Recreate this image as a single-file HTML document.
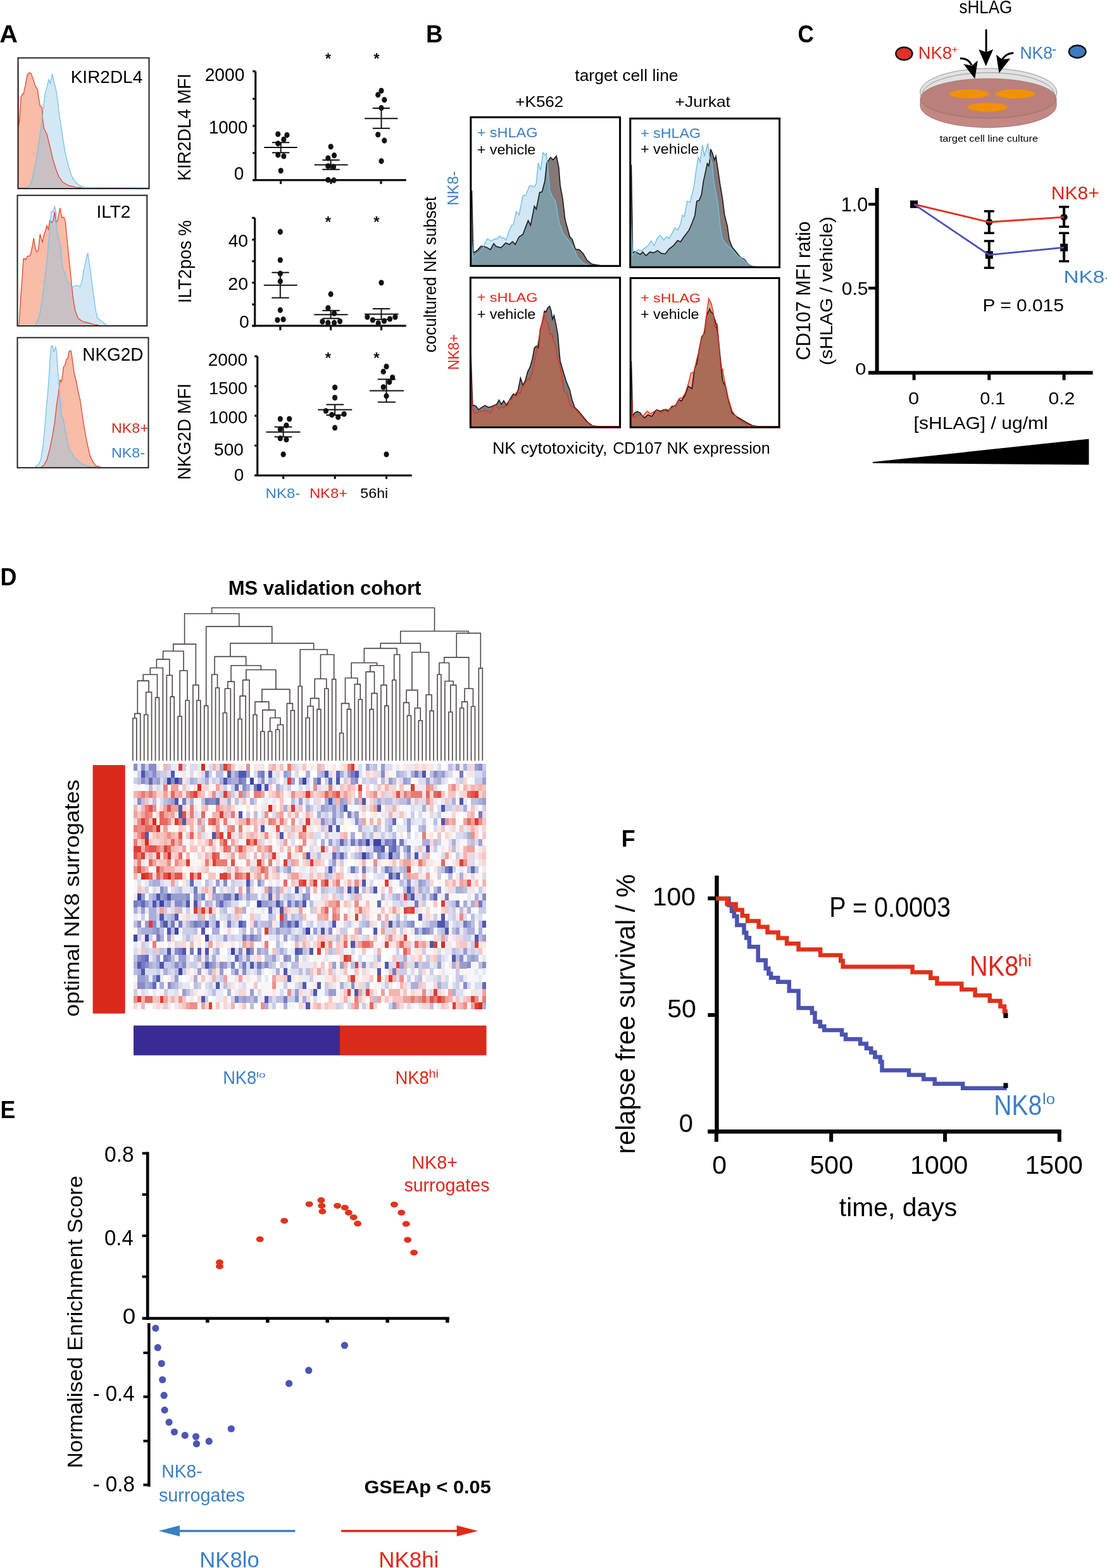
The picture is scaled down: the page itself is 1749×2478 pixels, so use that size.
<!DOCTYPE html><html><head><meta charset="utf-8"><style>html,body{margin:0;padding:0;background:#fff}svg{display:block}text{font-family:"Liberation Sans",Arial,sans-serif}</style></head><body>
<svg width="1749" height="2478" viewBox="0 0 1749 2478">
<rect width="1749" height="2478" fill="#fff"/>
<text x="-0.89" y="66.70" font-size="38.37" textLength="28.74" lengthAdjust="spacingAndGlyphs" fill="#000" font-weight="bold">A</text>
<defs>
<clipPath id="clipA1"><polygon points="28.53,296.80 28.53,296.81 28.69,97.86 29.30,199.65 30.85,190.39 33.16,153.38 35.47,148.75 37.01,148.75 40.10,134.87 43.18,117.91 46.27,114.82 49.35,116.37 52.44,125.62 55.52,134.87 57.83,139.50 59.38,141.04 60.92,153.38 63.23,167.26 66.32,168.80 67.09,184.23 69.40,202.73 74.03,211.99 78.66,230.49 83.28,250.54 87.91,265.97 92.54,278.30 98.70,287.56 107.96,292.95 120.30,296.04 131.09,296.81 131.09,296.80"/></clipPath>
<clipPath id="clipA2"><polygon points="30.07,513.60 30.07,513.63 32.39,475.07 34.70,444.23 37.01,408.75 39.33,408.75 40.87,410.30 43.18,404.90 47.81,404.13 50.89,390.25 53.21,376.37 55.52,390.25 57.83,397.96 60.15,396.42 63.23,370.20 65.55,377.91 67.09,382.54 69.40,371.74 72.49,362.49 74.03,356.32 76.34,362.49 78.66,348.61 81.74,351.69 84.05,348.61 86.37,334.73 88.68,351.69 90.99,348.61 94.85,328.56 97.93,343.98 101.02,343.21 103.33,350.15 104.87,367.11 107.96,397.96 111.04,428.80 113.36,451.94 115.67,471.99 118.75,490.49 123.38,502.83 129.55,507.46 134.18,509.00 141.89,510.54 148.06,512.86 155.77,513.63 155.77,513.60"/></clipPath>
<clipPath id="clipA3"><polygon points="64.77,738.20 64.77,738.23 69.40,735.14 74.03,726.66 78.66,709.70 83.28,686.56 86.37,668.06 89.45,640.30 92.54,620.25 94.08,606.37 94.85,600.20 97.16,603.28 98.70,594.03 100.25,580.15 102.56,577.06 104.87,567.81 107.19,566.27 108.73,557.01 110.27,553.93 112.58,555.47 114.90,572.44 117.21,589.40 120.30,601.74 123.38,618.70 126.47,631.04 129.55,652.63 132.63,672.68 135.72,691.19 138.80,705.07 141.89,718.95 145.74,728.20 151.14,735.92 158.85,738.23 158.85,738.20"/></clipPath>
</defs>
<polygon points="28.53,296.80 28.53,296.81 28.69,97.86 29.30,199.65 30.85,190.39 33.16,153.38 35.47,148.75 37.01,148.75 40.10,134.87 43.18,117.91 46.27,114.82 49.35,116.37 52.44,125.62 55.52,134.87 57.83,139.50 59.38,141.04 60.92,153.38 63.23,167.26 66.32,168.80 67.09,184.23 69.40,202.73 74.03,211.99 78.66,230.49 83.28,250.54 87.91,265.97 92.54,278.30 98.70,287.56 107.96,292.95 120.30,296.04 131.09,296.81 131.09,296.80" fill="#f9bca8"/>
<polygon points="28.53,296.80 28.53,296.81 40.10,296.81 46.27,294.50 50.89,284.47 53.98,269.05 58.61,245.92 61.69,222.78 64.77,202.73 67.86,178.06 70.94,148.75 74.03,137.96 77.11,125.62 79.43,131.79 82.51,116.37 85.60,130.25 88.68,142.58 90.99,158.01 94.08,184.23 97.16,204.28 100.25,224.32 103.33,242.83 107.96,261.34 112.58,276.76 118.75,287.56 126.47,293.73 135.72,296.04 235.19,296.81 235.19,296.80" fill="#d3e7f5"/>
<polygon points="28.53,296.80 28.53,296.81 40.10,296.81 46.27,294.50 50.89,284.47 53.98,269.05 58.61,245.92 61.69,222.78 64.77,202.73 67.86,178.06 70.94,148.75 74.03,137.96 77.11,125.62 79.43,131.79 82.51,116.37 85.60,130.25 88.68,142.58 90.99,158.01 94.08,184.23 97.16,204.28 100.25,224.32 103.33,242.83 107.96,261.34 112.58,276.76 118.75,287.56 126.47,293.73 135.72,296.04 235.19,296.81 235.19,296.80" fill="#c9c0c3" clip-path="url(#clipA1)"/>
<polyline points="28.53,296.81 28.69,97.86 29.30,199.65 30.85,190.39 33.16,153.38 35.47,148.75 37.01,148.75 40.10,134.87 43.18,117.91 46.27,114.82 49.35,116.37 52.44,125.62 55.52,134.87 57.83,139.50 59.38,141.04 60.92,153.38 63.23,167.26 66.32,168.80 67.09,184.23 69.40,202.73 74.03,211.99 78.66,230.49 83.28,250.54 87.91,265.97 92.54,278.30 98.70,287.56 107.96,292.95 120.30,296.04 131.09,296.81" fill="none" stroke="#e8452f" stroke-width="1.3"/>
<polyline points="28.53,296.81 40.10,296.81 46.27,294.50 50.89,284.47 53.98,269.05 58.61,245.92 61.69,222.78 64.77,202.73 67.86,178.06 70.94,148.75 74.03,137.96 77.11,125.62 79.43,131.79 82.51,116.37 85.60,130.25 88.68,142.58 90.99,158.01 94.08,184.23 97.16,204.28 100.25,224.32 103.33,242.83 107.96,261.34 112.58,276.76 118.75,287.56 126.47,293.73 135.72,296.04 235.19,296.81" fill="none" stroke="#74c3e6" stroke-width="1.3"/>
<rect x="28.5" y="91.5" width="207" height="206.5" fill="none" stroke="#222" stroke-width="2"/>
<polygon points="30.07,513.60 30.07,513.63 32.39,475.07 34.70,444.23 37.01,408.75 39.33,408.75 40.87,410.30 43.18,404.90 47.81,404.13 50.89,390.25 53.21,376.37 55.52,390.25 57.83,397.96 60.15,396.42 63.23,370.20 65.55,377.91 67.09,382.54 69.40,371.74 72.49,362.49 74.03,356.32 76.34,362.49 78.66,348.61 81.74,351.69 84.05,348.61 86.37,334.73 88.68,351.69 90.99,348.61 94.85,328.56 97.93,343.98 101.02,343.21 103.33,350.15 104.87,367.11 107.96,397.96 111.04,428.80 113.36,451.94 115.67,471.99 118.75,490.49 123.38,502.83 129.55,507.46 134.18,509.00 141.89,510.54 148.06,512.86 155.77,513.63 155.77,513.60" fill="#f9bca8"/>
<polygon points="55.52,513.60 55.52,513.63 60.15,505.92 63.23,495.12 66.32,475.07 69.40,451.94 72.49,428.80 75.57,397.96 78.66,359.40 80.97,334.73 84.05,333.18 86.37,326.24 88.68,336.27 89.45,364.03 92.54,376.37 95.62,388.70 98.70,422.63 101.79,428.80 106.42,444.23 111.04,450.39 114.13,453.48 117.21,451.94 123.38,451.17 126.47,453.48 129.55,444.23 132.63,425.72 135.72,411.84 138.80,399.50 141.89,421.09 144.97,444.23 148.06,467.36 151.14,490.49 154.23,502.83 160.39,507.46 168.11,513.63 168.11,513.60" fill="#d3e7f5"/>
<polygon points="55.52,513.60 55.52,513.63 60.15,505.92 63.23,495.12 66.32,475.07 69.40,451.94 72.49,428.80 75.57,397.96 78.66,359.40 80.97,334.73 84.05,333.18 86.37,326.24 88.68,336.27 89.45,364.03 92.54,376.37 95.62,388.70 98.70,422.63 101.79,428.80 106.42,444.23 111.04,450.39 114.13,453.48 117.21,451.94 123.38,451.17 126.47,453.48 129.55,444.23 132.63,425.72 135.72,411.84 138.80,399.50 141.89,421.09 144.97,444.23 148.06,467.36 151.14,490.49 154.23,502.83 160.39,507.46 168.11,513.63 168.11,513.60" fill="#c9c0c3" clip-path="url(#clipA2)"/>
<polyline points="30.07,513.63 32.39,475.07 34.70,444.23 37.01,408.75 39.33,408.75 40.87,410.30 43.18,404.90 47.81,404.13 50.89,390.25 53.21,376.37 55.52,390.25 57.83,397.96 60.15,396.42 63.23,370.20 65.55,377.91 67.09,382.54 69.40,371.74 72.49,362.49 74.03,356.32 76.34,362.49 78.66,348.61 81.74,351.69 84.05,348.61 86.37,334.73 88.68,351.69 90.99,348.61 94.85,328.56 97.93,343.98 101.02,343.21 103.33,350.15 104.87,367.11 107.96,397.96 111.04,428.80 113.36,451.94 115.67,471.99 118.75,490.49 123.38,502.83 129.55,507.46 134.18,509.00 141.89,510.54 148.06,512.86 155.77,513.63" fill="none" stroke="#e8452f" stroke-width="1.3"/>
<polyline points="55.52,513.63 60.15,505.92 63.23,495.12 66.32,475.07 69.40,451.94 72.49,428.80 75.57,397.96 78.66,359.40 80.97,334.73 84.05,333.18 86.37,326.24 88.68,336.27 89.45,364.03 92.54,376.37 95.62,388.70 98.70,422.63 101.79,428.80 106.42,444.23 111.04,450.39 114.13,453.48 117.21,451.94 123.38,451.17 126.47,453.48 129.55,444.23 132.63,425.72 135.72,411.84 138.80,399.50 141.89,421.09 144.97,444.23 148.06,467.36 151.14,490.49 154.23,502.83 160.39,507.46 168.11,513.63" fill="none" stroke="#74c3e6" stroke-width="1.3"/>
<rect x="27.5" y="308.7" width="204.8" height="206.3" fill="none" stroke="#222" stroke-width="2"/>
<polygon points="64.77,738.20 64.77,738.23 69.40,735.14 74.03,726.66 78.66,709.70 83.28,686.56 86.37,668.06 89.45,640.30 92.54,620.25 94.08,606.37 94.85,600.20 97.16,603.28 98.70,594.03 100.25,580.15 102.56,577.06 104.87,567.81 107.19,566.27 108.73,557.01 110.27,553.93 112.58,555.47 114.90,572.44 117.21,589.40 120.30,601.74 123.38,618.70 126.47,631.04 129.55,652.63 132.63,672.68 135.72,691.19 138.80,705.07 141.89,718.95 145.74,728.20 151.14,735.92 158.85,738.23 158.85,738.20" fill="#f9bca8"/>
<polygon points="55.52,738.20 55.52,738.23 61.69,732.83 64.77,725.12 67.86,705.07 70.94,674.23 73.26,643.38 75.57,620.25 77.88,589.40 79.43,563.18 80.97,546.99 83.28,546.99 84.82,555.47 86.37,553.16 87.91,548.53 89.45,555.47 90.99,578.61 92.54,600.20 94.85,627.96 97.16,655.72 100.25,663.43 103.33,681.94 106.42,697.36 109.50,711.24 114.13,715.87 117.21,723.58 121.84,726.66 126.47,731.29 131.09,734.37 138.80,736.69 146.51,737.77 154.23,738.23 154.23,738.20" fill="#d3e7f5"/>
<polygon points="55.52,738.20 55.52,738.23 61.69,732.83 64.77,725.12 67.86,705.07 70.94,674.23 73.26,643.38 75.57,620.25 77.88,589.40 79.43,563.18 80.97,546.99 83.28,546.99 84.82,555.47 86.37,553.16 87.91,548.53 89.45,555.47 90.99,578.61 92.54,600.20 94.85,627.96 97.16,655.72 100.25,663.43 103.33,681.94 106.42,697.36 109.50,711.24 114.13,715.87 117.21,723.58 121.84,726.66 126.47,731.29 131.09,734.37 138.80,736.69 146.51,737.77 154.23,738.23 154.23,738.20" fill="#c9c0c3" clip-path="url(#clipA3)"/>
<polyline points="64.77,738.23 69.40,735.14 74.03,726.66 78.66,709.70 83.28,686.56 86.37,668.06 89.45,640.30 92.54,620.25 94.08,606.37 94.85,600.20 97.16,603.28 98.70,594.03 100.25,580.15 102.56,577.06 104.87,567.81 107.19,566.27 108.73,557.01 110.27,553.93 112.58,555.47 114.90,572.44 117.21,589.40 120.30,601.74 123.38,618.70 126.47,631.04 129.55,652.63 132.63,672.68 135.72,691.19 138.80,705.07 141.89,718.95 145.74,728.20 151.14,735.92 158.85,738.23" fill="none" stroke="#e8452f" stroke-width="1.3"/>
<polyline points="55.52,738.23 61.69,732.83 64.77,725.12 67.86,705.07 70.94,674.23 73.26,643.38 75.57,620.25 77.88,589.40 79.43,563.18 80.97,546.99 83.28,546.99 84.82,555.47 86.37,553.16 87.91,548.53 89.45,555.47 90.99,578.61 92.54,600.20 94.85,627.96 97.16,655.72 100.25,663.43 103.33,681.94 106.42,697.36 109.50,711.24 114.13,715.87 117.21,723.58 121.84,726.66 126.47,731.29 131.09,734.37 138.80,736.69 146.51,737.77 154.23,738.23" fill="none" stroke="#74c3e6" stroke-width="1.3"/>
<rect x="27.5" y="533.6" width="207" height="205.6" fill="none" stroke="#222" stroke-width="2"/>
<text x="111.71" y="131.00" font-size="28.05" textLength="113.51" lengthAdjust="spacingAndGlyphs" fill="#000">KIR2DL4</text>
<text x="152.51" y="344.00" font-size="28.05" textLength="53.94" lengthAdjust="spacingAndGlyphs" fill="#000">ILT2</text>
<text x="130.31" y="569.70" font-size="28.63" textLength="96.02" lengthAdjust="spacingAndGlyphs" fill="#000">NKG2D</text>
<text x="176.10" y="683.80" font-size="21.80" textLength="58.65" lengthAdjust="spacingAndGlyphs" fill="#e0261b">NK8+</text>
<text x="176.09" y="722.80" font-size="22.38" textLength="52.94" lengthAdjust="spacingAndGlyphs" fill="#3b7fc4">NK8-</text>
<g stroke="#111" stroke-width="3.2" fill="none">
<line x1="403.7" y1="112.7" x2="403.7" y2="286.1"/>
<line x1="399.5" y1="284.6" x2="641.7" y2="284.6"/>
<line x1="399.2" y1="112.7" x2="403.7" y2="112.7"/>
<line x1="399.2" y1="156.2" x2="403.7" y2="156.2"/>
<line x1="399.2" y1="199" x2="403.7" y2="199"/>
<line x1="399.2" y1="241.8" x2="403.7" y2="241.8"/>
<line x1="399.2" y1="284.6" x2="403.7" y2="284.6"/>
<line x1="443.6" y1="284.6" x2="443.6" y2="290.8"/>
<line x1="523" y1="284.6" x2="523" y2="290.8"/>
<line x1="602" y1="284.6" x2="602" y2="290.8"/>
</g>
<ellipse cx="439.20" cy="212.00" rx="4.1" ry="4.55" fill="#111"/>
<ellipse cx="453.40" cy="213.40" rx="4.1" ry="4.55" fill="#111"/>
<ellipse cx="448.30" cy="220.40" rx="4.1" ry="4.55" fill="#111"/>
<ellipse cx="439.20" cy="226.90" rx="4.1" ry="4.55" fill="#111"/>
<ellipse cx="439.20" cy="244.90" rx="4.1" ry="4.55" fill="#111"/>
<ellipse cx="448.30" cy="246.90" rx="4.1" ry="4.55" fill="#111"/>
<ellipse cx="443.70" cy="269.70" rx="4.1" ry="4.55" fill="#111"/>
<line x1="417.3" y1="233.1" x2="469.7" y2="233.1" stroke="#111" stroke-width="2"/>
<line x1="430" y1="225.2" x2="457.2" y2="225.2" stroke="#111" stroke-width="2"/>
<line x1="430" y1="241.3" x2="457.2" y2="241.3" stroke="#111" stroke-width="2"/>
<line x1="443.7" y1="225.2" x2="443.7" y2="241.3" stroke="#111" stroke-width="2"/>
<ellipse cx="522.60" cy="231.70" rx="4.1" ry="4.55" fill="#111"/>
<ellipse cx="528.00" cy="245.60" rx="4.1" ry="4.55" fill="#111"/>
<ellipse cx="518.30" cy="250.00" rx="4.1" ry="4.55" fill="#111"/>
<ellipse cx="518.30" cy="262.50" rx="4.1" ry="4.55" fill="#111"/>
<ellipse cx="527.00" cy="263.70" rx="4.1" ry="4.55" fill="#111"/>
<ellipse cx="518.30" cy="284.20" rx="4.1" ry="4.55" fill="#111"/>
<ellipse cx="527.50" cy="284.90" rx="4.1" ry="4.55" fill="#111"/>
<line x1="496.7" y1="260.6" x2="549.6" y2="260.6" stroke="#111" stroke-width="2"/>
<line x1="509.4" y1="252.9" x2="536.6" y2="252.9" stroke="#111" stroke-width="2"/>
<line x1="509.4" y1="267.8" x2="536.6" y2="267.8" stroke="#111" stroke-width="2"/>
<line x1="522.6" y1="252.9" x2="522.6" y2="267.8" stroke="#111" stroke-width="2"/>
<ellipse cx="602.50" cy="143.40" rx="4.1" ry="4.55" fill="#111"/>
<ellipse cx="597.20" cy="149.90" rx="4.1" ry="4.55" fill="#111"/>
<ellipse cx="607.30" cy="157.80" rx="4.1" ry="4.55" fill="#111"/>
<ellipse cx="602.50" cy="170.60" rx="4.1" ry="4.55" fill="#111"/>
<ellipse cx="597.20" cy="212.70" rx="4.1" ry="4.55" fill="#111"/>
<ellipse cx="607.30" cy="222.10" rx="4.1" ry="4.55" fill="#111"/>
<ellipse cx="602.50" cy="254.60" rx="4.1" ry="4.55" fill="#111"/>
<line x1="576" y1="187.2" x2="628.5" y2="187.2" stroke="#111" stroke-width="2"/>
<line x1="588.8" y1="171" x2="616" y2="171" stroke="#111" stroke-width="2"/>
<line x1="588.8" y1="202.8" x2="616" y2="202.8" stroke="#111" stroke-width="2"/>
<line x1="602.5" y1="171" x2="602.5" y2="202.8" stroke="#111" stroke-width="2"/>
<text x="518.3" y="101" font-size="24" font-weight="bold" text-anchor="middle" fill="#111">*</text>
<text x="594.8" y="101" font-size="24" font-weight="bold" text-anchor="middle" fill="#111">*</text>
<g stroke="#111" stroke-width="3.2" fill="none">
<line x1="402.7" y1="344.4" x2="402.7" y2="516.4"/>
<line x1="398.7" y1="514.9" x2="641.7" y2="514.9"/>
<line x1="398.2" y1="344.4" x2="402.7" y2="344.4"/>
<line x1="398.2" y1="378.8" x2="402.7" y2="378.8"/>
<line x1="398.2" y1="412.8" x2="402.7" y2="412.8"/>
<line x1="398.2" y1="446.7" x2="402.7" y2="446.7"/>
<line x1="398.2" y1="481.1" x2="402.7" y2="481.1"/>
<line x1="398.2" y1="514.9" x2="402.7" y2="514.9"/>
<line x1="442.8" y1="514.9" x2="442.8" y2="522"/>
<line x1="522.6" y1="514.9" x2="522.6" y2="522"/>
<line x1="602.5" y1="514.9" x2="602.5" y2="522"/>
</g>
<ellipse cx="442.80" cy="366.40" rx="4.1" ry="4.55" fill="#111"/>
<ellipse cx="442.80" cy="411.00" rx="4.1" ry="4.55" fill="#111"/>
<ellipse cx="442.80" cy="432.40" rx="4.1" ry="4.55" fill="#111"/>
<ellipse cx="442.80" cy="444.60" rx="4.1" ry="4.55" fill="#111"/>
<ellipse cx="442.80" cy="490.10" rx="4.1" ry="4.55" fill="#111"/>
<ellipse cx="438.40" cy="505.80" rx="4.1" ry="4.55" fill="#111"/>
<ellipse cx="447.60" cy="504.80" rx="4.1" ry="4.55" fill="#111"/>
<line x1="416.8" y1="450.7" x2="469.7" y2="450.7" stroke="#111" stroke-width="2"/>
<line x1="429.3" y1="430.7" x2="456.7" y2="430.7" stroke="#111" stroke-width="2"/>
<line x1="429.3" y1="470.6" x2="456.7" y2="470.6" stroke="#111" stroke-width="2"/>
<line x1="442.8" y1="430.7" x2="442.8" y2="470.6" stroke="#111" stroke-width="2"/>
<ellipse cx="522.60" cy="464.90" rx="4.1" ry="4.55" fill="#111"/>
<ellipse cx="518.30" cy="486.70" rx="4.1" ry="4.55" fill="#111"/>
<ellipse cx="528.00" cy="495.20" rx="4.1" ry="4.55" fill="#111"/>
<ellipse cx="509.40" cy="508.20" rx="4.1" ry="4.55" fill="#111"/>
<ellipse cx="518.30" cy="510.10" rx="4.1" ry="4.55" fill="#111"/>
<ellipse cx="528.00" cy="510.10" rx="4.1" ry="4.55" fill="#111"/>
<ellipse cx="537.10" cy="507.70" rx="4.1" ry="4.55" fill="#111"/>
<line x1="496.2" y1="497.3" x2="549.6" y2="497.3" stroke="#111" stroke-width="2"/>
<line x1="509.4" y1="490.8" x2="536.6" y2="490.8" stroke="#111" stroke-width="2"/>
<line x1="509.4" y1="503.3" x2="536.6" y2="503.3" stroke="#111" stroke-width="2"/>
<line x1="522.6" y1="490.8" x2="522.6" y2="503.3" stroke="#111" stroke-width="2"/>
<ellipse cx="602.50" cy="446.80" rx="4.1" ry="4.55" fill="#111"/>
<ellipse cx="580.40" cy="501.00" rx="4.1" ry="4.55" fill="#111"/>
<ellipse cx="588.80" cy="505.80" rx="4.1" ry="4.55" fill="#111"/>
<ellipse cx="597.70" cy="510.80" rx="4.1" ry="4.55" fill="#111"/>
<ellipse cx="606.90" cy="507.20" rx="4.1" ry="4.55" fill="#111"/>
<ellipse cx="616.00" cy="504.00" rx="4.1" ry="4.55" fill="#111"/>
<ellipse cx="624.40" cy="501.00" rx="4.1" ry="4.55" fill="#111"/>
<line x1="576" y1="496.4" x2="629.7" y2="496.4" stroke="#111" stroke-width="2"/>
<line x1="588.8" y1="488" x2="616" y2="488" stroke="#111" stroke-width="2"/>
<line x1="588.8" y1="504.8" x2="616" y2="504.8" stroke="#111" stroke-width="2"/>
<line x1="602.5" y1="488" x2="602.5" y2="504.8" stroke="#111" stroke-width="2"/>
<text x="518.3" y="359" font-size="24" font-weight="bold" text-anchor="middle" fill="#111">*</text>
<text x="594.8" y="359" font-size="24" font-weight="bold" text-anchor="middle" fill="#111">*</text>
<g stroke="#111" stroke-width="3.2" fill="none">
<line x1="406.7" y1="563" x2="406.7" y2="752.8"/>
<line x1="402.3" y1="751.3" x2="650.7" y2="751.3"/>
<line x1="402.2" y1="563" x2="406.7" y2="563"/>
<line x1="402.2" y1="610.2" x2="406.7" y2="610.2"/>
<line x1="402.2" y1="657.1" x2="406.7" y2="657.1"/>
<line x1="402.2" y1="704.2" x2="406.7" y2="704.2"/>
<line x1="402.2" y1="751.3" x2="406.7" y2="751.3"/>
<line x1="447.6" y1="751.3" x2="447.6" y2="757"/>
<line x1="529.1" y1="751.3" x2="529.1" y2="757"/>
<line x1="610.5" y1="751.3" x2="610.5" y2="757"/>
</g>
<ellipse cx="442.80" cy="662.00" rx="4.1" ry="4.55" fill="#111"/>
<ellipse cx="457.20" cy="662.00" rx="4.1" ry="4.55" fill="#111"/>
<ellipse cx="452.40" cy="672.30" rx="4.1" ry="4.55" fill="#111"/>
<ellipse cx="442.80" cy="678.40" rx="4.1" ry="4.55" fill="#111"/>
<ellipse cx="442.80" cy="692.80" rx="4.1" ry="4.55" fill="#111"/>
<ellipse cx="452.40" cy="694.70" rx="4.1" ry="4.55" fill="#111"/>
<ellipse cx="447.60" cy="718.00" rx="4.1" ry="4.55" fill="#111"/>
<line x1="420.4" y1="682.7" x2="474.5" y2="682.7" stroke="#111" stroke-width="2"/>
<line x1="433.6" y1="674.7" x2="461.3" y2="674.7" stroke="#111" stroke-width="2"/>
<line x1="433.6" y1="690.4" x2="461.3" y2="690.4" stroke="#111" stroke-width="2"/>
<line x1="447.6" y1="674.7" x2="447.6" y2="690.4" stroke="#111" stroke-width="2"/>
<ellipse cx="529.10" cy="612.20" rx="4.1" ry="4.55" fill="#111"/>
<ellipse cx="529.10" cy="628.50" rx="4.1" ry="4.55" fill="#111"/>
<ellipse cx="514.90" cy="649.50" rx="4.1" ry="4.55" fill="#111"/>
<ellipse cx="524.30" cy="655.50" rx="4.1" ry="4.55" fill="#111"/>
<ellipse cx="534.20" cy="659.10" rx="4.1" ry="4.55" fill="#111"/>
<ellipse cx="543.60" cy="654.30" rx="4.1" ry="4.55" fill="#111"/>
<ellipse cx="529.10" cy="676.00" rx="4.1" ry="4.55" fill="#111"/>
<line x1="502.2" y1="647.6" x2="556.3" y2="647.6" stroke="#111" stroke-width="2"/>
<line x1="515.4" y1="639.4" x2="543.1" y2="639.4" stroke="#111" stroke-width="2"/>
<line x1="515.4" y1="656" x2="543.1" y2="656" stroke="#111" stroke-width="2"/>
<line x1="529.1" y1="639.4" x2="529.1" y2="656" stroke="#111" stroke-width="2"/>
<ellipse cx="610.50" cy="579.20" rx="4.1" ry="4.55" fill="#111"/>
<ellipse cx="605.70" cy="587.40" rx="4.1" ry="4.55" fill="#111"/>
<ellipse cx="620.10" cy="596.50" rx="4.1" ry="4.55" fill="#111"/>
<ellipse cx="615.30" cy="603.80" rx="4.1" ry="4.55" fill="#111"/>
<ellipse cx="605.70" cy="611.70" rx="4.1" ry="4.55" fill="#111"/>
<ellipse cx="610.50" cy="625.90" rx="4.1" ry="4.55" fill="#111"/>
<ellipse cx="610.50" cy="718.00" rx="4.1" ry="4.55" fill="#111"/>
<line x1="584" y1="617.5" x2="638.1" y2="617.5" stroke="#111" stroke-width="2"/>
<line x1="596.8" y1="599.4" x2="624.9" y2="599.4" stroke="#111" stroke-width="2"/>
<line x1="596.8" y1="635.5" x2="624.9" y2="635.5" stroke="#111" stroke-width="2"/>
<line x1="610.5" y1="599.4" x2="610.5" y2="635.5" stroke="#111" stroke-width="2"/>
<text x="518.3" y="573.5" font-size="24" font-weight="bold" text-anchor="middle" fill="#111">*</text>
<text x="594.8" y="573.5" font-size="24" font-weight="bold" text-anchor="middle" fill="#111">*</text>
<text x="323.68" y="127.62" font-size="29.10" textLength="62.72" lengthAdjust="spacingAndGlyphs" fill="#000">2000</text>
<text x="329.89" y="210.52" font-size="29.10" textLength="61.48" lengthAdjust="spacingAndGlyphs" fill="#000">1000</text>
<text x="369.81" y="283.62" font-size="29.10" textLength="15.59" lengthAdjust="spacingAndGlyphs" fill="#000">0</text>
<text x="360.65" y="389.82" font-size="28.25" textLength="31.45" lengthAdjust="spacingAndGlyphs" fill="#000">40</text>
<text x="360.36" y="457.72" font-size="28.25" textLength="31.75" lengthAdjust="spacingAndGlyphs" fill="#000">20</text>
<text x="378.10" y="518.33" font-size="27.68" textLength="15.71" lengthAdjust="spacingAndGlyphs" fill="#000">0</text>
<text x="328.69" y="578.02" font-size="28.53" textLength="62.30" lengthAdjust="spacingAndGlyphs" fill="#000">2000</text>
<text x="329.91" y="623.02" font-size="28.39" textLength="61.06" lengthAdjust="spacingAndGlyphs" fill="#000">1500</text>
<text x="329.91" y="669.42" font-size="28.39" textLength="61.06" lengthAdjust="spacingAndGlyphs" fill="#000">1000</text>
<text x="338.08" y="720.22" font-size="28.39" textLength="46.71" lengthAdjust="spacingAndGlyphs" fill="#000">500</text>
<text x="369.71" y="759.92" font-size="28.39" textLength="15.59" lengthAdjust="spacingAndGlyphs" fill="#000">0</text>
<text transform="translate(300.50,283.40) rotate(-90)" x="-2.30" y="0" font-size="29.51" textLength="169.58" lengthAdjust="spacingAndGlyphs" fill="#000">KIR2DL4 MFI</text>
<text transform="translate(301.50,476.40) rotate(-90)" x="-2.53" y="0" font-size="30.09" textLength="131.01" lengthAdjust="spacingAndGlyphs" fill="#000">ILT2pos %</text>
<text transform="translate(300.60,756.00) rotate(-90)" x="-2.29" y="0" font-size="28.78" textLength="152.28" lengthAdjust="spacingAndGlyphs" fill="#000">NKG2D MFI</text>
<text x="419.63" y="787.10" font-size="21.66" textLength="54.74" lengthAdjust="spacingAndGlyphs" fill="#3b7fc4">NK8-</text>
<text x="488.95" y="787.10" font-size="21.66" textLength="60.12" lengthAdjust="spacingAndGlyphs" fill="#e0261b">NK8+</text>
<text x="569.37" y="787.10" font-size="21.66" textLength="43.89" lengthAdjust="spacingAndGlyphs" fill="#000">56hi</text>
<text x="672.94" y="66.70" font-size="38.52" textLength="26.52" lengthAdjust="spacingAndGlyphs" fill="#000" font-weight="bold">B</text>
<text x="908.30" y="128.40" font-size="25.00" textLength="163.28" lengthAdjust="spacingAndGlyphs" fill="#000">target cell line</text>
<text x="814.33" y="168.80" font-size="23.40" textLength="75.98" lengthAdjust="spacingAndGlyphs" fill="#000">+K562</text>
<text x="1066.61" y="168.80" font-size="23.40" textLength="87.28" lengthAdjust="spacingAndGlyphs" fill="#000">+Jurkat</text>
<defs>
<clipPath id="clipB1"><polygon points="745.29,420.33 745.44,300.92 747.56,398.41 750.58,398.41 755.11,394.63 759.65,389.34 764.18,389.34 770.23,391.61 774.76,394.63 780.05,384.81 783.83,389.34 791.39,391.61 798.95,384.05 804.99,386.32 809.53,381.78 814.06,386.32 820.11,374.23 826.15,370.45 830.69,358.36 834.47,348.53 838.25,356.09 844.29,325.86 847.32,330.39 852.61,303.94 856.38,303.19 860.92,285.80 863.94,257.09 869.99,248.77 873.77,252.55 879.06,246.51 882.84,264.64 885.10,293.36 888.88,313.01 892.66,346.26 900.22,374.23 904.00,378.00 909.29,393.88 915.33,394.63 921.38,400.68 927.42,411.26 934.98,417.30 951.61,420.33 978.06,420.33"/></clipPath>
<clipPath id="clipB2"><polygon points="997.29,422.33 997.44,260.60 999.56,399.65 1002.58,397.39 1007.11,399.65 1011.65,401.92 1015.43,398.14 1020.72,404.19 1026.76,398.14 1032.81,399.65 1038.86,395.88 1044.90,400.41 1050.95,401.17 1056.99,393.61 1064.55,387.56 1070.60,380.00 1075.13,382.27 1079.67,375.47 1088.74,363.38 1093.27,352.80 1097.80,340.71 1100.83,318.03 1104.61,316.52 1108.38,307.45 1111.41,286.29 1114.43,272.69 1117.45,258.33 1119.72,262.11 1121.23,254.55 1122.74,235.66 1125.77,242.46 1128.79,253.04 1131.06,246.99 1134.08,266.64 1137.10,287.80 1141.64,315.01 1144.66,339.19 1149.19,357.33 1152.22,378.49 1156.75,390.59 1164.31,399.65 1170.36,407.21 1176.40,410.23 1182.45,417.79 1188.49,420.81 1196.05,422.33 1230.06,422.33"/></clipPath>
<clipPath id="clipB3"><polygon points="743.78,673.81 743.93,560.45 746.80,641.32 749.82,640.56 752.85,642.83 755.87,647.36 761.16,643.59 766.45,640.86 771.74,643.59 776.28,642.83 780.81,640.56 784.59,639.05 788.37,632.25 792.15,639.05 795.93,633.31 800.46,640.56 803.48,634.52 807.26,628.47 811.04,622.42 815.57,624.69 818.60,616.38 822.38,597.48 826.15,608.82 829.93,601.26 833.71,587.66 837.49,580.10 841.27,566.50 844.29,549.87 847.32,546.85 850.34,549.87 853.36,521.15 856.38,510.57 860.16,491.68 862.43,493.19 865.45,486.39 868.48,484.12 870.74,490.93 873.01,504.53 875.28,498.48 878.30,512.09 881.32,528.71 883.59,555.92 885.10,571.03 889.64,586.15 894.17,601.26 900.22,616.38 903.24,629.98 907.78,643.59 913.82,649.63 921.38,658.70 928.94,667.77 936.49,673.06 944.05,673.81 978.06,673.81"/></clipPath>
<clipPath id="clipB4"><polygon points="997.29,674.12 997.44,571.03 999.56,657.19 1003.34,651.90 1007.11,650.39 1011.65,652.65 1016.18,658.70 1018.45,660.21 1023.74,655.68 1029.79,657.94 1037.34,647.36 1043.39,649.63 1049.44,647.36 1055.48,649.63 1061.53,642.83 1067.57,640.56 1072.11,631.49 1076.64,633.76 1082.69,623.94 1087.22,610.33 1093.27,614.11 1097.80,580.10 1100.83,575.57 1103.85,555.92 1108.38,533.25 1112.92,525.69 1115.94,499.99 1121.23,487.90 1123.50,493.19 1126.52,495.46 1131.06,510.57 1134.08,525.69 1137.10,555.92 1141.64,601.26 1146.17,610.33 1150.71,631.49 1156.75,652.65 1164.31,658.70 1171.87,663.23 1179.42,667.77 1188.49,672.30 1196.05,673.81 1230.06,674.12"/></clipPath>
</defs>
<polygon points="745.29,420.33 745.44,300.92 747.56,398.41 750.58,398.41 755.11,394.63 759.65,389.34 764.18,389.34 770.23,391.61 774.76,394.63 780.05,384.81 783.83,389.34 791.39,391.61 798.95,384.05 804.99,386.32 809.53,381.78 814.06,386.32 820.11,374.23 826.15,370.45 830.69,358.36 834.47,348.53 838.25,356.09 844.29,325.86 847.32,330.39 852.61,303.94 856.38,303.19 860.92,285.80 863.94,257.09 869.99,248.77 873.77,252.55 879.06,246.51 882.84,264.64 885.10,293.36 888.88,313.01 892.66,346.26 900.22,374.23 904.00,378.00 909.29,393.88 915.33,394.63 921.38,400.68 927.42,411.26 934.98,417.30 951.61,420.33 978.06,420.33" fill="#857877"/>
<polygon points="745.29,420.33 745.44,382.54 747.56,406.72 752.09,402.19 758.14,397.65 762.67,393.12 767.21,382.54 770.23,377.25 776.28,381.03 780.81,378.00 785.34,377.25 789.12,372.71 792.90,376.49 795.93,375.74 799.70,379.52 803.48,367.42 808.02,356.09 811.04,355.33 815.57,334.17 820.11,339.46 826.15,309.23 830.69,308.48 836.74,293.36 844.29,294.87 847.32,289.58 850.34,257.09 854.12,269.18 857.90,241.22 860.92,244.99 863.19,242.73 865.45,261.62 868.48,300.92 873.01,311.50 877.55,317.55 883.59,352.31 889.64,368.94 894.17,374.98 900.22,382.54 906.26,391.61 912.31,406.72 921.38,415.79 930.45,419.57 941.03,420.33 978.06,420.33" fill="#d2e7f5"/>
<polygon points="745.29,420.33 745.44,382.54 747.56,406.72 752.09,402.19 758.14,397.65 762.67,393.12 767.21,382.54 770.23,377.25 776.28,381.03 780.81,378.00 785.34,377.25 789.12,372.71 792.90,376.49 795.93,375.74 799.70,379.52 803.48,367.42 808.02,356.09 811.04,355.33 815.57,334.17 820.11,339.46 826.15,309.23 830.69,308.48 836.74,293.36 844.29,294.87 847.32,289.58 850.34,257.09 854.12,269.18 857.90,241.22 860.92,244.99 863.19,242.73 865.45,261.62 868.48,300.92 873.01,311.50 877.55,317.55 883.59,352.31 889.64,368.94 894.17,374.98 900.22,382.54 906.26,391.61 912.31,406.72 921.38,415.79 930.45,419.57 941.03,420.33 978.06,420.33" fill="#7f9ba6" clip-path="url(#clipB1)"/>
<polyline points="745.44,300.92 747.56,398.41 750.58,398.41 755.11,394.63 759.65,389.34 764.18,389.34 770.23,391.61 774.76,394.63 780.05,384.81 783.83,389.34 791.39,391.61 798.95,384.05 804.99,386.32 809.53,381.78 814.06,386.32 820.11,374.23 826.15,370.45 830.69,358.36 834.47,348.53 838.25,356.09 844.29,325.86 847.32,330.39 852.61,303.94 856.38,303.19 860.92,285.80 863.94,257.09 869.99,248.77 873.77,252.55 879.06,246.51 882.84,264.64 885.10,293.36 888.88,313.01 892.66,346.26 900.22,374.23 904.00,378.00 909.29,393.88 915.33,394.63 921.38,400.68 927.42,411.26 934.98,417.30 951.61,420.33 978.06,420.33" fill="none" stroke="#1a1a1a" stroke-width="1.6"/>
<polyline points="745.44,382.54 747.56,406.72 752.09,402.19 758.14,397.65 762.67,393.12 767.21,382.54 770.23,377.25 776.28,381.03 780.81,378.00 785.34,377.25 789.12,372.71 792.90,376.49 795.93,375.74 799.70,379.52 803.48,367.42 808.02,356.09 811.04,355.33 815.57,334.17 820.11,339.46 826.15,309.23 830.69,308.48 836.74,293.36 844.29,294.87 847.32,289.58 850.34,257.09 854.12,269.18 857.90,241.22 860.92,244.99 863.19,242.73 865.45,261.62 868.48,300.92 873.01,311.50 877.55,317.55 883.59,352.31 889.64,368.94 894.17,374.98 900.22,382.54 906.26,391.61 912.31,406.72 921.38,415.79 930.45,419.57 941.03,420.33 978.06,420.33" fill="none" stroke="#6cbfe6" stroke-width="1.4"/>
<rect x="743.8" y="185.3" width="235.8" height="235" fill="none" stroke="#000" stroke-width="3"/>
<polygon points="997.29,422.33 997.44,260.60 999.56,399.65 1002.58,397.39 1007.11,399.65 1011.65,401.92 1015.43,398.14 1020.72,404.19 1026.76,398.14 1032.81,399.65 1038.86,395.88 1044.90,400.41 1050.95,401.17 1056.99,393.61 1064.55,387.56 1070.60,380.00 1075.13,382.27 1079.67,375.47 1088.74,363.38 1093.27,352.80 1097.80,340.71 1100.83,318.03 1104.61,316.52 1108.38,307.45 1111.41,286.29 1114.43,272.69 1117.45,258.33 1119.72,262.11 1121.23,254.55 1122.74,235.66 1125.77,242.46 1128.79,253.04 1131.06,246.99 1134.08,266.64 1137.10,287.80 1141.64,315.01 1144.66,339.19 1149.19,357.33 1152.22,378.49 1156.75,390.59 1164.31,399.65 1170.36,407.21 1176.40,410.23 1182.45,417.79 1188.49,420.81 1196.05,422.33 1230.06,422.33" fill="#857877"/>
<polygon points="997.29,422.33 997.44,355.82 999.56,404.19 1004.09,398.14 1008.63,394.36 1013.16,396.63 1017.70,392.85 1023.74,388.32 1029.03,380.76 1033.57,388.32 1038.86,375.47 1043.39,371.69 1048.68,379.25 1053.22,373.96 1056.99,376.98 1061.53,369.42 1066.06,360.36 1070.60,363.38 1075.13,354.31 1078.15,339.95 1081.18,342.22 1085.71,318.03 1090.25,319.55 1096.29,295.36 1099.32,272.69 1103.09,248.51 1106.12,256.06 1109.90,228.86 1112.92,246.99 1118.21,226.59 1121.23,248.51 1125.01,257.57 1128.03,287.80 1134.08,321.06 1138.61,363.38 1141.64,378.49 1146.17,384.54 1152.22,390.59 1155.24,392.10 1161.29,399.65 1167.33,405.70 1176.40,411.75 1182.45,417.79 1191.52,421.57 1230.06,422.33" fill="#d2e7f5"/>
<polygon points="997.29,422.33 997.44,355.82 999.56,404.19 1004.09,398.14 1008.63,394.36 1013.16,396.63 1017.70,392.85 1023.74,388.32 1029.03,380.76 1033.57,388.32 1038.86,375.47 1043.39,371.69 1048.68,379.25 1053.22,373.96 1056.99,376.98 1061.53,369.42 1066.06,360.36 1070.60,363.38 1075.13,354.31 1078.15,339.95 1081.18,342.22 1085.71,318.03 1090.25,319.55 1096.29,295.36 1099.32,272.69 1103.09,248.51 1106.12,256.06 1109.90,228.86 1112.92,246.99 1118.21,226.59 1121.23,248.51 1125.01,257.57 1128.03,287.80 1134.08,321.06 1138.61,363.38 1141.64,378.49 1146.17,384.54 1152.22,390.59 1155.24,392.10 1161.29,399.65 1167.33,405.70 1176.40,411.75 1182.45,417.79 1191.52,421.57 1230.06,422.33" fill="#7f9ba6" clip-path="url(#clipB2)"/>
<polyline points="997.44,260.60 999.56,399.65 1002.58,397.39 1007.11,399.65 1011.65,401.92 1015.43,398.14 1020.72,404.19 1026.76,398.14 1032.81,399.65 1038.86,395.88 1044.90,400.41 1050.95,401.17 1056.99,393.61 1064.55,387.56 1070.60,380.00 1075.13,382.27 1079.67,375.47 1088.74,363.38 1093.27,352.80 1097.80,340.71 1100.83,318.03 1104.61,316.52 1108.38,307.45 1111.41,286.29 1114.43,272.69 1117.45,258.33 1119.72,262.11 1121.23,254.55 1122.74,235.66 1125.77,242.46 1128.79,253.04 1131.06,246.99 1134.08,266.64 1137.10,287.80 1141.64,315.01 1144.66,339.19 1149.19,357.33 1152.22,378.49 1156.75,390.59 1164.31,399.65 1170.36,407.21 1176.40,410.23 1182.45,417.79 1188.49,420.81 1196.05,422.33 1230.06,422.33" fill="none" stroke="#1a1a1a" stroke-width="1.6"/>
<polyline points="997.44,355.82 999.56,404.19 1004.09,398.14 1008.63,394.36 1013.16,396.63 1017.70,392.85 1023.74,388.32 1029.03,380.76 1033.57,388.32 1038.86,375.47 1043.39,371.69 1048.68,379.25 1053.22,373.96 1056.99,376.98 1061.53,369.42 1066.06,360.36 1070.60,363.38 1075.13,354.31 1078.15,339.95 1081.18,342.22 1085.71,318.03 1090.25,319.55 1096.29,295.36 1099.32,272.69 1103.09,248.51 1106.12,256.06 1109.90,228.86 1112.92,246.99 1118.21,226.59 1121.23,248.51 1125.01,257.57 1128.03,287.80 1134.08,321.06 1138.61,363.38 1141.64,378.49 1146.17,384.54 1152.22,390.59 1155.24,392.10 1161.29,399.65 1167.33,405.70 1176.40,411.75 1182.45,417.79 1191.52,421.57 1230.06,422.33" fill="none" stroke="#6cbfe6" stroke-width="1.4"/>
<rect x="995.8" y="187.3" width="235.8" height="235" fill="none" stroke="#000" stroke-width="3"/>
<polygon points="743.78,673.81 743.93,560.45 746.80,641.32 749.82,640.56 752.85,642.83 755.87,647.36 761.16,643.59 766.45,640.86 771.74,643.59 776.28,642.83 780.81,640.56 784.59,639.05 788.37,632.25 792.15,639.05 795.93,633.31 800.46,640.56 803.48,634.52 807.26,628.47 811.04,622.42 815.57,624.69 818.60,616.38 822.38,597.48 826.15,608.82 829.93,601.26 833.71,587.66 837.49,580.10 841.27,566.50 844.29,549.87 847.32,546.85 850.34,549.87 853.36,521.15 856.38,510.57 860.16,491.68 862.43,493.19 865.45,486.39 868.48,484.12 870.74,490.93 873.01,504.53 875.28,498.48 878.30,512.09 881.32,528.71 883.59,555.92 885.10,571.03 889.64,586.15 894.17,601.26 900.22,616.38 903.24,629.98 907.78,643.59 913.82,649.63 921.38,658.70 928.94,667.77 936.49,673.06 944.05,673.81 978.06,673.81" fill="#857877"/>
<polygon points="743.78,673.81 743.93,575.57 746.05,646.61 749.07,651.90 752.85,653.41 756.63,650.39 762.67,649.33 767.96,648.88 774.76,652.65 778.54,646.61 781.57,640.56 784.59,642.83 788.37,645.85 792.15,642.83 795.93,644.34 798.95,640.56 803.48,633.76 808.02,631.49 812.55,625.45 817.09,618.65 821.62,622.42 826.15,610.33 830.69,604.29 833.71,598.24 836.74,600.51 841.27,587.66 845.80,563.48 850.34,540.80 854.87,516.62 859.41,494.70 862.43,507.55 865.45,509.06 869.23,528.71 872.26,527.96 874.52,537.78 878.30,548.36 881.32,568.01 885.10,580.10 888.13,596.73 891.15,618.65 895.68,620.91 900.22,639.05 906.26,643.59 912.31,649.63 918.36,657.19 925.91,666.26 933.47,672.30 942.54,673.81 978.06,673.81" fill="#f5a88f"/>
<polygon points="743.78,673.81 743.93,575.57 746.05,646.61 749.07,651.90 752.85,653.41 756.63,650.39 762.67,649.33 767.96,648.88 774.76,652.65 778.54,646.61 781.57,640.56 784.59,642.83 788.37,645.85 792.15,642.83 795.93,644.34 798.95,640.56 803.48,633.76 808.02,631.49 812.55,625.45 817.09,618.65 821.62,622.42 826.15,610.33 830.69,604.29 833.71,598.24 836.74,600.51 841.27,587.66 845.80,563.48 850.34,540.80 854.87,516.62 859.41,494.70 862.43,507.55 865.45,509.06 869.23,528.71 872.26,527.96 874.52,537.78 878.30,548.36 881.32,568.01 885.10,580.10 888.13,596.73 891.15,618.65 895.68,620.91 900.22,639.05 906.26,643.59 912.31,649.63 918.36,657.19 925.91,666.26 933.47,672.30 942.54,673.81 978.06,673.81" fill="#aa6b58" clip-path="url(#clipB3)"/>
<polyline points="743.93,560.45 746.80,641.32 749.82,640.56 752.85,642.83 755.87,647.36 761.16,643.59 766.45,640.86 771.74,643.59 776.28,642.83 780.81,640.56 784.59,639.05 788.37,632.25 792.15,639.05 795.93,633.31 800.46,640.56 803.48,634.52 807.26,628.47 811.04,622.42 815.57,624.69 818.60,616.38 822.38,597.48 826.15,608.82 829.93,601.26 833.71,587.66 837.49,580.10 841.27,566.50 844.29,549.87 847.32,546.85 850.34,549.87 853.36,521.15 856.38,510.57 860.16,491.68 862.43,493.19 865.45,486.39 868.48,484.12 870.74,490.93 873.01,504.53 875.28,498.48 878.30,512.09 881.32,528.71 883.59,555.92 885.10,571.03 889.64,586.15 894.17,601.26 900.22,616.38 903.24,629.98 907.78,643.59 913.82,649.63 921.38,658.70 928.94,667.77 936.49,673.06 944.05,673.81 978.06,673.81" fill="none" stroke="#1a1a1a" stroke-width="1.6"/>
<polyline points="743.93,575.57 746.05,646.61 749.07,651.90 752.85,653.41 756.63,650.39 762.67,649.33 767.96,648.88 774.76,652.65 778.54,646.61 781.57,640.56 784.59,642.83 788.37,645.85 792.15,642.83 795.93,644.34 798.95,640.56 803.48,633.76 808.02,631.49 812.55,625.45 817.09,618.65 821.62,622.42 826.15,610.33 830.69,604.29 833.71,598.24 836.74,600.51 841.27,587.66 845.80,563.48 850.34,540.80 854.87,516.62 859.41,494.70 862.43,507.55 865.45,509.06 869.23,528.71 872.26,527.96 874.52,537.78 878.30,548.36 881.32,568.01 885.10,580.10 888.13,596.73 891.15,618.65 895.68,620.91 900.22,639.05 906.26,643.59 912.31,649.63 918.36,657.19 925.91,666.26 933.47,672.30 942.54,673.81 978.06,673.81" fill="none" stroke="#e2321c" stroke-width="1.4"/>
<rect x="743.3" y="438.8" width="236.3" height="236.5" fill="none" stroke="#000" stroke-width="3"/>
<polygon points="997.29,674.12 997.44,571.03 999.56,657.19 1003.34,651.90 1007.11,650.39 1011.65,652.65 1016.18,658.70 1018.45,660.21 1023.74,655.68 1029.79,657.94 1037.34,647.36 1043.39,649.63 1049.44,647.36 1055.48,649.63 1061.53,642.83 1067.57,640.56 1072.11,631.49 1076.64,633.76 1082.69,623.94 1087.22,610.33 1093.27,614.11 1097.80,580.10 1100.83,575.57 1103.85,555.92 1108.38,533.25 1112.92,525.69 1115.94,499.99 1121.23,487.90 1123.50,493.19 1126.52,495.46 1131.06,510.57 1134.08,525.69 1137.10,555.92 1141.64,601.26 1146.17,610.33 1150.71,631.49 1156.75,652.65 1164.31,658.70 1171.87,663.23 1179.42,667.77 1188.49,672.30 1196.05,673.81 1230.06,674.12" fill="#857877"/>
<polygon points="997.29,674.12 997.44,619.40 999.56,660.21 1005.60,657.19 1010.14,654.92 1016.18,657.19 1022.23,649.63 1028.28,654.17 1034.32,649.63 1037.34,648.12 1044.90,652.65 1050.95,646.61 1056.99,648.12 1061.53,641.32 1067.57,642.07 1073.62,629.23 1078.15,628.47 1082.69,620.91 1087.22,607.31 1091.76,589.17 1096.29,587.66 1100.83,568.01 1105.36,551.38 1108.38,531.74 1111.41,528.71 1115.19,510.57 1117.45,487.90 1119.72,472.03 1123.50,478.83 1126.52,490.93 1129.55,517.38 1133.32,512.09 1135.59,540.80 1138.61,581.61 1141.64,583.13 1144.66,601.26 1150.71,629.98 1156.75,649.63 1164.31,660.21 1171.87,666.26 1180.94,670.79 1188.49,673.06 1196.05,674.12 1230.06,674.12" fill="#f5a88f"/>
<polygon points="997.29,674.12 997.44,619.40 999.56,660.21 1005.60,657.19 1010.14,654.92 1016.18,657.19 1022.23,649.63 1028.28,654.17 1034.32,649.63 1037.34,648.12 1044.90,652.65 1050.95,646.61 1056.99,648.12 1061.53,641.32 1067.57,642.07 1073.62,629.23 1078.15,628.47 1082.69,620.91 1087.22,607.31 1091.76,589.17 1096.29,587.66 1100.83,568.01 1105.36,551.38 1108.38,531.74 1111.41,528.71 1115.19,510.57 1117.45,487.90 1119.72,472.03 1123.50,478.83 1126.52,490.93 1129.55,517.38 1133.32,512.09 1135.59,540.80 1138.61,581.61 1141.64,583.13 1144.66,601.26 1150.71,629.98 1156.75,649.63 1164.31,660.21 1171.87,666.26 1180.94,670.79 1188.49,673.06 1196.05,674.12 1230.06,674.12" fill="#aa6b58" clip-path="url(#clipB4)"/>
<polyline points="997.44,571.03 999.56,657.19 1003.34,651.90 1007.11,650.39 1011.65,652.65 1016.18,658.70 1018.45,660.21 1023.74,655.68 1029.79,657.94 1037.34,647.36 1043.39,649.63 1049.44,647.36 1055.48,649.63 1061.53,642.83 1067.57,640.56 1072.11,631.49 1076.64,633.76 1082.69,623.94 1087.22,610.33 1093.27,614.11 1097.80,580.10 1100.83,575.57 1103.85,555.92 1108.38,533.25 1112.92,525.69 1115.94,499.99 1121.23,487.90 1123.50,493.19 1126.52,495.46 1131.06,510.57 1134.08,525.69 1137.10,555.92 1141.64,601.26 1146.17,610.33 1150.71,631.49 1156.75,652.65 1164.31,658.70 1171.87,663.23 1179.42,667.77 1188.49,672.30 1196.05,673.81 1230.06,674.12" fill="none" stroke="#1a1a1a" stroke-width="1.6"/>
<polyline points="997.44,619.40 999.56,660.21 1005.60,657.19 1010.14,654.92 1016.18,657.19 1022.23,649.63 1028.28,654.17 1034.32,649.63 1037.34,648.12 1044.90,652.65 1050.95,646.61 1056.99,648.12 1061.53,641.32 1067.57,642.07 1073.62,629.23 1078.15,628.47 1082.69,620.91 1087.22,607.31 1091.76,589.17 1096.29,587.66 1100.83,568.01 1105.36,551.38 1108.38,531.74 1111.41,528.71 1115.19,510.57 1117.45,487.90 1119.72,472.03 1123.50,478.83 1126.52,490.93 1129.55,517.38 1133.32,512.09 1135.59,540.80 1138.61,581.61 1141.64,583.13 1144.66,601.26 1150.71,629.98 1156.75,649.63 1164.31,660.21 1171.87,666.26 1180.94,670.79 1188.49,673.06 1196.05,674.12 1230.06,674.12" fill="none" stroke="#e2321c" stroke-width="1.4"/>
<rect x="996.2" y="439.5" width="234.9" height="235.8" fill="none" stroke="#000" stroke-width="3"/>
<text x="753.65" y="216.80" font-size="21.95" textLength="95.90" lengthAdjust="spacingAndGlyphs" fill="#3b7fc4">+ sHLAG</text>
<text x="753.66" y="243.60" font-size="22.00" textLength="92.67" lengthAdjust="spacingAndGlyphs" fill="#000">+ vehicle</text>
<text x="1012.06" y="218.00" font-size="21.51" textLength="95.08" lengthAdjust="spacingAndGlyphs" fill="#3b7fc4">+ sHLAG</text>
<text x="1012.06" y="243.20" font-size="22.00" textLength="92.47" lengthAdjust="spacingAndGlyphs" fill="#000">+ vehicle</text>
<text x="753.65" y="477.10" font-size="20.78" textLength="95.90" lengthAdjust="spacingAndGlyphs" fill="#e0261b">+ sHLAG</text>
<text x="753.66" y="503.90" font-size="22.00" textLength="92.67" lengthAdjust="spacingAndGlyphs" fill="#000">+ vehicle</text>
<text x="1012.06" y="477.50" font-size="20.78" textLength="95.08" lengthAdjust="spacingAndGlyphs" fill="#e0261b">+ sHLAG</text>
<text x="1012.06" y="504.30" font-size="22.00" textLength="92.47" lengthAdjust="spacingAndGlyphs" fill="#000">+ vehicle</text>
<text transform="translate(724.40,322.70) rotate(-90)" x="-1.95" y="0" font-size="24.00" textLength="54.21" lengthAdjust="spacingAndGlyphs" fill="#3b7fc4">NK8-</text>
<text transform="translate(725.00,582.60) rotate(-90)" x="-1.83" y="0" font-size="24.00" textLength="56.54" lengthAdjust="spacingAndGlyphs" fill="#e0261b">NK8+</text>
<text transform="translate(688.60,556.00) rotate(-90)" x="-1.10" y="0" font-size="27.00" textLength="246.29" lengthAdjust="spacingAndGlyphs" fill="#000">cocultured NK subset</text>
<text x="777.92" y="716.80" font-size="25.44" textLength="181.46" lengthAdjust="spacingAndGlyphs" fill="#000">NK cytotoxicity,</text>
<text x="968.22" y="716.80" font-size="25.44" textLength="248.51" lengthAdjust="spacingAndGlyphs" fill="#000">CD107 NK expression</text>
<text x="1260.56" y="66.72" font-size="38.70" textLength="25.40" lengthAdjust="spacingAndGlyphs" fill="#000" font-weight="bold">C</text>
<text x="1515.58" y="21.40" font-size="28.78" textLength="83.66" lengthAdjust="spacingAndGlyphs" fill="#000">sHLAG</text>
<ellipse cx="1428.4" cy="84.8" rx="13" ry="10" fill="#e03127" stroke="#111" stroke-width="2.5"/>
<ellipse cx="1702.2" cy="81.6" rx="13.3" ry="9.8" fill="#3a7bc4" stroke="#111" stroke-width="2.5"/>
<text x="1450.64" y="93.20" font-size="28.20" textLength="53.55" lengthAdjust="spacingAndGlyphs" fill="#e0261b">NK8</text>
<text x="1503.08" y="83.00" font-size="14.00" textLength="11.06" lengthAdjust="spacingAndGlyphs" fill="#e0261b">+</text>
<text x="1611.42" y="93.20" font-size="28.20" textLength="51.74" lengthAdjust="spacingAndGlyphs" fill="#3b7fc4">NK8</text>
<text x="1662.05" y="84.82" font-size="23.04" textLength="7.09" lengthAdjust="spacingAndGlyphs" fill="#3b7fc4">-</text>
<ellipse cx="1561.5" cy="167" rx="107.5" ry="34.5" fill="#c58782" stroke="#8d6764" stroke-width="0.8"/>
<rect x="1454" y="155" width="215" height="12" fill="#c58782"/>
<line x1="1454" y1="155" x2="1454" y2="167" stroke="#8d6764" stroke-width="0.8"/>
<line x1="1669" y1="155" x2="1669" y2="167" stroke="#8d6764" stroke-width="0.8"/>
<ellipse cx="1561.7" cy="146" rx="108" ry="37.9" fill="#e1e1e1" stroke="#8a8a8a" stroke-width="0.9"/>
<path d="M1457,149.8 A104.5,35 0 0,1 1666,149.8" fill="none" stroke="#8a8a8a" stroke-width="0.9"/>
<ellipse cx="1561.5" cy="155.2" rx="107" ry="31" fill="#bb807b" stroke="#9a7472" stroke-width="0.8"/>
<path d="M1456,160 A106,30 0 0,0 1667,160" fill="none" stroke="#9a7472" stroke-width="0.7"/>
<ellipse cx="1531.4" cy="148.4" rx="31.2" ry="7.1" fill="#f29100"/>
<ellipse cx="1604.1" cy="148.4" rx="31.5" ry="7.1" fill="#f29100"/>
<ellipse cx="1560.3" cy="169.4" rx="31.6" ry="7" fill="#f29100"/>
<line x1="1558.1" y1="46.3" x2="1558.1" y2="84" stroke="#000" stroke-width="3"/>
<polygon points="1546.3,78.1 1558.1,82.6 1569.2,78.1 1557.7,104.4" fill="#000"/>
<path d="M1517,92.2 C1526,92.2 1532,96 1535,103" fill="none" stroke="#000" stroke-width="3"/>
<polygon points="1522.2,101.1 1535.5,103.7 1544.8,95.5 1540.3,124.4" fill="#000"/>
<path d="M1601.4,83.7 C1593,84 1587,88 1583.6,94" fill="none" stroke="#000" stroke-width="3"/>
<polygon points="1574,86.6 1583.6,94 1596.2,92.6 1578.5,115.5" fill="#000"/>
<text x="1484.65" y="223.90" font-size="15.50" textLength="155.48" lengthAdjust="spacingAndGlyphs" fill="#000">target cell line culture</text>
<g stroke="#000" fill="none">
<line x1="1385.6" y1="297" x2="1385.6" y2="592" stroke-width="6"/>
<line x1="1372" y1="589.2" x2="1726.6" y2="589.2" stroke-width="5.8"/>
<line x1="1372" y1="322.8" x2="1385" y2="322.8" stroke-width="4.5"/>
<line x1="1372" y1="455.3" x2="1385" y2="455.3" stroke-width="4.5"/>
<line x1="1444.1" y1="589" x2="1444.1" y2="600.7" stroke-width="5"/>
<line x1="1562.8" y1="589" x2="1562.8" y2="600.7" stroke-width="5"/>
<line x1="1681.1" y1="589" x2="1681.1" y2="600.7" stroke-width="5"/>
</g>
<line x1="1562.8" y1="333.8" x2="1562.8" y2="368.3" stroke="#000" stroke-width="4"/>
<line x1="1554.8" y1="333.8" x2="1570.8" y2="333.8" stroke="#000" stroke-width="3.5"/>
<line x1="1554.8" y1="368.3" x2="1570.8" y2="368.3" stroke="#000" stroke-width="3.5"/>
<line x1="1681.1" y1="326.9" x2="1681.1" y2="358.3" stroke="#000" stroke-width="4"/>
<line x1="1673.1" y1="326.9" x2="1689.1" y2="326.9" stroke="#000" stroke-width="3.5"/>
<line x1="1673.1" y1="358.3" x2="1689.1" y2="358.3" stroke="#000" stroke-width="3.5"/>
<line x1="1562.8" y1="380.9" x2="1562.8" y2="423.3" stroke="#000" stroke-width="4"/>
<line x1="1554.8" y1="380.9" x2="1570.8" y2="380.9" stroke="#000" stroke-width="3.5"/>
<line x1="1554.8" y1="423.3" x2="1570.8" y2="423.3" stroke="#000" stroke-width="3.5"/>
<line x1="1681.1" y1="368.3" x2="1681.1" y2="412.9" stroke="#000" stroke-width="4"/>
<line x1="1673.1" y1="368.3" x2="1689.1" y2="368.3" stroke="#000" stroke-width="3.5"/>
<line x1="1673.1" y1="412.9" x2="1689.1" y2="412.9" stroke="#000" stroke-width="3.5"/>
<rect x="1438" y="316.8" width="12" height="12" fill="#000"/>
<circle cx="1562.8" cy="351" r="5.5" fill="#000"/>
<circle cx="1681.1" cy="343.2" r="5.5" fill="#000"/>
<rect x="1556.8" y="396.9" width="12" height="12" fill="#000"/>
<rect x="1675.1" y="385.2" width="12" height="12" fill="#000"/>
<polyline points="1444.1,322.8 1562.8,351 1681.1,343.2" fill="none" stroke="#e0311e" stroke-width="2.8"/>
<polyline points="1444.1,322.8 1562.8,402.9 1681.1,391.2" fill="none" stroke="#4a4fb8" stroke-width="2.8"/>
<text x="1328.65" y="333.80" font-size="30.67" textLength="42.85" lengthAdjust="spacingAndGlyphs" fill="#000">1.0</text>
<text x="1329.83" y="465.60" font-size="29.65" textLength="41.73" lengthAdjust="spacingAndGlyphs" fill="#000">0.5</text>
<text x="1351.19" y="591.90" font-size="26.02" textLength="17.22" lengthAdjust="spacingAndGlyphs" fill="#000">0</text>
<text x="1434.99" y="639.00" font-size="27.03" textLength="17.22" lengthAdjust="spacingAndGlyphs" fill="#000">0</text>
<text x="1548.17" y="639.00" font-size="27.03" textLength="40.24" lengthAdjust="spacingAndGlyphs" fill="#000">0.1</text>
<text x="1656.42" y="639.00" font-size="27.03" textLength="41.89" lengthAdjust="spacingAndGlyphs" fill="#000">0.2</text>
<text x="1443.56" y="677.60" font-size="28.34" textLength="212.26" lengthAdjust="spacingAndGlyphs" fill="#000">[sHLAG] / ug/ml</text>
<text x="1660.73" y="315.00" font-size="29.80" textLength="76.15" lengthAdjust="spacingAndGlyphs" fill="#e0261b">NK8+</text>
<text x="1680.57" y="446.80" font-size="27.33" textLength="75.91" lengthAdjust="spacingAndGlyphs" fill="#3b7fc4">NK8-</text>
<text x="1552.46" y="492.30" font-size="28.20" textLength="128.40" lengthAdjust="spacingAndGlyphs" fill="#000">P = 0.015</text>
<text transform="translate(1279.50,567.70) rotate(-90)" x="-1.52" y="0" font-size="31.69" textLength="219.48" lengthAdjust="spacingAndGlyphs" fill="#000">CD107 MFI ratio</text>
<text transform="translate(1315.00,575.50) rotate(-90)" x="-1.86" y="0" font-size="28.50" textLength="235.22" lengthAdjust="spacingAndGlyphs" fill="#000">(sHLAG / vehicle)</text>
<polygon points="1379.7,731 1719.4,694.8 1719.4,733.5" fill="#000" stroke="#000" stroke-width="2" stroke-linejoin="round"/>
<text x="0.43" y="925.10" font-size="38.08" textLength="25.98" lengthAdjust="spacingAndGlyphs" fill="#000" font-weight="bold">D</text>
<text x="360.73" y="940.20" font-size="31.54" textLength="304.55" lengthAdjust="spacingAndGlyphs" fill="#000" font-weight="bold">MS validation cohort</text>
<path d="M209.87,1202.30V1135.07H215.81V1202.30M212.84,1135.07V1127.67H221.75V1202.30M227.69,1202.30V1129.52H233.63V1202.30M230.66,1129.52V1093.74H239.57V1202.30M217.30,1127.67V1075.85H235.12V1093.74M245.51,1202.30V1102.38H251.45V1202.30M226.21,1075.85V1065.98H248.48V1102.38M237.34,1065.98V1055.49H257.39V1202.30M269.27,1202.30V1101.14H275.21V1202.30M263.33,1202.30V1067.21H272.24V1101.14M247.37,1055.49V1041.92H267.78V1067.21M281.15,1202.30V1131.99H287.09V1202.30M293.03,1202.30V1106.69H298.97V1202.30M284.12,1131.99V1059.81H296.00V1106.69M257.58,1041.92V1028.96H290.06V1059.81M310.85,1202.30V1106.69H316.79V1202.30M304.91,1202.30V1082.63H313.82V1106.69M273.82,1028.96V1017.86H309.37V1082.63M322.73,1202.30V1115.33H328.67V1202.30M340.55,1202.30V1086.95H346.49V1202.30M334.61,1202.30V1065.98H343.52V1086.95M352.43,1202.30V1126.43H358.37V1202.30M355.40,1126.43V1088.19H364.31V1202.30M359.86,1088.19V1077.08H370.25V1202.30M376.19,1202.30V1136.30H382.13V1202.30M379.16,1136.30V1099.91H388.07V1202.30M383.62,1099.91V1074.61H394.01V1202.30M399.95,1202.30V1129.52H405.89V1202.30M411.83,1202.30V1156.05H417.77V1202.30M423.71,1202.30V1156.05H429.65V1202.30M435.59,1202.30V1152.96H441.53V1202.30M438.56,1152.96V1145.56H447.47V1202.30M426.68,1156.05V1134.45H443.02V1145.56M414.80,1156.05V1122.12H434.85V1134.45M402.92,1129.52V1109.16H424.82V1122.12M459.35,1202.30V1122.73H465.29V1202.30M453.41,1202.30V1111.63H462.32V1122.73M413.87,1109.16V1089.42H457.87V1111.63M388.81,1074.61V1058.57H435.87V1089.42M365.05,1077.08V1051.79H412.34V1058.57M339.06,1065.98V1037.60H388.70V1051.79M471.23,1202.30V1084.48H477.17V1202.30M483.11,1202.30V1134.45H489.05V1202.30M486.08,1134.45V1115.95H494.99V1202.30M500.93,1202.30V1120.88H506.87V1202.30M490.54,1115.95V1103.61H503.90V1120.88M512.81,1202.30V1088.19H518.75V1202.30M497.22,1103.61V1072.76H515.78V1088.19M524.69,1202.30V1073.38H530.63V1202.30M506.50,1072.76V1034.52H527.66V1073.38M474.20,1084.48V1026.50H517.08V1034.52M363.88,1037.60V1016.63H495.64V1026.50M325.70,1115.33V990.10H429.76V1016.63M291.59,1017.86V969.74H377.73V990.10M536.57,1202.30V1158.51H542.51V1202.30M548.45,1202.30V1120.88H554.39V1202.30M539.54,1158.51V1111.63H551.42V1120.88M566.27,1202.30V1105.46H572.21V1202.30M560.33,1202.30V1081.40H569.24V1105.46M545.48,1111.63V1071.53H564.79V1081.40M584.09,1202.30V1120.88H590.03V1202.30M587.06,1120.88V1095.59H595.97V1202.30M578.15,1202.30V1061.66H591.51V1095.59M607.85,1202.30V1115.33H613.79V1202.30M601.91,1202.30V1082.63H610.82V1115.33M584.83,1061.66V1051.79H606.37V1082.63M555.13,1071.53V1047.47H595.60V1051.79M619.73,1202.30V1074.61H625.67V1202.30M622.70,1074.61V1034.52H631.61V1202.30M575.37,1047.47V1024.65H627.15V1034.52M643.49,1202.30V1130.75H649.43V1202.30M637.55,1202.30V1110.39H646.46V1130.75M661.31,1202.30V1138.77H667.25V1202.30M655.37,1202.30V1119.03H664.28V1138.77M642.00,1110.39V1090.65H659.83V1119.03M679.13,1202.30V1123.35H685.07V1202.30M673.19,1202.30V1098.06H682.10V1123.35M650.91,1090.65V1030.81H677.65V1098.06M601.26,1024.65V1016.63H664.28V1030.81M691.01,1202.30V1065.98H696.95V1202.30M708.83,1202.30V1125.20H714.77V1202.30M711.80,1125.20V1082.63H720.71V1202.30M702.89,1202.30V1076.47H716.25V1082.63M693.98,1065.98V1047.47H709.57V1076.47M726.65,1202.30V1119.03H732.59V1202.30M729.62,1119.03V1109.16H738.53V1202.30M744.47,1202.30V1116.56H750.41V1202.30M734.08,1109.16V1088.19H747.44V1116.56M701.78,1047.47V1038.83H740.76V1088.19M756.35,1202.30V1056.11H762.29V1202.30M721.27,1038.83V1000.59H759.32V1056.11M632.77,1016.63V997.50H740.29V1000.59M334.66,969.74V960.49H686.53V997.50" fill="none" stroke="#4d4544" stroke-width="1.6" stroke-linejoin="round"/>
<g shape-rendering="crispEdges"><path fill="#878cca" d="M211.0 1206.9h6.17v11.03h-6.17zM222.8 1206.9h6.17v11.03h-6.17zM234.7 1206.9h6.17v11.03h-6.17zM240.6 1206.9h6.17v11.03h-6.17zM755.8 1206.9h6.17v11.03h-6.17zM240.6 1217.7h6.17v11.03h-6.17zM406.4 1217.7h6.17v11.03h-6.17zM601.8 1217.7h6.17v11.03h-6.17zM684.7 1217.7h6.17v11.03h-6.17zM222.8 1228.5h6.17v11.03h-6.17zM270.2 1228.5h6.17v11.03h-6.17zM382.7 1228.5h6.17v11.03h-6.17zM412.3 1228.5h6.17v11.03h-6.17zM560.4 1228.5h6.17v11.03h-6.17zM382.7 1239.2h6.17v11.03h-6.17zM216.9 1260.8h6.17v11.03h-6.17zM329.4 1260.8h6.17v11.03h-6.17zM335.3 1260.8h6.17v11.03h-6.17zM507.1 1293.2h6.17v11.03h-6.17zM524.8 1293.2h6.17v11.03h-6.17zM560.4 1293.2h6.17v11.03h-6.17zM613.6 1325.5h6.17v11.03h-6.17zM578.1 1347.1h6.17v11.03h-6.17zM595.9 1347.1h6.17v11.03h-6.17zM353.1 1390.2h6.17v11.03h-6.17zM406.4 1390.2h6.17v11.03h-6.17zM643.3 1390.2h6.17v11.03h-6.17zM252.4 1401.0h6.17v11.03h-6.17zM335.3 1401.0h6.17v11.03h-6.17zM388.6 1401.0h6.17v11.03h-6.17zM424.2 1401.0h6.17v11.03h-6.17zM690.6 1401.0h6.17v11.03h-6.17zM258.4 1411.8h6.17v11.03h-6.17zM293.9 1411.8h6.17v11.03h-6.17zM305.7 1411.8h6.17v11.03h-6.17zM477.5 1411.8h6.17v11.03h-6.17zM761.7 1411.8h6.17v11.03h-6.17zM216.9 1422.6h6.17v11.03h-6.17zM276.1 1422.6h6.17v11.03h-6.17zM282.1 1422.6h6.17v11.03h-6.17zM216.9 1454.9h6.17v11.03h-6.17zM240.6 1454.9h6.17v11.03h-6.17zM252.4 1454.9h6.17v11.03h-6.17zM311.7 1454.9h6.17v11.03h-6.17zM649.2 1454.9h6.17v11.03h-6.17zM246.5 1465.7h6.17v11.03h-6.17zM518.9 1465.7h6.17v11.03h-6.17zM655.1 1465.7h6.17v11.03h-6.17zM672.9 1465.7h6.17v11.03h-6.17zM276.1 1498.0h6.17v11.03h-6.17zM376.8 1498.0h6.17v11.03h-6.17zM394.6 1498.0h6.17v11.03h-6.17zM216.9 1508.8h6.17v11.03h-6.17zM264.3 1508.8h6.17v11.03h-6.17zM447.9 1508.8h6.17v11.03h-6.17zM726.2 1508.8h6.17v11.03h-6.17zM228.8 1519.6h6.17v11.03h-6.17zM276.1 1519.6h6.17v11.03h-6.17zM288.0 1519.6h6.17v11.03h-6.17zM329.4 1519.6h6.17v11.03h-6.17zM347.2 1519.6h6.17v11.03h-6.17zM418.2 1519.6h6.17v11.03h-6.17zM572.2 1519.6h6.17v11.03h-6.17zM655.1 1519.6h6.17v11.03h-6.17zM738.0 1519.6h6.17v11.03h-6.17zM761.7 1519.6h6.17v11.03h-6.17zM370.9 1530.4h6.17v11.03h-6.17zM382.7 1530.4h6.17v11.03h-6.17zM216.9 1552.0h6.17v11.03h-6.17zM222.8 1552.0h6.17v11.03h-6.17zM264.3 1552.0h6.17v11.03h-6.17zM554.4 1552.0h6.17v11.03h-6.17zM732.1 1552.0h6.17v11.03h-6.17zM465.6 1573.5h6.17v11.03h-6.17z"/><path fill="#e8e9f5" d="M216.9 1206.9h6.17v11.03h-6.17zM270.2 1206.9h6.17v11.03h-6.17zM276.1 1206.9h6.17v11.03h-6.17zM311.7 1206.9h6.17v11.03h-6.17zM412.3 1206.9h6.17v11.03h-6.17zM625.5 1206.9h6.17v11.03h-6.17zM643.3 1206.9h6.17v11.03h-6.17zM649.2 1206.9h6.17v11.03h-6.17zM418.2 1217.7h6.17v11.03h-6.17zM430.1 1217.7h6.17v11.03h-6.17zM643.3 1217.7h6.17v11.03h-6.17zM743.9 1217.7h6.17v11.03h-6.17zM329.4 1228.5h6.17v11.03h-6.17zM418.2 1228.5h6.17v11.03h-6.17zM436.0 1228.5h6.17v11.03h-6.17zM524.8 1228.5h6.17v11.03h-6.17zM607.7 1228.5h6.17v11.03h-6.17zM702.5 1228.5h6.17v11.03h-6.17zM252.4 1239.2h6.17v11.03h-6.17zM293.9 1239.2h6.17v11.03h-6.17zM376.8 1239.2h6.17v11.03h-6.17zM394.6 1239.2h6.17v11.03h-6.17zM447.9 1239.2h6.17v11.03h-6.17zM513.0 1239.2h6.17v11.03h-6.17zM524.8 1239.2h6.17v11.03h-6.17zM560.4 1239.2h6.17v11.03h-6.17zM590.0 1239.2h6.17v11.03h-6.17zM655.1 1239.2h6.17v11.03h-6.17zM666.9 1239.2h6.17v11.03h-6.17zM211.0 1260.8h6.17v11.03h-6.17zM234.7 1260.8h6.17v11.03h-6.17zM376.8 1260.8h6.17v11.03h-6.17zM418.2 1260.8h6.17v11.03h-6.17zM430.1 1260.8h6.17v11.03h-6.17zM465.6 1260.8h6.17v11.03h-6.17zM477.5 1260.8h6.17v11.03h-6.17zM554.4 1260.8h6.17v11.03h-6.17zM684.7 1260.8h6.17v11.03h-6.17zM696.5 1260.8h6.17v11.03h-6.17zM732.1 1260.8h6.17v11.03h-6.17zM216.9 1271.6h6.17v11.03h-6.17zM305.7 1271.6h6.17v11.03h-6.17zM412.3 1271.6h6.17v11.03h-6.17zM495.2 1271.6h6.17v11.03h-6.17zM566.3 1271.6h6.17v11.03h-6.17zM578.1 1271.6h6.17v11.03h-6.17zM625.5 1271.6h6.17v11.03h-6.17zM655.1 1271.6h6.17v11.03h-6.17zM661.0 1271.6h6.17v11.03h-6.17zM672.9 1271.6h6.17v11.03h-6.17zM749.8 1271.6h6.17v11.03h-6.17zM311.7 1282.4h6.17v11.03h-6.17zM518.9 1282.4h6.17v11.03h-6.17zM601.8 1282.4h6.17v11.03h-6.17zM607.7 1282.4h6.17v11.03h-6.17zM625.5 1282.4h6.17v11.03h-6.17zM637.3 1282.4h6.17v11.03h-6.17zM684.7 1282.4h6.17v11.03h-6.17zM477.5 1293.2h6.17v11.03h-6.17zM489.3 1293.2h6.17v11.03h-6.17zM530.7 1293.2h6.17v11.03h-6.17zM554.4 1293.2h6.17v11.03h-6.17zM655.1 1293.2h6.17v11.03h-6.17zM661.0 1293.2h6.17v11.03h-6.17zM353.1 1304.0h6.17v11.03h-6.17zM406.4 1304.0h6.17v11.03h-6.17zM584.0 1304.0h6.17v11.03h-6.17zM625.5 1304.0h6.17v11.03h-6.17zM631.4 1304.0h6.17v11.03h-6.17zM637.3 1304.0h6.17v11.03h-6.17zM708.4 1304.0h6.17v11.03h-6.17zM732.1 1304.0h6.17v11.03h-6.17zM370.9 1314.7h6.17v11.03h-6.17zM524.8 1314.7h6.17v11.03h-6.17zM530.7 1314.7h6.17v11.03h-6.17zM595.9 1314.7h6.17v11.03h-6.17zM607.7 1314.7h6.17v11.03h-6.17zM655.1 1314.7h6.17v11.03h-6.17zM720.2 1325.5h6.17v11.03h-6.17zM365.0 1336.3h6.17v11.03h-6.17zM501.1 1336.3h6.17v11.03h-6.17zM536.7 1336.3h6.17v11.03h-6.17zM548.5 1336.3h6.17v11.03h-6.17zM666.9 1336.3h6.17v11.03h-6.17zM388.6 1347.1h6.17v11.03h-6.17zM436.0 1347.1h6.17v11.03h-6.17zM507.1 1347.1h6.17v11.03h-6.17zM518.9 1347.1h6.17v11.03h-6.17zM649.2 1347.1h6.17v11.03h-6.17zM222.8 1357.9h6.17v11.03h-6.17zM394.6 1357.9h6.17v11.03h-6.17zM755.8 1357.9h6.17v11.03h-6.17zM353.1 1368.7h6.17v11.03h-6.17zM365.0 1368.7h6.17v11.03h-6.17zM424.2 1368.7h6.17v11.03h-6.17zM459.7 1368.7h6.17v11.03h-6.17zM471.5 1368.7h6.17v11.03h-6.17zM477.5 1368.7h6.17v11.03h-6.17zM495.2 1368.7h6.17v11.03h-6.17zM584.0 1368.7h6.17v11.03h-6.17zM672.9 1368.7h6.17v11.03h-6.17zM726.2 1368.7h6.17v11.03h-6.17zM216.9 1379.4h6.17v11.03h-6.17zM477.5 1379.4h6.17v11.03h-6.17zM483.4 1379.4h6.17v11.03h-6.17zM495.2 1379.4h6.17v11.03h-6.17zM560.4 1379.4h6.17v11.03h-6.17zM590.0 1379.4h6.17v11.03h-6.17zM228.8 1390.2h6.17v11.03h-6.17zM258.4 1390.2h6.17v11.03h-6.17zM264.3 1390.2h6.17v11.03h-6.17zM305.7 1390.2h6.17v11.03h-6.17zM311.7 1390.2h6.17v11.03h-6.17zM347.2 1390.2h6.17v11.03h-6.17zM382.7 1390.2h6.17v11.03h-6.17zM436.0 1390.2h6.17v11.03h-6.17zM613.6 1390.2h6.17v11.03h-6.17zM649.2 1390.2h6.17v11.03h-6.17zM288.0 1401.0h6.17v11.03h-6.17zM293.9 1401.0h6.17v11.03h-6.17zM311.7 1401.0h6.17v11.03h-6.17zM412.3 1401.0h6.17v11.03h-6.17zM702.5 1401.0h6.17v11.03h-6.17zM738.0 1401.0h6.17v11.03h-6.17zM441.9 1411.8h6.17v11.03h-6.17zM465.6 1411.8h6.17v11.03h-6.17zM548.5 1411.8h6.17v11.03h-6.17zM607.7 1411.8h6.17v11.03h-6.17zM738.0 1411.8h6.17v11.03h-6.17zM755.8 1411.8h6.17v11.03h-6.17zM447.9 1422.6h6.17v11.03h-6.17zM495.2 1422.6h6.17v11.03h-6.17zM643.3 1422.6h6.17v11.03h-6.17zM649.2 1422.6h6.17v11.03h-6.17zM738.0 1422.6h6.17v11.03h-6.17zM228.8 1433.3h6.17v11.03h-6.17zM365.0 1433.3h6.17v11.03h-6.17zM412.3 1433.3h6.17v11.03h-6.17zM465.6 1433.3h6.17v11.03h-6.17zM548.5 1433.3h6.17v11.03h-6.17zM211.0 1444.1h6.17v11.03h-6.17zM299.8 1444.1h6.17v11.03h-6.17zM305.7 1444.1h6.17v11.03h-6.17zM453.8 1444.1h6.17v11.03h-6.17zM619.6 1444.1h6.17v11.03h-6.17zM666.9 1444.1h6.17v11.03h-6.17zM749.8 1444.1h6.17v11.03h-6.17zM276.1 1454.9h6.17v11.03h-6.17zM353.1 1454.9h6.17v11.03h-6.17zM436.0 1454.9h6.17v11.03h-6.17zM513.0 1454.9h6.17v11.03h-6.17zM554.4 1454.9h6.17v11.03h-6.17zM590.0 1454.9h6.17v11.03h-6.17zM465.6 1465.7h6.17v11.03h-6.17zM649.2 1465.7h6.17v11.03h-6.17zM726.2 1465.7h6.17v11.03h-6.17zM335.3 1476.5h6.17v11.03h-6.17zM424.2 1476.5h6.17v11.03h-6.17zM430.1 1476.5h6.17v11.03h-6.17zM453.8 1476.5h6.17v11.03h-6.17zM483.4 1476.5h6.17v11.03h-6.17zM566.3 1476.5h6.17v11.03h-6.17zM655.1 1476.5h6.17v11.03h-6.17zM661.0 1476.5h6.17v11.03h-6.17zM714.3 1476.5h6.17v11.03h-6.17zM743.9 1476.5h6.17v11.03h-6.17zM211.0 1487.3h6.17v11.03h-6.17zM376.8 1487.3h6.17v11.03h-6.17zM441.9 1487.3h6.17v11.03h-6.17zM471.5 1487.3h6.17v11.03h-6.17zM601.8 1487.3h6.17v11.03h-6.17zM649.2 1487.3h6.17v11.03h-6.17zM702.5 1487.3h6.17v11.03h-6.17zM738.0 1487.3h6.17v11.03h-6.17zM216.9 1498.0h6.17v11.03h-6.17zM459.7 1498.0h6.17v11.03h-6.17zM590.0 1498.0h6.17v11.03h-6.17zM702.5 1498.0h6.17v11.03h-6.17zM708.4 1498.0h6.17v11.03h-6.17zM234.7 1508.8h6.17v11.03h-6.17zM276.1 1508.8h6.17v11.03h-6.17zM329.4 1508.8h6.17v11.03h-6.17zM341.3 1508.8h6.17v11.03h-6.17zM359.0 1508.8h6.17v11.03h-6.17zM394.6 1508.8h6.17v11.03h-6.17zM513.0 1508.8h6.17v11.03h-6.17zM643.3 1508.8h6.17v11.03h-6.17zM702.5 1508.8h6.17v11.03h-6.17zM732.1 1508.8h6.17v11.03h-6.17zM761.7 1508.8h6.17v11.03h-6.17zM477.5 1519.6h6.17v11.03h-6.17zM483.4 1519.6h6.17v11.03h-6.17zM489.3 1519.6h6.17v11.03h-6.17zM578.1 1519.6h6.17v11.03h-6.17zM678.8 1519.6h6.17v11.03h-6.17zM696.5 1519.6h6.17v11.03h-6.17zM708.4 1519.6h6.17v11.03h-6.17zM252.4 1530.4h6.17v11.03h-6.17zM305.7 1530.4h6.17v11.03h-6.17zM323.5 1530.4h6.17v11.03h-6.17zM376.8 1530.4h6.17v11.03h-6.17zM394.6 1530.4h6.17v11.03h-6.17zM430.1 1530.4h6.17v11.03h-6.17zM453.8 1530.4h6.17v11.03h-6.17zM477.5 1530.4h6.17v11.03h-6.17zM536.7 1530.4h6.17v11.03h-6.17zM696.5 1530.4h6.17v11.03h-6.17zM749.8 1530.4h6.17v11.03h-6.17zM761.7 1530.4h6.17v11.03h-6.17zM234.7 1541.2h6.17v11.03h-6.17zM252.4 1541.2h6.17v11.03h-6.17zM329.4 1541.2h6.17v11.03h-6.17zM418.2 1541.2h6.17v11.03h-6.17zM477.5 1541.2h6.17v11.03h-6.17zM483.4 1541.2h6.17v11.03h-6.17zM672.9 1541.2h6.17v11.03h-6.17zM678.8 1541.2h6.17v11.03h-6.17zM732.1 1541.2h6.17v11.03h-6.17zM755.8 1541.2h6.17v11.03h-6.17zM288.0 1552.0h6.17v11.03h-6.17zM293.9 1552.0h6.17v11.03h-6.17zM335.3 1552.0h6.17v11.03h-6.17zM347.2 1552.0h6.17v11.03h-6.17zM365.0 1552.0h6.17v11.03h-6.17zM376.8 1552.0h6.17v11.03h-6.17zM524.8 1552.0h6.17v11.03h-6.17zM548.5 1552.0h6.17v11.03h-6.17zM601.8 1552.0h6.17v11.03h-6.17zM643.3 1552.0h6.17v11.03h-6.17zM228.8 1562.8h6.17v11.03h-6.17zM240.6 1562.8h6.17v11.03h-6.17zM264.3 1562.8h6.17v11.03h-6.17zM270.2 1562.8h6.17v11.03h-6.17zM341.3 1562.8h6.17v11.03h-6.17zM347.2 1562.8h6.17v11.03h-6.17zM370.9 1562.8h6.17v11.03h-6.17zM477.5 1562.8h6.17v11.03h-6.17zM672.9 1562.8h6.17v11.03h-6.17zM749.8 1562.8h6.17v11.03h-6.17zM347.2 1573.5h6.17v11.03h-6.17zM406.4 1573.5h6.17v11.03h-6.17zM412.3 1573.5h6.17v11.03h-6.17zM471.5 1573.5h6.17v11.03h-6.17zM548.5 1573.5h6.17v11.03h-6.17zM726.2 1573.5h6.17v11.03h-6.17zM264.3 1584.3h6.17v11.03h-6.17zM276.1 1584.3h6.17v11.03h-6.17zM359.0 1584.3h6.17v11.03h-6.17zM661.0 1584.3h6.17v11.03h-6.17zM690.6 1584.3h6.17v11.03h-6.17z"/><path fill="#cbcde8" d="M228.8 1206.9h6.17v11.03h-6.17zM264.3 1206.9h6.17v11.03h-6.17zM288.0 1206.9h6.17v11.03h-6.17zM584.0 1206.9h6.17v11.03h-6.17zM761.7 1206.9h6.17v11.03h-6.17zM216.9 1217.7h6.17v11.03h-6.17zM252.4 1217.7h6.17v11.03h-6.17zM258.4 1217.7h6.17v11.03h-6.17zM329.4 1217.7h6.17v11.03h-6.17zM637.3 1217.7h6.17v11.03h-6.17zM702.5 1217.7h6.17v11.03h-6.17zM211.0 1228.5h6.17v11.03h-6.17zM317.6 1228.5h6.17v11.03h-6.17zM335.3 1228.5h6.17v11.03h-6.17zM406.4 1228.5h6.17v11.03h-6.17zM430.1 1228.5h6.17v11.03h-6.17zM483.4 1228.5h6.17v11.03h-6.17zM513.0 1228.5h6.17v11.03h-6.17zM542.6 1228.5h6.17v11.03h-6.17zM572.2 1228.5h6.17v11.03h-6.17zM584.0 1228.5h6.17v11.03h-6.17zM590.0 1228.5h6.17v11.03h-6.17zM726.2 1228.5h6.17v11.03h-6.17zM749.8 1228.5h6.17v11.03h-6.17zM755.8 1228.5h6.17v11.03h-6.17zM353.1 1239.2h6.17v11.03h-6.17zM365.0 1239.2h6.17v11.03h-6.17zM441.9 1239.2h6.17v11.03h-6.17zM453.8 1239.2h6.17v11.03h-6.17zM347.2 1250.0h6.17v11.03h-6.17zM365.0 1250.0h6.17v11.03h-6.17zM400.5 1260.8h6.17v11.03h-6.17zM483.4 1260.8h6.17v11.03h-6.17zM590.0 1260.8h6.17v11.03h-6.17zM601.8 1260.8h6.17v11.03h-6.17zM625.5 1260.8h6.17v11.03h-6.17zM655.1 1260.8h6.17v11.03h-6.17zM489.3 1271.6h6.17v11.03h-6.17zM530.7 1271.6h6.17v11.03h-6.17zM702.5 1271.6h6.17v11.03h-6.17zM708.4 1271.6h6.17v11.03h-6.17zM761.7 1271.6h6.17v11.03h-6.17zM359.0 1282.4h6.17v11.03h-6.17zM388.6 1282.4h6.17v11.03h-6.17zM513.0 1282.4h6.17v11.03h-6.17zM530.7 1282.4h6.17v11.03h-6.17zM554.4 1282.4h6.17v11.03h-6.17zM649.2 1282.4h6.17v11.03h-6.17zM690.6 1282.4h6.17v11.03h-6.17zM317.6 1293.2h6.17v11.03h-6.17zM518.9 1293.2h6.17v11.03h-6.17zM607.7 1293.2h6.17v11.03h-6.17zM666.9 1293.2h6.17v11.03h-6.17zM311.7 1304.0h6.17v11.03h-6.17zM507.1 1304.0h6.17v11.03h-6.17zM595.9 1304.0h6.17v11.03h-6.17zM607.7 1304.0h6.17v11.03h-6.17zM513.0 1314.7h6.17v11.03h-6.17zM601.8 1314.7h6.17v11.03h-6.17zM643.3 1314.7h6.17v11.03h-6.17zM732.1 1314.7h6.17v11.03h-6.17zM584.0 1325.5h6.17v11.03h-6.17zM690.6 1325.5h6.17v11.03h-6.17zM738.0 1325.5h6.17v11.03h-6.17zM513.0 1336.3h6.17v11.03h-6.17zM566.3 1336.3h6.17v11.03h-6.17zM684.7 1336.3h6.17v11.03h-6.17zM607.7 1347.1h6.17v11.03h-6.17zM637.3 1347.1h6.17v11.03h-6.17zM666.9 1347.1h6.17v11.03h-6.17zM720.2 1347.1h6.17v11.03h-6.17zM453.8 1357.9h6.17v11.03h-6.17zM518.9 1357.9h6.17v11.03h-6.17zM536.7 1357.9h6.17v11.03h-6.17zM394.6 1368.7h6.17v11.03h-6.17zM513.0 1368.7h6.17v11.03h-6.17zM524.8 1368.7h6.17v11.03h-6.17zM601.8 1368.7h6.17v11.03h-6.17zM619.6 1368.7h6.17v11.03h-6.17zM690.6 1368.7h6.17v11.03h-6.17zM714.3 1368.7h6.17v11.03h-6.17zM518.9 1379.4h6.17v11.03h-6.17zM690.6 1379.4h6.17v11.03h-6.17zM365.0 1390.2h6.17v11.03h-6.17zM394.6 1390.2h6.17v11.03h-6.17zM672.9 1390.2h6.17v11.03h-6.17zM228.8 1401.0h6.17v11.03h-6.17zM276.1 1401.0h6.17v11.03h-6.17zM365.0 1401.0h6.17v11.03h-6.17zM430.1 1401.0h6.17v11.03h-6.17zM513.0 1401.0h6.17v11.03h-6.17zM666.9 1401.0h6.17v11.03h-6.17zM755.8 1401.0h6.17v11.03h-6.17zM412.3 1411.8h6.17v11.03h-6.17zM447.9 1411.8h6.17v11.03h-6.17zM459.7 1411.8h6.17v11.03h-6.17zM536.7 1411.8h6.17v11.03h-6.17zM554.4 1411.8h6.17v11.03h-6.17zM566.3 1411.8h6.17v11.03h-6.17zM388.6 1422.6h6.17v11.03h-6.17zM631.4 1422.6h6.17v11.03h-6.17zM666.9 1422.6h6.17v11.03h-6.17zM708.4 1422.6h6.17v11.03h-6.17zM761.7 1422.6h6.17v11.03h-6.17zM258.4 1433.3h6.17v11.03h-6.17zM293.9 1433.3h6.17v11.03h-6.17zM347.2 1433.3h6.17v11.03h-6.17zM489.3 1433.3h6.17v11.03h-6.17zM714.3 1433.3h6.17v11.03h-6.17zM755.8 1433.3h6.17v11.03h-6.17zM761.7 1433.3h6.17v11.03h-6.17zM222.8 1444.1h6.17v11.03h-6.17zM246.5 1444.1h6.17v11.03h-6.17zM258.4 1444.1h6.17v11.03h-6.17zM329.4 1444.1h6.17v11.03h-6.17zM430.1 1444.1h6.17v11.03h-6.17zM465.6 1444.1h6.17v11.03h-6.17zM572.2 1444.1h6.17v11.03h-6.17zM637.3 1444.1h6.17v11.03h-6.17zM684.7 1444.1h6.17v11.03h-6.17zM714.3 1444.1h6.17v11.03h-6.17zM329.4 1454.9h6.17v11.03h-6.17zM365.0 1454.9h6.17v11.03h-6.17zM406.4 1454.9h6.17v11.03h-6.17zM471.5 1454.9h6.17v11.03h-6.17zM489.3 1454.9h6.17v11.03h-6.17zM518.9 1454.9h6.17v11.03h-6.17zM548.5 1454.9h6.17v11.03h-6.17zM566.3 1454.9h6.17v11.03h-6.17zM619.6 1454.9h6.17v11.03h-6.17zM631.4 1454.9h6.17v11.03h-6.17zM672.9 1454.9h6.17v11.03h-6.17zM720.2 1454.9h6.17v11.03h-6.17zM288.0 1465.7h6.17v11.03h-6.17zM293.9 1465.7h6.17v11.03h-6.17zM299.8 1465.7h6.17v11.03h-6.17zM430.1 1465.7h6.17v11.03h-6.17zM536.7 1465.7h6.17v11.03h-6.17zM542.6 1465.7h6.17v11.03h-6.17zM631.4 1465.7h6.17v11.03h-6.17zM690.6 1465.7h6.17v11.03h-6.17zM732.1 1465.7h6.17v11.03h-6.17zM216.9 1476.5h6.17v11.03h-6.17zM234.7 1476.5h6.17v11.03h-6.17zM365.0 1476.5h6.17v11.03h-6.17zM436.0 1476.5h6.17v11.03h-6.17zM459.7 1476.5h6.17v11.03h-6.17zM471.5 1476.5h6.17v11.03h-6.17zM702.5 1476.5h6.17v11.03h-6.17zM732.1 1476.5h6.17v11.03h-6.17zM738.0 1476.5h6.17v11.03h-6.17zM222.8 1487.3h6.17v11.03h-6.17zM743.9 1487.3h6.17v11.03h-6.17zM228.8 1498.0h6.17v11.03h-6.17zM240.6 1498.0h6.17v11.03h-6.17zM258.4 1498.0h6.17v11.03h-6.17zM335.3 1498.0h6.17v11.03h-6.17zM436.0 1498.0h6.17v11.03h-6.17zM447.9 1498.0h6.17v11.03h-6.17zM483.4 1498.0h6.17v11.03h-6.17zM524.8 1498.0h6.17v11.03h-6.17zM625.5 1498.0h6.17v11.03h-6.17zM666.9 1498.0h6.17v11.03h-6.17zM720.2 1498.0h6.17v11.03h-6.17zM743.9 1498.0h6.17v11.03h-6.17zM240.6 1508.8h6.17v11.03h-6.17zM305.7 1508.8h6.17v11.03h-6.17zM672.9 1508.8h6.17v11.03h-6.17zM258.4 1519.6h6.17v11.03h-6.17zM264.3 1519.6h6.17v11.03h-6.17zM299.8 1519.6h6.17v11.03h-6.17zM305.7 1519.6h6.17v11.03h-6.17zM341.3 1519.6h6.17v11.03h-6.17zM359.0 1519.6h6.17v11.03h-6.17zM400.5 1519.6h6.17v11.03h-6.17zM430.1 1519.6h6.17v11.03h-6.17zM441.9 1519.6h6.17v11.03h-6.17zM584.0 1519.6h6.17v11.03h-6.17zM661.0 1519.6h6.17v11.03h-6.17zM246.5 1530.4h6.17v11.03h-6.17zM264.3 1530.4h6.17v11.03h-6.17zM288.0 1530.4h6.17v11.03h-6.17zM631.4 1530.4h6.17v11.03h-6.17zM637.3 1530.4h6.17v11.03h-6.17zM661.0 1530.4h6.17v11.03h-6.17zM678.8 1530.4h6.17v11.03h-6.17zM720.2 1530.4h6.17v11.03h-6.17zM347.2 1541.2h6.17v11.03h-6.17zM489.3 1541.2h6.17v11.03h-6.17zM643.3 1541.2h6.17v11.03h-6.17zM655.1 1541.2h6.17v11.03h-6.17zM690.6 1541.2h6.17v11.03h-6.17zM720.2 1541.2h6.17v11.03h-6.17zM311.7 1552.0h6.17v11.03h-6.17zM329.4 1552.0h6.17v11.03h-6.17zM447.9 1552.0h6.17v11.03h-6.17zM471.5 1552.0h6.17v11.03h-6.17zM513.0 1552.0h6.17v11.03h-6.17zM607.7 1552.0h6.17v11.03h-6.17zM696.5 1552.0h6.17v11.03h-6.17zM702.5 1552.0h6.17v11.03h-6.17zM720.2 1552.0h6.17v11.03h-6.17zM211.0 1562.8h6.17v11.03h-6.17zM258.4 1562.8h6.17v11.03h-6.17zM489.3 1562.8h6.17v11.03h-6.17zM513.0 1562.8h6.17v11.03h-6.17zM323.5 1573.5h6.17v11.03h-6.17zM365.0 1573.5h6.17v11.03h-6.17zM453.8 1573.5h6.17v11.03h-6.17zM459.7 1573.5h6.17v11.03h-6.17zM430.1 1584.3h6.17v11.03h-6.17zM530.7 1584.3h6.17v11.03h-6.17zM572.2 1584.3h6.17v11.03h-6.17zM613.6 1584.3h6.17v11.03h-6.17z"/><path fill="#fbe6e5" d="M246.5 1206.9h6.17v11.03h-6.17zM376.8 1206.9h6.17v11.03h-6.17zM400.5 1206.9h6.17v11.03h-6.17zM406.4 1206.9h6.17v11.03h-6.17zM436.0 1206.9h6.17v11.03h-6.17zM471.5 1206.9h6.17v11.03h-6.17zM489.3 1206.9h6.17v11.03h-6.17zM524.8 1206.9h6.17v11.03h-6.17zM536.7 1206.9h6.17v11.03h-6.17zM637.3 1206.9h6.17v11.03h-6.17zM661.0 1206.9h6.17v11.03h-6.17zM672.9 1206.9h6.17v11.03h-6.17zM678.8 1206.9h6.17v11.03h-6.17zM726.2 1206.9h6.17v11.03h-6.17zM288.0 1217.7h6.17v11.03h-6.17zM311.7 1217.7h6.17v11.03h-6.17zM524.8 1217.7h6.17v11.03h-6.17zM584.0 1217.7h6.17v11.03h-6.17zM607.7 1217.7h6.17v11.03h-6.17zM738.0 1217.7h6.17v11.03h-6.17zM288.0 1228.5h6.17v11.03h-6.17zM625.5 1228.5h6.17v11.03h-6.17zM240.6 1239.2h6.17v11.03h-6.17zM305.7 1239.2h6.17v11.03h-6.17zM507.1 1239.2h6.17v11.03h-6.17zM601.8 1239.2h6.17v11.03h-6.17zM661.0 1239.2h6.17v11.03h-6.17zM288.0 1250.0h6.17v11.03h-6.17zM370.9 1250.0h6.17v11.03h-6.17zM453.8 1250.0h6.17v11.03h-6.17zM595.9 1250.0h6.17v11.03h-6.17zM666.9 1250.0h6.17v11.03h-6.17zM649.2 1260.8h6.17v11.03h-6.17zM293.9 1271.6h6.17v11.03h-6.17zM388.6 1271.6h6.17v11.03h-6.17zM400.5 1271.6h6.17v11.03h-6.17zM418.2 1271.6h6.17v11.03h-6.17zM276.1 1282.4h6.17v11.03h-6.17zM370.9 1282.4h6.17v11.03h-6.17zM459.7 1282.4h6.17v11.03h-6.17zM477.5 1282.4h6.17v11.03h-6.17zM572.2 1282.4h6.17v11.03h-6.17zM590.0 1282.4h6.17v11.03h-6.17zM619.6 1282.4h6.17v11.03h-6.17zM305.7 1293.2h6.17v11.03h-6.17zM359.0 1293.2h6.17v11.03h-6.17zM418.2 1293.2h6.17v11.03h-6.17zM252.4 1304.0h6.17v11.03h-6.17zM388.6 1304.0h6.17v11.03h-6.17zM430.1 1304.0h6.17v11.03h-6.17zM483.4 1304.0h6.17v11.03h-6.17zM489.3 1304.0h6.17v11.03h-6.17zM501.1 1304.0h6.17v11.03h-6.17zM524.8 1304.0h6.17v11.03h-6.17zM690.6 1304.0h6.17v11.03h-6.17zM234.7 1314.7h6.17v11.03h-6.17zM305.7 1314.7h6.17v11.03h-6.17zM323.5 1314.7h6.17v11.03h-6.17zM382.7 1314.7h6.17v11.03h-6.17zM406.4 1314.7h6.17v11.03h-6.17zM424.2 1314.7h6.17v11.03h-6.17zM465.6 1314.7h6.17v11.03h-6.17zM518.9 1314.7h6.17v11.03h-6.17zM590.0 1314.7h6.17v11.03h-6.17zM631.4 1314.7h6.17v11.03h-6.17zM678.8 1314.7h6.17v11.03h-6.17zM708.4 1314.7h6.17v11.03h-6.17zM317.6 1325.5h6.17v11.03h-6.17zM424.2 1325.5h6.17v11.03h-6.17zM436.0 1325.5h6.17v11.03h-6.17zM489.3 1325.5h6.17v11.03h-6.17zM329.4 1336.3h6.17v11.03h-6.17zM495.2 1336.3h6.17v11.03h-6.17zM560.4 1336.3h6.17v11.03h-6.17zM678.8 1336.3h6.17v11.03h-6.17zM696.5 1336.3h6.17v11.03h-6.17zM720.2 1336.3h6.17v11.03h-6.17zM755.8 1336.3h6.17v11.03h-6.17zM252.4 1347.1h6.17v11.03h-6.17zM317.6 1347.1h6.17v11.03h-6.17zM353.1 1347.1h6.17v11.03h-6.17zM459.7 1347.1h6.17v11.03h-6.17zM465.6 1347.1h6.17v11.03h-6.17zM513.0 1347.1h6.17v11.03h-6.17zM661.0 1347.1h6.17v11.03h-6.17zM708.4 1347.1h6.17v11.03h-6.17zM726.2 1347.1h6.17v11.03h-6.17zM749.8 1347.1h6.17v11.03h-6.17zM317.6 1357.9h6.17v11.03h-6.17zM400.5 1357.9h6.17v11.03h-6.17zM530.7 1357.9h6.17v11.03h-6.17zM566.3 1357.9h6.17v11.03h-6.17zM595.9 1357.9h6.17v11.03h-6.17zM613.6 1357.9h6.17v11.03h-6.17zM655.1 1357.9h6.17v11.03h-6.17zM672.9 1357.9h6.17v11.03h-6.17zM678.8 1357.9h6.17v11.03h-6.17zM714.3 1357.9h6.17v11.03h-6.17zM299.8 1368.7h6.17v11.03h-6.17zM311.7 1368.7h6.17v11.03h-6.17zM382.7 1368.7h6.17v11.03h-6.17zM388.6 1368.7h6.17v11.03h-6.17zM684.7 1368.7h6.17v11.03h-6.17zM761.7 1368.7h6.17v11.03h-6.17zM365.0 1379.4h6.17v11.03h-6.17zM394.6 1379.4h6.17v11.03h-6.17zM412.3 1379.4h6.17v11.03h-6.17zM424.2 1379.4h6.17v11.03h-6.17zM661.0 1379.4h6.17v11.03h-6.17zM666.9 1379.4h6.17v11.03h-6.17zM720.2 1379.4h6.17v11.03h-6.17zM732.1 1379.4h6.17v11.03h-6.17zM288.0 1390.2h6.17v11.03h-6.17zM424.2 1390.2h6.17v11.03h-6.17zM483.4 1390.2h6.17v11.03h-6.17zM518.9 1390.2h6.17v11.03h-6.17zM542.6 1390.2h6.17v11.03h-6.17zM554.4 1390.2h6.17v11.03h-6.17zM720.2 1390.2h6.17v11.03h-6.17zM743.9 1390.2h6.17v11.03h-6.17zM246.5 1401.0h6.17v11.03h-6.17zM353.1 1401.0h6.17v11.03h-6.17zM447.9 1401.0h6.17v11.03h-6.17zM542.6 1401.0h6.17v11.03h-6.17zM743.9 1401.0h6.17v11.03h-6.17zM761.7 1401.0h6.17v11.03h-6.17zM211.0 1411.8h6.17v11.03h-6.17zM696.5 1411.8h6.17v11.03h-6.17zM335.3 1422.6h6.17v11.03h-6.17zM501.1 1422.6h6.17v11.03h-6.17zM507.1 1422.6h6.17v11.03h-6.17zM607.7 1422.6h6.17v11.03h-6.17zM264.3 1433.3h6.17v11.03h-6.17zM394.6 1433.3h6.17v11.03h-6.17zM436.0 1433.3h6.17v11.03h-6.17zM459.7 1433.3h6.17v11.03h-6.17zM501.1 1433.3h6.17v11.03h-6.17zM661.0 1433.3h6.17v11.03h-6.17zM732.1 1433.3h6.17v11.03h-6.17zM288.0 1444.1h6.17v11.03h-6.17zM548.5 1444.1h6.17v11.03h-6.17zM678.8 1444.1h6.17v11.03h-6.17zM720.2 1444.1h6.17v11.03h-6.17zM430.1 1454.9h6.17v11.03h-6.17zM530.7 1465.7h6.17v11.03h-6.17zM637.3 1465.7h6.17v11.03h-6.17zM222.8 1476.5h6.17v11.03h-6.17zM305.7 1476.5h6.17v11.03h-6.17zM311.7 1476.5h6.17v11.03h-6.17zM548.5 1476.5h6.17v11.03h-6.17zM625.5 1476.5h6.17v11.03h-6.17zM264.3 1487.3h6.17v11.03h-6.17zM311.7 1487.3h6.17v11.03h-6.17zM347.2 1487.3h6.17v11.03h-6.17zM365.0 1487.3h6.17v11.03h-6.17zM412.3 1487.3h6.17v11.03h-6.17zM613.6 1487.3h6.17v11.03h-6.17zM619.6 1487.3h6.17v11.03h-6.17zM708.4 1487.3h6.17v11.03h-6.17zM755.8 1487.3h6.17v11.03h-6.17zM761.7 1487.3h6.17v11.03h-6.17zM317.6 1498.0h6.17v11.03h-6.17zM382.7 1498.0h6.17v11.03h-6.17zM655.1 1498.0h6.17v11.03h-6.17zM661.0 1498.0h6.17v11.03h-6.17zM684.7 1498.0h6.17v11.03h-6.17zM317.6 1508.8h6.17v11.03h-6.17zM400.5 1508.8h6.17v11.03h-6.17zM483.4 1508.8h6.17v11.03h-6.17zM554.4 1508.8h6.17v11.03h-6.17zM655.1 1508.8h6.17v11.03h-6.17zM311.7 1519.6h6.17v11.03h-6.17zM471.5 1519.6h6.17v11.03h-6.17zM595.9 1519.6h6.17v11.03h-6.17zM293.9 1530.4h6.17v11.03h-6.17zM341.3 1530.4h6.17v11.03h-6.17zM412.3 1530.4h6.17v11.03h-6.17zM495.2 1530.4h6.17v11.03h-6.17zM513.0 1530.4h6.17v11.03h-6.17zM578.1 1530.4h6.17v11.03h-6.17zM299.8 1541.2h6.17v11.03h-6.17zM370.9 1541.2h6.17v11.03h-6.17zM388.6 1541.2h6.17v11.03h-6.17zM459.7 1541.2h6.17v11.03h-6.17zM471.5 1541.2h6.17v11.03h-6.17zM513.0 1541.2h6.17v11.03h-6.17zM518.9 1541.2h6.17v11.03h-6.17zM530.7 1541.2h6.17v11.03h-6.17zM560.4 1541.2h6.17v11.03h-6.17zM572.2 1541.2h6.17v11.03h-6.17zM578.1 1541.2h6.17v11.03h-6.17zM696.5 1541.2h6.17v11.03h-6.17zM211.0 1552.0h6.17v11.03h-6.17zM495.2 1552.0h6.17v11.03h-6.17zM560.4 1552.0h6.17v11.03h-6.17zM613.6 1552.0h6.17v11.03h-6.17zM305.7 1562.8h6.17v11.03h-6.17zM323.5 1562.8h6.17v11.03h-6.17zM430.1 1562.8h6.17v11.03h-6.17zM483.4 1562.8h6.17v11.03h-6.17zM536.7 1562.8h6.17v11.03h-6.17zM590.0 1562.8h6.17v11.03h-6.17zM631.4 1562.8h6.17v11.03h-6.17zM655.1 1562.8h6.17v11.03h-6.17zM661.0 1562.8h6.17v11.03h-6.17zM696.5 1562.8h6.17v11.03h-6.17zM743.9 1562.8h6.17v11.03h-6.17zM755.8 1562.8h6.17v11.03h-6.17zM299.8 1573.5h6.17v11.03h-6.17zM341.3 1573.5h6.17v11.03h-6.17zM536.7 1573.5h6.17v11.03h-6.17zM572.2 1573.5h6.17v11.03h-6.17zM601.8 1573.5h6.17v11.03h-6.17zM613.6 1573.5h6.17v11.03h-6.17zM714.3 1573.5h6.17v11.03h-6.17zM755.8 1573.5h6.17v11.03h-6.17zM240.6 1584.3h6.17v11.03h-6.17zM252.4 1584.3h6.17v11.03h-6.17zM376.8 1584.3h6.17v11.03h-6.17zM424.2 1584.3h6.17v11.03h-6.17zM477.5 1584.3h6.17v11.03h-6.17zM489.3 1584.3h6.17v11.03h-6.17zM507.1 1584.3h6.17v11.03h-6.17zM578.1 1584.3h6.17v11.03h-6.17z"/><path fill="#ffffff" d="M252.4 1206.9h6.17v11.03h-6.17zM394.6 1206.9h6.17v11.03h-6.17zM418.2 1206.9h6.17v11.03h-6.17zM530.7 1206.9h6.17v11.03h-6.17zM696.5 1206.9h6.17v11.03h-6.17zM335.3 1217.7h6.17v11.03h-6.17zM353.1 1217.7h6.17v11.03h-6.17zM394.6 1217.7h6.17v11.03h-6.17zM471.5 1217.7h6.17v11.03h-6.17zM477.5 1217.7h6.17v11.03h-6.17zM489.3 1217.7h6.17v11.03h-6.17zM495.2 1217.7h6.17v11.03h-6.17zM441.9 1228.5h6.17v11.03h-6.17zM465.6 1228.5h6.17v11.03h-6.17zM595.9 1228.5h6.17v11.03h-6.17zM649.2 1228.5h6.17v11.03h-6.17zM708.4 1228.5h6.17v11.03h-6.17zM738.0 1228.5h6.17v11.03h-6.17zM222.8 1239.2h6.17v11.03h-6.17zM264.3 1239.2h6.17v11.03h-6.17zM282.1 1239.2h6.17v11.03h-6.17zM299.8 1239.2h6.17v11.03h-6.17zM359.0 1239.2h6.17v11.03h-6.17zM459.7 1239.2h6.17v11.03h-6.17zM477.5 1239.2h6.17v11.03h-6.17zM489.3 1239.2h6.17v11.03h-6.17zM584.0 1239.2h6.17v11.03h-6.17zM696.5 1239.2h6.17v11.03h-6.17zM702.5 1239.2h6.17v11.03h-6.17zM323.5 1250.0h6.17v11.03h-6.17zM394.6 1250.0h6.17v11.03h-6.17zM560.4 1250.0h6.17v11.03h-6.17zM572.2 1250.0h6.17v11.03h-6.17zM406.4 1260.8h6.17v11.03h-6.17zM453.8 1260.8h6.17v11.03h-6.17zM489.3 1260.8h6.17v11.03h-6.17zM738.0 1260.8h6.17v11.03h-6.17zM246.5 1271.6h6.17v11.03h-6.17zM382.7 1271.6h6.17v11.03h-6.17zM394.6 1271.6h6.17v11.03h-6.17zM548.5 1271.6h6.17v11.03h-6.17zM684.7 1271.6h6.17v11.03h-6.17zM755.8 1271.6h6.17v11.03h-6.17zM329.4 1282.4h6.17v11.03h-6.17zM382.7 1282.4h6.17v11.03h-6.17zM424.2 1282.4h6.17v11.03h-6.17zM447.9 1282.4h6.17v11.03h-6.17zM542.6 1282.4h6.17v11.03h-6.17zM578.1 1282.4h6.17v11.03h-6.17zM595.9 1282.4h6.17v11.03h-6.17zM655.1 1282.4h6.17v11.03h-6.17zM720.2 1282.4h6.17v11.03h-6.17zM726.2 1282.4h6.17v11.03h-6.17zM749.8 1282.4h6.17v11.03h-6.17zM453.8 1293.2h6.17v11.03h-6.17zM625.5 1293.2h6.17v11.03h-6.17zM631.4 1293.2h6.17v11.03h-6.17zM726.2 1293.2h6.17v11.03h-6.17zM276.1 1304.0h6.17v11.03h-6.17zM323.5 1304.0h6.17v11.03h-6.17zM394.6 1304.0h6.17v11.03h-6.17zM536.7 1304.0h6.17v11.03h-6.17zM548.5 1304.0h6.17v11.03h-6.17zM554.4 1304.0h6.17v11.03h-6.17zM560.4 1304.0h6.17v11.03h-6.17zM619.6 1304.0h6.17v11.03h-6.17zM649.2 1304.0h6.17v11.03h-6.17zM678.8 1304.0h6.17v11.03h-6.17zM560.4 1314.7h6.17v11.03h-6.17zM637.3 1314.7h6.17v11.03h-6.17zM649.2 1314.7h6.17v11.03h-6.17zM684.7 1314.7h6.17v11.03h-6.17zM696.5 1314.7h6.17v11.03h-6.17zM755.8 1314.7h6.17v11.03h-6.17zM359.0 1325.5h6.17v11.03h-6.17zM430.1 1325.5h6.17v11.03h-6.17zM465.6 1325.5h6.17v11.03h-6.17zM501.1 1325.5h6.17v11.03h-6.17zM554.4 1336.3h6.17v11.03h-6.17zM288.0 1347.1h6.17v11.03h-6.17zM299.8 1347.1h6.17v11.03h-6.17zM394.6 1347.1h6.17v11.03h-6.17zM678.8 1347.1h6.17v11.03h-6.17zM684.7 1347.1h6.17v11.03h-6.17zM714.3 1347.1h6.17v11.03h-6.17zM382.7 1357.9h6.17v11.03h-6.17zM441.9 1357.9h6.17v11.03h-6.17zM513.0 1357.9h6.17v11.03h-6.17zM548.5 1357.9h6.17v11.03h-6.17zM554.4 1357.9h6.17v11.03h-6.17zM578.1 1357.9h6.17v11.03h-6.17zM234.7 1368.7h6.17v11.03h-6.17zM288.0 1368.7h6.17v11.03h-6.17zM335.3 1368.7h6.17v11.03h-6.17zM341.3 1368.7h6.17v11.03h-6.17zM530.7 1368.7h6.17v11.03h-6.17zM542.6 1368.7h6.17v11.03h-6.17zM655.1 1368.7h6.17v11.03h-6.17zM678.8 1368.7h6.17v11.03h-6.17zM755.8 1368.7h6.17v11.03h-6.17zM323.5 1379.4h6.17v11.03h-6.17zM566.3 1379.4h6.17v11.03h-6.17zM584.0 1379.4h6.17v11.03h-6.17zM607.7 1379.4h6.17v11.03h-6.17zM696.5 1379.4h6.17v11.03h-6.17zM714.3 1379.4h6.17v11.03h-6.17zM282.1 1390.2h6.17v11.03h-6.17zM317.6 1390.2h6.17v11.03h-6.17zM418.2 1390.2h6.17v11.03h-6.17zM453.8 1390.2h6.17v11.03h-6.17zM590.0 1390.2h6.17v11.03h-6.17zM684.7 1390.2h6.17v11.03h-6.17zM755.8 1390.2h6.17v11.03h-6.17zM234.7 1401.0h6.17v11.03h-6.17zM264.3 1401.0h6.17v11.03h-6.17zM400.5 1401.0h6.17v11.03h-6.17zM477.5 1401.0h6.17v11.03h-6.17zM625.5 1401.0h6.17v11.03h-6.17zM631.4 1401.0h6.17v11.03h-6.17zM749.8 1401.0h6.17v11.03h-6.17zM489.3 1411.8h6.17v11.03h-6.17zM595.9 1411.8h6.17v11.03h-6.17zM726.2 1411.8h6.17v11.03h-6.17zM732.1 1411.8h6.17v11.03h-6.17zM382.7 1422.6h6.17v11.03h-6.17zM394.6 1422.6h6.17v11.03h-6.17zM483.4 1422.6h6.17v11.03h-6.17zM690.6 1422.6h6.17v11.03h-6.17zM726.2 1422.6h6.17v11.03h-6.17zM388.6 1433.3h6.17v11.03h-6.17zM483.4 1433.3h6.17v11.03h-6.17zM542.6 1433.3h6.17v11.03h-6.17zM678.8 1433.3h6.17v11.03h-6.17zM690.6 1433.3h6.17v11.03h-6.17zM749.8 1433.3h6.17v11.03h-6.17zM228.8 1444.1h6.17v11.03h-6.17zM382.7 1444.1h6.17v11.03h-6.17zM436.0 1444.1h6.17v11.03h-6.17zM518.9 1444.1h6.17v11.03h-6.17zM536.7 1444.1h6.17v11.03h-6.17zM590.0 1444.1h6.17v11.03h-6.17zM631.4 1444.1h6.17v11.03h-6.17zM643.3 1444.1h6.17v11.03h-6.17zM655.1 1444.1h6.17v11.03h-6.17zM738.0 1444.1h6.17v11.03h-6.17zM761.7 1444.1h6.17v11.03h-6.17zM347.2 1454.9h6.17v11.03h-6.17zM595.9 1454.9h6.17v11.03h-6.17zM655.1 1454.9h6.17v11.03h-6.17zM329.4 1465.7h6.17v11.03h-6.17zM347.2 1465.7h6.17v11.03h-6.17zM370.9 1465.7h6.17v11.03h-6.17zM388.6 1465.7h6.17v11.03h-6.17zM524.8 1465.7h6.17v11.03h-6.17zM548.5 1465.7h6.17v11.03h-6.17zM554.4 1465.7h6.17v11.03h-6.17zM572.2 1465.7h6.17v11.03h-6.17zM578.1 1465.7h6.17v11.03h-6.17zM584.0 1465.7h6.17v11.03h-6.17zM258.4 1476.5h6.17v11.03h-6.17zM276.1 1476.5h6.17v11.03h-6.17zM317.6 1476.5h6.17v11.03h-6.17zM418.2 1476.5h6.17v11.03h-6.17zM595.9 1476.5h6.17v11.03h-6.17zM672.9 1476.5h6.17v11.03h-6.17zM678.8 1476.5h6.17v11.03h-6.17zM258.4 1487.3h6.17v11.03h-6.17zM317.6 1487.3h6.17v11.03h-6.17zM370.9 1487.3h6.17v11.03h-6.17zM400.5 1487.3h6.17v11.03h-6.17zM424.2 1487.3h6.17v11.03h-6.17zM430.1 1487.3h6.17v11.03h-6.17zM447.9 1487.3h6.17v11.03h-6.17zM453.8 1487.3h6.17v11.03h-6.17zM305.7 1498.0h6.17v11.03h-6.17zM347.2 1498.0h6.17v11.03h-6.17zM353.1 1498.0h6.17v11.03h-6.17zM495.2 1498.0h6.17v11.03h-6.17zM507.1 1498.0h6.17v11.03h-6.17zM560.4 1498.0h6.17v11.03h-6.17zM578.1 1498.0h6.17v11.03h-6.17zM584.0 1498.0h6.17v11.03h-6.17zM601.8 1498.0h6.17v11.03h-6.17zM607.7 1498.0h6.17v11.03h-6.17zM613.6 1498.0h6.17v11.03h-6.17zM631.4 1498.0h6.17v11.03h-6.17zM252.4 1508.8h6.17v11.03h-6.17zM412.3 1508.8h6.17v11.03h-6.17zM489.3 1508.8h6.17v11.03h-6.17zM524.8 1508.8h6.17v11.03h-6.17zM560.4 1508.8h6.17v11.03h-6.17zM572.2 1508.8h6.17v11.03h-6.17zM601.8 1508.8h6.17v11.03h-6.17zM607.7 1508.8h6.17v11.03h-6.17zM370.9 1519.6h6.17v11.03h-6.17zM436.0 1519.6h6.17v11.03h-6.17zM513.0 1519.6h6.17v11.03h-6.17zM702.5 1519.6h6.17v11.03h-6.17zM359.0 1530.4h6.17v11.03h-6.17zM418.2 1530.4h6.17v11.03h-6.17zM441.9 1530.4h6.17v11.03h-6.17zM548.5 1530.4h6.17v11.03h-6.17zM601.8 1530.4h6.17v11.03h-6.17zM684.7 1530.4h6.17v11.03h-6.17zM258.4 1541.2h6.17v11.03h-6.17zM288.0 1541.2h6.17v11.03h-6.17zM412.3 1541.2h6.17v11.03h-6.17zM424.2 1541.2h6.17v11.03h-6.17zM590.0 1541.2h6.17v11.03h-6.17zM708.4 1541.2h6.17v11.03h-6.17zM761.7 1541.2h6.17v11.03h-6.17zM299.8 1552.0h6.17v11.03h-6.17zM317.6 1552.0h6.17v11.03h-6.17zM406.4 1552.0h6.17v11.03h-6.17zM584.0 1552.0h6.17v11.03h-6.17zM619.6 1552.0h6.17v11.03h-6.17zM234.7 1562.8h6.17v11.03h-6.17zM246.5 1562.8h6.17v11.03h-6.17zM353.1 1562.8h6.17v11.03h-6.17zM595.9 1562.8h6.17v11.03h-6.17zM607.7 1562.8h6.17v11.03h-6.17zM738.0 1562.8h6.17v11.03h-6.17zM305.7 1573.5h6.17v11.03h-6.17zM329.4 1573.5h6.17v11.03h-6.17zM507.1 1573.5h6.17v11.03h-6.17zM513.0 1573.5h6.17v11.03h-6.17zM578.1 1573.5h6.17v11.03h-6.17zM228.8 1584.3h6.17v11.03h-6.17zM234.7 1584.3h6.17v11.03h-6.17zM270.2 1584.3h6.17v11.03h-6.17zM370.9 1584.3h6.17v11.03h-6.17zM388.6 1584.3h6.17v11.03h-6.17zM400.5 1584.3h6.17v11.03h-6.17zM406.4 1584.3h6.17v11.03h-6.17zM436.0 1584.3h6.17v11.03h-6.17zM465.6 1584.3h6.17v11.03h-6.17zM542.6 1584.3h6.17v11.03h-6.17zM595.9 1584.3h6.17v11.03h-6.17zM601.8 1584.3h6.17v11.03h-6.17zM607.7 1584.3h6.17v11.03h-6.17zM655.1 1584.3h6.17v11.03h-6.17zM684.7 1584.3h6.17v11.03h-6.17z"/><path fill="#f3b4b0" d="M258.4 1206.9h6.17v11.03h-6.17zM335.3 1206.9h6.17v11.03h-6.17zM430.1 1206.9h6.17v11.03h-6.17zM501.1 1206.9h6.17v11.03h-6.17zM548.5 1239.2h6.17v11.03h-6.17zM607.7 1239.2h6.17v11.03h-6.17zM708.4 1239.2h6.17v11.03h-6.17zM732.1 1239.2h6.17v11.03h-6.17zM743.9 1239.2h6.17v11.03h-6.17zM755.8 1239.2h6.17v11.03h-6.17zM211.0 1250.0h6.17v11.03h-6.17zM276.1 1250.0h6.17v11.03h-6.17zM311.7 1250.0h6.17v11.03h-6.17zM477.5 1250.0h6.17v11.03h-6.17zM489.3 1250.0h6.17v11.03h-6.17zM507.1 1250.0h6.17v11.03h-6.17zM584.0 1250.0h6.17v11.03h-6.17zM761.7 1250.0h6.17v11.03h-6.17zM530.7 1260.8h6.17v11.03h-6.17zM566.3 1260.8h6.17v11.03h-6.17zM211.0 1271.6h6.17v11.03h-6.17zM222.8 1271.6h6.17v11.03h-6.17zM323.5 1271.6h6.17v11.03h-6.17zM347.2 1271.6h6.17v11.03h-6.17zM359.0 1271.6h6.17v11.03h-6.17zM619.6 1271.6h6.17v11.03h-6.17zM264.3 1282.4h6.17v11.03h-6.17zM335.3 1282.4h6.17v11.03h-6.17zM341.3 1282.4h6.17v11.03h-6.17zM353.1 1282.4h6.17v11.03h-6.17zM436.0 1282.4h6.17v11.03h-6.17zM465.6 1282.4h6.17v11.03h-6.17zM483.4 1282.4h6.17v11.03h-6.17zM613.6 1282.4h6.17v11.03h-6.17zM743.9 1282.4h6.17v11.03h-6.17zM234.7 1293.2h6.17v11.03h-6.17zM293.9 1293.2h6.17v11.03h-6.17zM299.8 1293.2h6.17v11.03h-6.17zM376.8 1293.2h6.17v11.03h-6.17zM382.7 1293.2h6.17v11.03h-6.17zM400.5 1293.2h6.17v11.03h-6.17zM584.0 1293.2h6.17v11.03h-6.17zM595.9 1293.2h6.17v11.03h-6.17zM708.4 1293.2h6.17v11.03h-6.17zM299.8 1304.0h6.17v11.03h-6.17zM400.5 1304.0h6.17v11.03h-6.17zM459.7 1304.0h6.17v11.03h-6.17zM743.9 1304.0h6.17v11.03h-6.17zM246.5 1314.7h6.17v11.03h-6.17zM258.4 1314.7h6.17v11.03h-6.17zM270.2 1314.7h6.17v11.03h-6.17zM311.7 1314.7h6.17v11.03h-6.17zM376.8 1314.7h6.17v11.03h-6.17zM394.6 1314.7h6.17v11.03h-6.17zM542.6 1314.7h6.17v11.03h-6.17zM222.8 1325.5h6.17v11.03h-6.17zM258.4 1325.5h6.17v11.03h-6.17zM276.1 1325.5h6.17v11.03h-6.17zM222.8 1336.3h6.17v11.03h-6.17zM270.2 1336.3h6.17v11.03h-6.17zM453.8 1336.3h6.17v11.03h-6.17zM465.6 1336.3h6.17v11.03h-6.17zM524.8 1336.3h6.17v11.03h-6.17zM732.1 1336.3h6.17v11.03h-6.17zM234.7 1347.1h6.17v11.03h-6.17zM293.9 1347.1h6.17v11.03h-6.17zM323.5 1347.1h6.17v11.03h-6.17zM376.8 1347.1h6.17v11.03h-6.17zM382.7 1347.1h6.17v11.03h-6.17zM400.5 1347.1h6.17v11.03h-6.17zM412.3 1347.1h6.17v11.03h-6.17zM424.2 1347.1h6.17v11.03h-6.17zM672.9 1347.1h6.17v11.03h-6.17zM732.1 1347.1h6.17v11.03h-6.17zM282.1 1357.9h6.17v11.03h-6.17zM412.3 1357.9h6.17v11.03h-6.17zM465.6 1357.9h6.17v11.03h-6.17zM572.2 1357.9h6.17v11.03h-6.17zM666.9 1357.9h6.17v11.03h-6.17zM228.8 1368.7h6.17v11.03h-6.17zM258.4 1368.7h6.17v11.03h-6.17zM264.3 1368.7h6.17v11.03h-6.17zM270.2 1368.7h6.17v11.03h-6.17zM406.4 1368.7h6.17v11.03h-6.17zM211.0 1379.4h6.17v11.03h-6.17zM530.7 1379.4h6.17v11.03h-6.17zM572.2 1379.4h6.17v11.03h-6.17zM649.2 1379.4h6.17v11.03h-6.17zM655.1 1379.4h6.17v11.03h-6.17zM524.8 1390.2h6.17v11.03h-6.17zM548.5 1390.2h6.17v11.03h-6.17zM714.3 1390.2h6.17v11.03h-6.17zM732.1 1390.2h6.17v11.03h-6.17zM761.7 1390.2h6.17v11.03h-6.17zM323.5 1401.0h6.17v11.03h-6.17zM441.9 1401.0h6.17v11.03h-6.17zM495.2 1401.0h6.17v11.03h-6.17zM613.6 1401.0h6.17v11.03h-6.17zM560.4 1411.8h6.17v11.03h-6.17zM749.8 1422.6h6.17v11.03h-6.17zM276.1 1433.3h6.17v11.03h-6.17zM376.8 1433.3h6.17v11.03h-6.17zM447.9 1433.3h6.17v11.03h-6.17zM530.7 1433.3h6.17v11.03h-6.17zM317.6 1444.1h6.17v11.03h-6.17zM501.1 1444.1h6.17v11.03h-6.17zM507.1 1444.1h6.17v11.03h-6.17zM607.7 1444.1h6.17v11.03h-6.17zM560.4 1465.7h6.17v11.03h-6.17zM299.8 1487.3h6.17v11.03h-6.17zM465.6 1487.3h6.17v11.03h-6.17zM477.5 1487.3h6.17v11.03h-6.17zM501.1 1487.3h6.17v11.03h-6.17zM625.5 1487.3h6.17v11.03h-6.17zM661.0 1487.3h6.17v11.03h-6.17zM595.9 1498.0h6.17v11.03h-6.17zM542.6 1519.6h6.17v11.03h-6.17zM637.3 1519.6h6.17v11.03h-6.17zM518.9 1530.4h6.17v11.03h-6.17zM335.3 1541.2h6.17v11.03h-6.17zM548.5 1541.2h6.17v11.03h-6.17zM619.6 1541.2h6.17v11.03h-6.17zM631.4 1552.0h6.17v11.03h-6.17zM613.6 1562.8h6.17v11.03h-6.17zM619.6 1562.8h6.17v11.03h-6.17zM625.5 1562.8h6.17v11.03h-6.17zM222.8 1573.5h6.17v11.03h-6.17zM270.2 1573.5h6.17v11.03h-6.17zM542.6 1573.5h6.17v11.03h-6.17zM584.0 1573.5h6.17v11.03h-6.17zM708.4 1573.5h6.17v11.03h-6.17zM738.0 1573.5h6.17v11.03h-6.17zM222.8 1584.3h6.17v11.03h-6.17zM365.0 1584.3h6.17v11.03h-6.17zM501.1 1584.3h6.17v11.03h-6.17zM554.4 1584.3h6.17v11.03h-6.17zM625.5 1584.3h6.17v11.03h-6.17zM726.2 1584.3h6.17v11.03h-6.17z"/><path fill="#e03d33" d="M282.1 1206.9h6.17v11.03h-6.17zM353.1 1206.9h6.17v11.03h-6.17zM554.4 1206.9h6.17v11.03h-6.17zM453.8 1228.5h6.17v11.03h-6.17zM566.3 1239.2h6.17v11.03h-6.17zM649.2 1239.2h6.17v11.03h-6.17zM305.7 1250.0h6.17v11.03h-6.17zM353.1 1250.0h6.17v11.03h-6.17zM483.4 1250.0h6.17v11.03h-6.17zM749.8 1250.0h6.17v11.03h-6.17zM459.7 1271.6h6.17v11.03h-6.17zM347.2 1282.4h6.17v11.03h-6.17zM222.8 1293.2h6.17v11.03h-6.17zM276.1 1293.2h6.17v11.03h-6.17zM483.4 1293.2h6.17v11.03h-6.17zM749.8 1293.2h6.17v11.03h-6.17zM477.5 1304.0h6.17v11.03h-6.17zM347.2 1314.7h6.17v11.03h-6.17zM359.0 1314.7h6.17v11.03h-6.17zM388.6 1325.5h6.17v11.03h-6.17zM400.5 1325.5h6.17v11.03h-6.17zM211.0 1336.3h6.17v11.03h-6.17zM216.9 1336.3h6.17v11.03h-6.17zM258.4 1336.3h6.17v11.03h-6.17zM507.1 1336.3h6.17v11.03h-6.17zM222.8 1347.1h6.17v11.03h-6.17zM246.5 1347.1h6.17v11.03h-6.17zM430.1 1347.1h6.17v11.03h-6.17zM293.9 1357.9h6.17v11.03h-6.17zM335.3 1357.9h6.17v11.03h-6.17zM406.4 1357.9h6.17v11.03h-6.17zM447.9 1357.9h6.17v11.03h-6.17zM489.3 1357.9h6.17v11.03h-6.17zM726.2 1357.9h6.17v11.03h-6.17zM246.5 1368.7h6.17v11.03h-6.17zM643.3 1368.7h6.17v11.03h-6.17zM228.8 1379.4h6.17v11.03h-6.17zM299.8 1379.4h6.17v11.03h-6.17zM311.7 1379.4h6.17v11.03h-6.17zM347.2 1379.4h6.17v11.03h-6.17zM353.1 1379.4h6.17v11.03h-6.17zM388.6 1379.4h6.17v11.03h-6.17zM477.5 1390.2h6.17v11.03h-6.17zM495.2 1390.2h6.17v11.03h-6.17zM513.0 1390.2h6.17v11.03h-6.17zM607.7 1390.2h6.17v11.03h-6.17zM637.3 1411.8h6.17v11.03h-6.17zM696.5 1422.6h6.17v11.03h-6.17zM305.7 1433.3h6.17v11.03h-6.17zM317.6 1433.3h6.17v11.03h-6.17zM329.4 1433.3h6.17v11.03h-6.17zM637.3 1433.3h6.17v11.03h-6.17zM649.2 1433.3h6.17v11.03h-6.17zM441.9 1444.1h6.17v11.03h-6.17zM560.4 1444.1h6.17v11.03h-6.17zM234.7 1454.9h6.17v11.03h-6.17zM418.2 1465.7h6.17v11.03h-6.17zM637.3 1476.5h6.17v11.03h-6.17zM607.7 1487.3h6.17v11.03h-6.17zM684.7 1487.3h6.17v11.03h-6.17zM749.8 1487.3h6.17v11.03h-6.17zM501.1 1498.0h6.17v11.03h-6.17zM542.6 1508.8h6.17v11.03h-6.17zM560.4 1519.6h6.17v11.03h-6.17zM625.5 1519.6h6.17v11.03h-6.17zM554.4 1541.2h6.17v11.03h-6.17zM595.9 1541.2h6.17v11.03h-6.17zM613.6 1541.2h6.17v11.03h-6.17zM548.5 1562.8h6.17v11.03h-6.17zM578.1 1562.8h6.17v11.03h-6.17zM684.7 1562.8h6.17v11.03h-6.17zM216.9 1573.5h6.17v11.03h-6.17zM252.4 1573.5h6.17v11.03h-6.17zM690.6 1573.5h6.17v11.03h-6.17zM743.9 1573.5h6.17v11.03h-6.17zM329.4 1584.3h6.17v11.03h-6.17zM714.3 1584.3h6.17v11.03h-6.17zM749.8 1584.3h6.17v11.03h-6.17z"/><path fill="#fdf4f3" d="M293.9 1206.9h6.17v11.03h-6.17zM370.9 1206.9h6.17v11.03h-6.17zM483.4 1206.9h6.17v11.03h-6.17zM495.2 1206.9h6.17v11.03h-6.17zM518.9 1206.9h6.17v11.03h-6.17zM560.4 1206.9h6.17v11.03h-6.17zM631.4 1206.9h6.17v11.03h-6.17zM293.9 1217.7h6.17v11.03h-6.17zM305.7 1217.7h6.17v11.03h-6.17zM441.9 1217.7h6.17v11.03h-6.17zM572.2 1217.7h6.17v11.03h-6.17zM613.6 1217.7h6.17v11.03h-6.17zM714.3 1217.7h6.17v11.03h-6.17zM720.2 1217.7h6.17v11.03h-6.17zM400.5 1228.5h6.17v11.03h-6.17zM489.3 1228.5h6.17v11.03h-6.17zM566.3 1228.5h6.17v11.03h-6.17zM655.1 1228.5h6.17v11.03h-6.17zM714.3 1228.5h6.17v11.03h-6.17zM228.8 1239.2h6.17v11.03h-6.17zM329.4 1239.2h6.17v11.03h-6.17zM335.3 1239.2h6.17v11.03h-6.17zM430.1 1239.2h6.17v11.03h-6.17zM690.6 1239.2h6.17v11.03h-6.17zM726.2 1239.2h6.17v11.03h-6.17zM418.2 1250.0h6.17v11.03h-6.17zM447.9 1250.0h6.17v11.03h-6.17zM720.2 1250.0h6.17v11.03h-6.17zM365.0 1260.8h6.17v11.03h-6.17zM388.6 1260.8h6.17v11.03h-6.17zM436.0 1260.8h6.17v11.03h-6.17zM447.9 1260.8h6.17v11.03h-6.17zM311.7 1271.6h6.17v11.03h-6.17zM370.9 1271.6h6.17v11.03h-6.17zM376.8 1271.6h6.17v11.03h-6.17zM406.4 1271.6h6.17v11.03h-6.17zM436.0 1271.6h6.17v11.03h-6.17zM631.4 1271.6h6.17v11.03h-6.17zM240.6 1282.4h6.17v11.03h-6.17zM323.5 1282.4h6.17v11.03h-6.17zM394.6 1282.4h6.17v11.03h-6.17zM471.5 1282.4h6.17v11.03h-6.17zM566.3 1282.4h6.17v11.03h-6.17zM584.0 1282.4h6.17v11.03h-6.17zM666.9 1282.4h6.17v11.03h-6.17zM672.9 1282.4h6.17v11.03h-6.17zM696.5 1282.4h6.17v11.03h-6.17zM708.4 1282.4h6.17v11.03h-6.17zM732.1 1282.4h6.17v11.03h-6.17zM246.5 1293.2h6.17v11.03h-6.17zM323.5 1293.2h6.17v11.03h-6.17zM347.2 1293.2h6.17v11.03h-6.17zM365.0 1293.2h6.17v11.03h-6.17zM465.6 1293.2h6.17v11.03h-6.17zM542.6 1293.2h6.17v11.03h-6.17zM548.5 1293.2h6.17v11.03h-6.17zM578.1 1293.2h6.17v11.03h-6.17zM590.0 1293.2h6.17v11.03h-6.17zM601.8 1293.2h6.17v11.03h-6.17zM690.6 1293.2h6.17v11.03h-6.17zM264.3 1304.0h6.17v11.03h-6.17zM270.2 1304.0h6.17v11.03h-6.17zM293.9 1304.0h6.17v11.03h-6.17zM305.7 1304.0h6.17v11.03h-6.17zM329.4 1304.0h6.17v11.03h-6.17zM347.2 1304.0h6.17v11.03h-6.17zM382.7 1304.0h6.17v11.03h-6.17zM495.2 1304.0h6.17v11.03h-6.17zM542.6 1304.0h6.17v11.03h-6.17zM672.9 1304.0h6.17v11.03h-6.17zM755.8 1304.0h6.17v11.03h-6.17zM288.0 1314.7h6.17v11.03h-6.17zM329.4 1314.7h6.17v11.03h-6.17zM507.1 1314.7h6.17v11.03h-6.17zM548.5 1314.7h6.17v11.03h-6.17zM566.3 1314.7h6.17v11.03h-6.17zM672.9 1314.7h6.17v11.03h-6.17zM293.9 1325.5h6.17v11.03h-6.17zM305.7 1325.5h6.17v11.03h-6.17zM341.3 1325.5h6.17v11.03h-6.17zM418.2 1325.5h6.17v11.03h-6.17zM453.8 1325.5h6.17v11.03h-6.17zM471.5 1325.5h6.17v11.03h-6.17zM513.0 1325.5h6.17v11.03h-6.17zM732.1 1325.5h6.17v11.03h-6.17zM311.7 1336.3h6.17v11.03h-6.17zM323.5 1336.3h6.17v11.03h-6.17zM341.3 1336.3h6.17v11.03h-6.17zM400.5 1336.3h6.17v11.03h-6.17zM436.0 1336.3h6.17v11.03h-6.17zM447.9 1336.3h6.17v11.03h-6.17zM459.7 1336.3h6.17v11.03h-6.17zM483.4 1336.3h6.17v11.03h-6.17zM572.2 1336.3h6.17v11.03h-6.17zM649.2 1336.3h6.17v11.03h-6.17zM702.5 1336.3h6.17v11.03h-6.17zM726.2 1336.3h6.17v11.03h-6.17zM347.2 1347.1h6.17v11.03h-6.17zM370.9 1347.1h6.17v11.03h-6.17zM406.4 1347.1h6.17v11.03h-6.17zM441.9 1347.1h6.17v11.03h-6.17zM471.5 1347.1h6.17v11.03h-6.17zM548.5 1347.1h6.17v11.03h-6.17zM631.4 1347.1h6.17v11.03h-6.17zM228.8 1357.9h6.17v11.03h-6.17zM270.2 1357.9h6.17v11.03h-6.17zM299.8 1357.9h6.17v11.03h-6.17zM305.7 1357.9h6.17v11.03h-6.17zM359.0 1357.9h6.17v11.03h-6.17zM370.9 1357.9h6.17v11.03h-6.17zM471.5 1357.9h6.17v11.03h-6.17zM542.6 1357.9h6.17v11.03h-6.17zM560.4 1357.9h6.17v11.03h-6.17zM584.0 1357.9h6.17v11.03h-6.17zM601.8 1357.9h6.17v11.03h-6.17zM607.7 1357.9h6.17v11.03h-6.17zM625.5 1357.9h6.17v11.03h-6.17zM684.7 1357.9h6.17v11.03h-6.17zM690.6 1357.9h6.17v11.03h-6.17zM702.5 1357.9h6.17v11.03h-6.17zM240.6 1368.7h6.17v11.03h-6.17zM293.9 1368.7h6.17v11.03h-6.17zM305.7 1368.7h6.17v11.03h-6.17zM347.2 1368.7h6.17v11.03h-6.17zM483.4 1368.7h6.17v11.03h-6.17zM501.1 1368.7h6.17v11.03h-6.17zM293.9 1379.4h6.17v11.03h-6.17zM317.6 1379.4h6.17v11.03h-6.17zM341.3 1379.4h6.17v11.03h-6.17zM447.9 1379.4h6.17v11.03h-6.17zM548.5 1379.4h6.17v11.03h-6.17zM554.4 1379.4h6.17v11.03h-6.17zM631.4 1379.4h6.17v11.03h-6.17zM678.8 1379.4h6.17v11.03h-6.17zM684.7 1379.4h6.17v11.03h-6.17zM738.0 1379.4h6.17v11.03h-6.17zM749.8 1379.4h6.17v11.03h-6.17zM755.8 1379.4h6.17v11.03h-6.17zM211.0 1390.2h6.17v11.03h-6.17zM335.3 1390.2h6.17v11.03h-6.17zM400.5 1390.2h6.17v11.03h-6.17zM430.1 1390.2h6.17v11.03h-6.17zM441.9 1390.2h6.17v11.03h-6.17zM536.7 1390.2h6.17v11.03h-6.17zM595.9 1390.2h6.17v11.03h-6.17zM601.8 1390.2h6.17v11.03h-6.17zM382.7 1401.0h6.17v11.03h-6.17zM489.3 1401.0h6.17v11.03h-6.17zM566.3 1401.0h6.17v11.03h-6.17zM572.2 1411.8h6.17v11.03h-6.17zM708.4 1411.8h6.17v11.03h-6.17zM317.6 1422.6h6.17v11.03h-6.17zM376.8 1422.6h6.17v11.03h-6.17zM400.5 1422.6h6.17v11.03h-6.17zM554.4 1422.6h6.17v11.03h-6.17zM566.3 1422.6h6.17v11.03h-6.17zM572.2 1422.6h6.17v11.03h-6.17zM584.0 1422.6h6.17v11.03h-6.17zM601.8 1422.6h6.17v11.03h-6.17zM613.6 1422.6h6.17v11.03h-6.17zM678.8 1422.6h6.17v11.03h-6.17zM288.0 1433.3h6.17v11.03h-6.17zM341.3 1433.3h6.17v11.03h-6.17zM400.5 1433.3h6.17v11.03h-6.17zM418.2 1433.3h6.17v11.03h-6.17zM477.5 1433.3h6.17v11.03h-6.17zM536.7 1433.3h6.17v11.03h-6.17zM554.4 1433.3h6.17v11.03h-6.17zM584.0 1433.3h6.17v11.03h-6.17zM590.0 1433.3h6.17v11.03h-6.17zM595.9 1433.3h6.17v11.03h-6.17zM631.4 1433.3h6.17v11.03h-6.17zM666.9 1433.3h6.17v11.03h-6.17zM720.2 1433.3h6.17v11.03h-6.17zM216.9 1444.1h6.17v11.03h-6.17zM282.1 1444.1h6.17v11.03h-6.17zM341.3 1444.1h6.17v11.03h-6.17zM388.6 1444.1h6.17v11.03h-6.17zM418.2 1444.1h6.17v11.03h-6.17zM554.4 1444.1h6.17v11.03h-6.17zM566.3 1444.1h6.17v11.03h-6.17zM584.0 1444.1h6.17v11.03h-6.17zM601.8 1444.1h6.17v11.03h-6.17zM613.6 1444.1h6.17v11.03h-6.17zM702.5 1444.1h6.17v11.03h-6.17zM560.4 1454.9h6.17v11.03h-6.17zM661.0 1454.9h6.17v11.03h-6.17zM749.8 1454.9h6.17v11.03h-6.17zM211.0 1465.7h6.17v11.03h-6.17zM258.4 1465.7h6.17v11.03h-6.17zM323.5 1465.7h6.17v11.03h-6.17zM400.5 1465.7h6.17v11.03h-6.17zM595.9 1465.7h6.17v11.03h-6.17zM643.3 1465.7h6.17v11.03h-6.17zM708.4 1465.7h6.17v11.03h-6.17zM761.7 1465.7h6.17v11.03h-6.17zM240.6 1476.5h6.17v11.03h-6.17zM584.0 1476.5h6.17v11.03h-6.17zM601.8 1476.5h6.17v11.03h-6.17zM649.2 1476.5h6.17v11.03h-6.17zM666.9 1476.5h6.17v11.03h-6.17zM708.4 1476.5h6.17v11.03h-6.17zM216.9 1487.3h6.17v11.03h-6.17zM234.7 1487.3h6.17v11.03h-6.17zM252.4 1487.3h6.17v11.03h-6.17zM270.2 1487.3h6.17v11.03h-6.17zM293.9 1487.3h6.17v11.03h-6.17zM353.1 1487.3h6.17v11.03h-6.17zM359.0 1487.3h6.17v11.03h-6.17zM459.7 1487.3h6.17v11.03h-6.17zM524.8 1487.3h6.17v11.03h-6.17zM548.5 1487.3h6.17v11.03h-6.17zM595.9 1487.3h6.17v11.03h-6.17zM690.6 1487.3h6.17v11.03h-6.17zM714.3 1487.3h6.17v11.03h-6.17zM293.9 1498.0h6.17v11.03h-6.17zM329.4 1498.0h6.17v11.03h-6.17zM400.5 1498.0h6.17v11.03h-6.17zM542.6 1498.0h6.17v11.03h-6.17zM672.9 1498.0h6.17v11.03h-6.17zM678.8 1498.0h6.17v11.03h-6.17zM696.5 1498.0h6.17v11.03h-6.17zM761.7 1498.0h6.17v11.03h-6.17zM347.2 1508.8h6.17v11.03h-6.17zM495.2 1508.8h6.17v11.03h-6.17zM507.1 1508.8h6.17v11.03h-6.17zM584.0 1508.8h6.17v11.03h-6.17zM530.7 1519.6h6.17v11.03h-6.17zM548.5 1519.6h6.17v11.03h-6.17zM749.8 1519.6h6.17v11.03h-6.17zM299.8 1530.4h6.17v11.03h-6.17zM317.6 1530.4h6.17v11.03h-6.17zM424.2 1530.4h6.17v11.03h-6.17zM530.7 1530.4h6.17v11.03h-6.17zM554.4 1530.4h6.17v11.03h-6.17zM655.1 1530.4h6.17v11.03h-6.17zM690.6 1530.4h6.17v11.03h-6.17zM708.4 1530.4h6.17v11.03h-6.17zM732.1 1530.4h6.17v11.03h-6.17zM743.9 1530.4h6.17v11.03h-6.17zM264.3 1541.2h6.17v11.03h-6.17zM282.1 1541.2h6.17v11.03h-6.17zM311.7 1541.2h6.17v11.03h-6.17zM323.5 1541.2h6.17v11.03h-6.17zM365.0 1541.2h6.17v11.03h-6.17zM382.7 1541.2h6.17v11.03h-6.17zM400.5 1541.2h6.17v11.03h-6.17zM465.6 1541.2h6.17v11.03h-6.17zM536.7 1541.2h6.17v11.03h-6.17zM542.6 1541.2h6.17v11.03h-6.17zM566.3 1541.2h6.17v11.03h-6.17zM601.8 1541.2h6.17v11.03h-6.17zM637.3 1541.2h6.17v11.03h-6.17zM649.2 1541.2h6.17v11.03h-6.17zM666.9 1541.2h6.17v11.03h-6.17zM714.3 1541.2h6.17v11.03h-6.17zM738.0 1541.2h6.17v11.03h-6.17zM394.6 1552.0h6.17v11.03h-6.17zM418.2 1552.0h6.17v11.03h-6.17zM436.0 1552.0h6.17v11.03h-6.17zM441.9 1552.0h6.17v11.03h-6.17zM483.4 1552.0h6.17v11.03h-6.17zM530.7 1552.0h6.17v11.03h-6.17zM590.0 1552.0h6.17v11.03h-6.17zM672.9 1552.0h6.17v11.03h-6.17zM678.8 1552.0h6.17v11.03h-6.17zM726.2 1552.0h6.17v11.03h-6.17zM216.9 1562.8h6.17v11.03h-6.17zM252.4 1562.8h6.17v11.03h-6.17zM282.1 1562.8h6.17v11.03h-6.17zM365.0 1562.8h6.17v11.03h-6.17zM388.6 1562.8h6.17v11.03h-6.17zM412.3 1562.8h6.17v11.03h-6.17zM424.2 1562.8h6.17v11.03h-6.17zM643.3 1562.8h6.17v11.03h-6.17zM702.5 1562.8h6.17v11.03h-6.17zM489.3 1573.5h6.17v11.03h-6.17zM530.7 1573.5h6.17v11.03h-6.17zM554.4 1573.5h6.17v11.03h-6.17zM335.3 1584.3h6.17v11.03h-6.17zM347.2 1584.3h6.17v11.03h-6.17zM459.7 1584.3h6.17v11.03h-6.17zM637.3 1584.3h6.17v11.03h-6.17zM649.2 1584.3h6.17v11.03h-6.17zM708.4 1584.3h6.17v11.03h-6.17z"/><path fill="#dadcef" d="M299.8 1206.9h6.17v11.03h-6.17zM305.7 1206.9h6.17v11.03h-6.17zM329.4 1206.9h6.17v11.03h-6.17zM465.6 1206.9h6.17v11.03h-6.17zM566.3 1206.9h6.17v11.03h-6.17zM607.7 1206.9h6.17v11.03h-6.17zM613.6 1206.9h6.17v11.03h-6.17zM690.6 1206.9h6.17v11.03h-6.17zM714.3 1206.9h6.17v11.03h-6.17zM738.0 1206.9h6.17v11.03h-6.17zM264.3 1217.7h6.17v11.03h-6.17zM299.8 1217.7h6.17v11.03h-6.17zM317.6 1217.7h6.17v11.03h-6.17zM400.5 1217.7h6.17v11.03h-6.17zM436.0 1217.7h6.17v11.03h-6.17zM465.6 1217.7h6.17v11.03h-6.17zM518.9 1217.7h6.17v11.03h-6.17zM542.6 1217.7h6.17v11.03h-6.17zM566.3 1217.7h6.17v11.03h-6.17zM595.9 1217.7h6.17v11.03h-6.17zM708.4 1217.7h6.17v11.03h-6.17zM749.8 1217.7h6.17v11.03h-6.17zM755.8 1217.7h6.17v11.03h-6.17zM252.4 1228.5h6.17v11.03h-6.17zM293.9 1228.5h6.17v11.03h-6.17zM311.7 1228.5h6.17v11.03h-6.17zM341.3 1228.5h6.17v11.03h-6.17zM447.9 1228.5h6.17v11.03h-6.17zM578.1 1228.5h6.17v11.03h-6.17zM631.4 1228.5h6.17v11.03h-6.17zM661.0 1228.5h6.17v11.03h-6.17zM666.9 1228.5h6.17v11.03h-6.17zM678.8 1228.5h6.17v11.03h-6.17zM696.5 1228.5h6.17v11.03h-6.17zM720.2 1228.5h6.17v11.03h-6.17zM246.5 1239.2h6.17v11.03h-6.17zM412.3 1239.2h6.17v11.03h-6.17zM471.5 1239.2h6.17v11.03h-6.17zM483.4 1239.2h6.17v11.03h-6.17zM501.1 1239.2h6.17v11.03h-6.17zM684.7 1239.2h6.17v11.03h-6.17zM341.3 1250.0h6.17v11.03h-6.17zM607.7 1250.0h6.17v11.03h-6.17zM252.4 1260.8h6.17v11.03h-6.17zM293.9 1260.8h6.17v11.03h-6.17zM353.1 1260.8h6.17v11.03h-6.17zM495.2 1260.8h6.17v11.03h-6.17zM619.6 1260.8h6.17v11.03h-6.17zM666.9 1260.8h6.17v11.03h-6.17zM708.4 1260.8h6.17v11.03h-6.17zM465.6 1271.6h6.17v11.03h-6.17zM501.1 1271.6h6.17v11.03h-6.17zM613.6 1271.6h6.17v11.03h-6.17zM649.2 1271.6h6.17v11.03h-6.17zM690.6 1271.6h6.17v11.03h-6.17zM714.3 1271.6h6.17v11.03h-6.17zM726.2 1271.6h6.17v11.03h-6.17zM305.7 1282.4h6.17v11.03h-6.17zM412.3 1282.4h6.17v11.03h-6.17zM430.1 1282.4h6.17v11.03h-6.17zM507.1 1282.4h6.17v11.03h-6.17zM661.0 1282.4h6.17v11.03h-6.17zM678.8 1282.4h6.17v11.03h-6.17zM471.5 1293.2h6.17v11.03h-6.17zM536.7 1293.2h6.17v11.03h-6.17zM637.3 1293.2h6.17v11.03h-6.17zM649.2 1293.2h6.17v11.03h-6.17zM453.8 1304.0h6.17v11.03h-6.17zM572.2 1304.0h6.17v11.03h-6.17zM578.1 1304.0h6.17v11.03h-6.17zM684.7 1304.0h6.17v11.03h-6.17zM317.6 1314.7h6.17v11.03h-6.17zM459.7 1314.7h6.17v11.03h-6.17zM495.2 1314.7h6.17v11.03h-6.17zM501.1 1314.7h6.17v11.03h-6.17zM578.1 1314.7h6.17v11.03h-6.17zM613.6 1314.7h6.17v11.03h-6.17zM720.2 1314.7h6.17v11.03h-6.17zM726.2 1314.7h6.17v11.03h-6.17zM412.3 1325.5h6.17v11.03h-6.17zM441.9 1325.5h6.17v11.03h-6.17zM459.7 1325.5h6.17v11.03h-6.17zM495.2 1325.5h6.17v11.03h-6.17zM524.8 1325.5h6.17v11.03h-6.17zM548.5 1325.5h6.17v11.03h-6.17zM637.3 1325.5h6.17v11.03h-6.17zM708.4 1325.5h6.17v11.03h-6.17zM749.8 1325.5h6.17v11.03h-6.17zM489.3 1336.3h6.17v11.03h-6.17zM542.6 1336.3h6.17v11.03h-6.17zM578.1 1336.3h6.17v11.03h-6.17zM584.0 1336.3h6.17v11.03h-6.17zM655.1 1336.3h6.17v11.03h-6.17zM418.2 1347.1h6.17v11.03h-6.17zM495.2 1347.1h6.17v11.03h-6.17zM554.4 1347.1h6.17v11.03h-6.17zM696.5 1347.1h6.17v11.03h-6.17zM743.9 1347.1h6.17v11.03h-6.17zM743.9 1357.9h6.17v11.03h-6.17zM441.9 1368.7h6.17v11.03h-6.17zM548.5 1368.7h6.17v11.03h-6.17zM578.1 1368.7h6.17v11.03h-6.17zM625.5 1368.7h6.17v11.03h-6.17zM661.0 1368.7h6.17v11.03h-6.17zM595.9 1379.4h6.17v11.03h-6.17zM601.8 1379.4h6.17v11.03h-6.17zM743.9 1379.4h6.17v11.03h-6.17zM761.7 1379.4h6.17v11.03h-6.17zM216.9 1390.2h6.17v11.03h-6.17zM252.4 1390.2h6.17v11.03h-6.17zM276.1 1390.2h6.17v11.03h-6.17zM293.9 1390.2h6.17v11.03h-6.17zM329.4 1390.2h6.17v11.03h-6.17zM370.9 1390.2h6.17v11.03h-6.17zM376.8 1390.2h6.17v11.03h-6.17zM584.0 1390.2h6.17v11.03h-6.17zM637.3 1390.2h6.17v11.03h-6.17zM655.1 1390.2h6.17v11.03h-6.17zM240.6 1401.0h6.17v11.03h-6.17zM270.2 1401.0h6.17v11.03h-6.17zM299.8 1401.0h6.17v11.03h-6.17zM347.2 1401.0h6.17v11.03h-6.17zM359.0 1401.0h6.17v11.03h-6.17zM453.8 1401.0h6.17v11.03h-6.17zM471.5 1401.0h6.17v11.03h-6.17zM518.9 1401.0h6.17v11.03h-6.17zM524.8 1401.0h6.17v11.03h-6.17zM714.3 1401.0h6.17v11.03h-6.17zM382.7 1411.8h6.17v11.03h-6.17zM418.2 1411.8h6.17v11.03h-6.17zM471.5 1411.8h6.17v11.03h-6.17zM507.1 1411.8h6.17v11.03h-6.17zM530.7 1411.8h6.17v11.03h-6.17zM613.6 1411.8h6.17v11.03h-6.17zM631.4 1411.8h6.17v11.03h-6.17zM655.1 1411.8h6.17v11.03h-6.17zM661.0 1411.8h6.17v11.03h-6.17zM672.9 1411.8h6.17v11.03h-6.17zM270.2 1422.6h6.17v11.03h-6.17zM365.0 1422.6h6.17v11.03h-6.17zM370.9 1422.6h6.17v11.03h-6.17zM619.6 1422.6h6.17v11.03h-6.17zM625.5 1422.6h6.17v11.03h-6.17zM637.3 1422.6h6.17v11.03h-6.17zM702.5 1422.6h6.17v11.03h-6.17zM216.9 1433.3h6.17v11.03h-6.17zM246.5 1433.3h6.17v11.03h-6.17zM270.2 1433.3h6.17v11.03h-6.17zM430.1 1433.3h6.17v11.03h-6.17zM655.1 1433.3h6.17v11.03h-6.17zM708.4 1433.3h6.17v11.03h-6.17zM347.2 1444.1h6.17v11.03h-6.17zM353.1 1444.1h6.17v11.03h-6.17zM365.0 1444.1h6.17v11.03h-6.17zM376.8 1444.1h6.17v11.03h-6.17zM400.5 1444.1h6.17v11.03h-6.17zM406.4 1444.1h6.17v11.03h-6.17zM708.4 1444.1h6.17v11.03h-6.17zM732.1 1444.1h6.17v11.03h-6.17zM755.8 1444.1h6.17v11.03h-6.17zM246.5 1454.9h6.17v11.03h-6.17zM288.0 1454.9h6.17v11.03h-6.17zM370.9 1454.9h6.17v11.03h-6.17zM483.4 1454.9h6.17v11.03h-6.17zM501.1 1454.9h6.17v11.03h-6.17zM507.1 1454.9h6.17v11.03h-6.17zM542.6 1454.9h6.17v11.03h-6.17zM666.9 1454.9h6.17v11.03h-6.17zM714.3 1454.9h6.17v11.03h-6.17zM726.2 1454.9h6.17v11.03h-6.17zM376.8 1465.7h6.17v11.03h-6.17zM459.7 1465.7h6.17v11.03h-6.17zM471.5 1465.7h6.17v11.03h-6.17zM501.1 1465.7h6.17v11.03h-6.17zM513.0 1465.7h6.17v11.03h-6.17zM607.7 1465.7h6.17v11.03h-6.17zM613.6 1465.7h6.17v11.03h-6.17zM288.0 1476.5h6.17v11.03h-6.17zM299.8 1476.5h6.17v11.03h-6.17zM329.4 1476.5h6.17v11.03h-6.17zM341.3 1476.5h6.17v11.03h-6.17zM347.2 1476.5h6.17v11.03h-6.17zM359.0 1476.5h6.17v11.03h-6.17zM370.9 1476.5h6.17v11.03h-6.17zM376.8 1476.5h6.17v11.03h-6.17zM489.3 1476.5h6.17v11.03h-6.17zM524.8 1476.5h6.17v11.03h-6.17zM572.2 1476.5h6.17v11.03h-6.17zM690.6 1476.5h6.17v11.03h-6.17zM726.2 1476.5h6.17v11.03h-6.17zM228.8 1487.3h6.17v11.03h-6.17zM276.1 1487.3h6.17v11.03h-6.17zM323.5 1487.3h6.17v11.03h-6.17zM211.0 1498.0h6.17v11.03h-6.17zM234.7 1498.0h6.17v11.03h-6.17zM270.2 1498.0h6.17v11.03h-6.17zM359.0 1498.0h6.17v11.03h-6.17zM370.9 1498.0h6.17v11.03h-6.17zM536.7 1498.0h6.17v11.03h-6.17zM554.4 1498.0h6.17v11.03h-6.17zM690.6 1498.0h6.17v11.03h-6.17zM726.2 1498.0h6.17v11.03h-6.17zM738.0 1498.0h6.17v11.03h-6.17zM749.8 1498.0h6.17v11.03h-6.17zM293.9 1508.8h6.17v11.03h-6.17zM382.7 1508.8h6.17v11.03h-6.17zM436.0 1508.8h6.17v11.03h-6.17zM477.5 1508.8h6.17v11.03h-6.17zM566.3 1508.8h6.17v11.03h-6.17zM590.0 1508.8h6.17v11.03h-6.17zM625.5 1508.8h6.17v11.03h-6.17zM631.4 1508.8h6.17v11.03h-6.17zM696.5 1508.8h6.17v11.03h-6.17zM293.9 1519.6h6.17v11.03h-6.17zM388.6 1519.6h6.17v11.03h-6.17zM447.9 1519.6h6.17v11.03h-6.17zM566.3 1519.6h6.17v11.03h-6.17zM613.6 1519.6h6.17v11.03h-6.17zM619.6 1519.6h6.17v11.03h-6.17zM643.3 1519.6h6.17v11.03h-6.17zM649.2 1519.6h6.17v11.03h-6.17zM684.7 1519.6h6.17v11.03h-6.17zM228.8 1530.4h6.17v11.03h-6.17zM234.7 1530.4h6.17v11.03h-6.17zM240.6 1530.4h6.17v11.03h-6.17zM270.2 1530.4h6.17v11.03h-6.17zM388.6 1530.4h6.17v11.03h-6.17zM400.5 1530.4h6.17v11.03h-6.17zM459.7 1530.4h6.17v11.03h-6.17zM465.6 1530.4h6.17v11.03h-6.17zM507.1 1530.4h6.17v11.03h-6.17zM524.8 1530.4h6.17v11.03h-6.17zM649.2 1530.4h6.17v11.03h-6.17zM270.2 1541.2h6.17v11.03h-6.17zM341.3 1541.2h6.17v11.03h-6.17zM406.4 1541.2h6.17v11.03h-6.17zM625.5 1541.2h6.17v11.03h-6.17zM684.7 1541.2h6.17v11.03h-6.17zM702.5 1541.2h6.17v11.03h-6.17zM282.1 1552.0h6.17v11.03h-6.17zM323.5 1552.0h6.17v11.03h-6.17zM382.7 1552.0h6.17v11.03h-6.17zM465.6 1552.0h6.17v11.03h-6.17zM542.6 1552.0h6.17v11.03h-6.17zM572.2 1552.0h6.17v11.03h-6.17zM666.9 1552.0h6.17v11.03h-6.17zM714.3 1552.0h6.17v11.03h-6.17zM738.0 1552.0h6.17v11.03h-6.17zM749.8 1552.0h6.17v11.03h-6.17zM755.8 1552.0h6.17v11.03h-6.17zM222.8 1562.8h6.17v11.03h-6.17zM276.1 1562.8h6.17v11.03h-6.17zM299.8 1562.8h6.17v11.03h-6.17zM329.4 1562.8h6.17v11.03h-6.17zM406.4 1562.8h6.17v11.03h-6.17zM441.9 1562.8h6.17v11.03h-6.17zM459.7 1562.8h6.17v11.03h-6.17zM572.2 1562.8h6.17v11.03h-6.17zM678.8 1562.8h6.17v11.03h-6.17zM720.2 1562.8h6.17v11.03h-6.17zM726.2 1562.8h6.17v11.03h-6.17zM430.1 1573.5h6.17v11.03h-6.17zM495.2 1573.5h6.17v11.03h-6.17zM536.7 1584.3h6.17v11.03h-6.17zM548.5 1584.3h6.17v11.03h-6.17zM643.3 1584.3h6.17v11.03h-6.17z"/><path fill="#dd281c" d="M317.6 1206.9h6.17v11.03h-6.17zM311.7 1239.2h6.17v11.03h-6.17zM424.2 1271.6h6.17v11.03h-6.17zM240.6 1293.2h6.17v11.03h-6.17zM246.5 1304.0h6.17v11.03h-6.17zM228.8 1325.5h6.17v11.03h-6.17zM264.3 1347.1h6.17v11.03h-6.17zM222.8 1379.4h6.17v11.03h-6.17zM264.3 1379.4h6.17v11.03h-6.17zM507.1 1487.3h6.17v11.03h-6.17zM696.5 1487.3h6.17v11.03h-6.17zM755.8 1584.3h6.17v11.03h-6.17z"/><path fill="#f5f6fb" d="M323.5 1206.9h6.17v11.03h-6.17zM382.7 1206.9h6.17v11.03h-6.17zM447.9 1206.9h6.17v11.03h-6.17zM513.0 1206.9h6.17v11.03h-6.17zM572.2 1206.9h6.17v11.03h-6.17zM595.9 1206.9h6.17v11.03h-6.17zM619.6 1206.9h6.17v11.03h-6.17zM684.7 1206.9h6.17v11.03h-6.17zM702.5 1206.9h6.17v11.03h-6.17zM211.0 1217.7h6.17v11.03h-6.17zM276.1 1217.7h6.17v11.03h-6.17zM282.1 1217.7h6.17v11.03h-6.17zM459.7 1217.7h6.17v11.03h-6.17zM619.6 1217.7h6.17v11.03h-6.17zM672.9 1217.7h6.17v11.03h-6.17zM732.1 1217.7h6.17v11.03h-6.17zM388.6 1228.5h6.17v11.03h-6.17zM507.1 1228.5h6.17v11.03h-6.17zM536.7 1228.5h6.17v11.03h-6.17zM743.9 1228.5h6.17v11.03h-6.17zM211.0 1239.2h6.17v11.03h-6.17zM216.9 1239.2h6.17v11.03h-6.17zM465.6 1239.2h6.17v11.03h-6.17zM530.7 1239.2h6.17v11.03h-6.17zM572.2 1239.2h6.17v11.03h-6.17zM625.5 1239.2h6.17v11.03h-6.17zM637.3 1239.2h6.17v11.03h-6.17zM643.3 1239.2h6.17v11.03h-6.17zM702.5 1250.0h6.17v11.03h-6.17zM246.5 1260.8h6.17v11.03h-6.17zM282.1 1260.8h6.17v11.03h-6.17zM305.7 1260.8h6.17v11.03h-6.17zM311.7 1260.8h6.17v11.03h-6.17zM412.3 1260.8h6.17v11.03h-6.17zM424.2 1260.8h6.17v11.03h-6.17zM507.1 1260.8h6.17v11.03h-6.17zM578.1 1260.8h6.17v11.03h-6.17zM690.6 1260.8h6.17v11.03h-6.17zM720.2 1260.8h6.17v11.03h-6.17zM329.4 1271.6h6.17v11.03h-6.17zM335.3 1271.6h6.17v11.03h-6.17zM477.5 1271.6h6.17v11.03h-6.17zM554.4 1271.6h6.17v11.03h-6.17zM560.4 1271.6h6.17v11.03h-6.17zM601.8 1271.6h6.17v11.03h-6.17zM637.3 1271.6h6.17v11.03h-6.17zM643.3 1271.6h6.17v11.03h-6.17zM738.0 1271.6h6.17v11.03h-6.17zM406.4 1282.4h6.17v11.03h-6.17zM495.2 1282.4h6.17v11.03h-6.17zM643.3 1282.4h6.17v11.03h-6.17zM702.5 1282.4h6.17v11.03h-6.17zM672.9 1293.2h6.17v11.03h-6.17zM678.8 1293.2h6.17v11.03h-6.17zM720.2 1293.2h6.17v11.03h-6.17zM370.9 1304.0h6.17v11.03h-6.17zM418.2 1304.0h6.17v11.03h-6.17zM424.2 1304.0h6.17v11.03h-6.17zM441.9 1304.0h6.17v11.03h-6.17zM601.8 1304.0h6.17v11.03h-6.17zM655.1 1304.0h6.17v11.03h-6.17zM702.5 1304.0h6.17v11.03h-6.17zM720.2 1304.0h6.17v11.03h-6.17zM353.1 1314.7h6.17v11.03h-6.17zM430.1 1314.7h6.17v11.03h-6.17zM447.9 1314.7h6.17v11.03h-6.17zM625.5 1314.7h6.17v11.03h-6.17zM661.0 1314.7h6.17v11.03h-6.17zM714.3 1314.7h6.17v11.03h-6.17zM288.0 1325.5h6.17v11.03h-6.17zM376.8 1325.5h6.17v11.03h-6.17zM382.7 1325.5h6.17v11.03h-6.17zM483.4 1325.5h6.17v11.03h-6.17zM625.5 1325.5h6.17v11.03h-6.17zM643.3 1325.5h6.17v11.03h-6.17zM649.2 1325.5h6.17v11.03h-6.17zM655.1 1325.5h6.17v11.03h-6.17zM661.0 1325.5h6.17v11.03h-6.17zM696.5 1325.5h6.17v11.03h-6.17zM702.5 1325.5h6.17v11.03h-6.17zM726.2 1325.5h6.17v11.03h-6.17zM761.7 1325.5h6.17v11.03h-6.17zM293.9 1336.3h6.17v11.03h-6.17zM430.1 1336.3h6.17v11.03h-6.17zM477.5 1336.3h6.17v11.03h-6.17zM518.9 1336.3h6.17v11.03h-6.17zM607.7 1336.3h6.17v11.03h-6.17zM631.4 1336.3h6.17v11.03h-6.17zM690.6 1336.3h6.17v11.03h-6.17zM749.8 1336.3h6.17v11.03h-6.17zM305.7 1347.1h6.17v11.03h-6.17zM447.9 1347.1h6.17v11.03h-6.17zM590.0 1347.1h6.17v11.03h-6.17zM690.6 1347.1h6.17v11.03h-6.17zM311.7 1357.9h6.17v11.03h-6.17zM376.8 1357.9h6.17v11.03h-6.17zM418.2 1357.9h6.17v11.03h-6.17zM430.1 1357.9h6.17v11.03h-6.17zM708.4 1357.9h6.17v11.03h-6.17zM749.8 1357.9h6.17v11.03h-6.17zM329.4 1368.7h6.17v11.03h-6.17zM465.6 1368.7h6.17v11.03h-6.17zM507.1 1368.7h6.17v11.03h-6.17zM566.3 1368.7h6.17v11.03h-6.17zM595.9 1368.7h6.17v11.03h-6.17zM649.2 1368.7h6.17v11.03h-6.17zM666.9 1368.7h6.17v11.03h-6.17zM720.2 1368.7h6.17v11.03h-6.17zM732.1 1368.7h6.17v11.03h-6.17zM441.9 1379.4h6.17v11.03h-6.17zM542.6 1379.4h6.17v11.03h-6.17zM578.1 1379.4h6.17v11.03h-6.17zM702.5 1379.4h6.17v11.03h-6.17zM222.8 1390.2h6.17v11.03h-6.17zM359.0 1390.2h6.17v11.03h-6.17zM501.1 1390.2h6.17v11.03h-6.17zM578.1 1390.2h6.17v11.03h-6.17zM619.6 1390.2h6.17v11.03h-6.17zM625.5 1390.2h6.17v11.03h-6.17zM690.6 1390.2h6.17v11.03h-6.17zM696.5 1390.2h6.17v11.03h-6.17zM211.0 1401.0h6.17v11.03h-6.17zM341.3 1401.0h6.17v11.03h-6.17zM370.9 1401.0h6.17v11.03h-6.17zM406.4 1401.0h6.17v11.03h-6.17zM459.7 1401.0h6.17v11.03h-6.17zM501.1 1401.0h6.17v11.03h-6.17zM595.9 1401.0h6.17v11.03h-6.17zM607.7 1401.0h6.17v11.03h-6.17zM619.6 1401.0h6.17v11.03h-6.17zM678.8 1401.0h6.17v11.03h-6.17zM696.5 1401.0h6.17v11.03h-6.17zM228.8 1411.8h6.17v11.03h-6.17zM299.8 1411.8h6.17v11.03h-6.17zM323.5 1411.8h6.17v11.03h-6.17zM406.4 1411.8h6.17v11.03h-6.17zM495.2 1411.8h6.17v11.03h-6.17zM501.1 1411.8h6.17v11.03h-6.17zM518.9 1411.8h6.17v11.03h-6.17zM542.6 1411.8h6.17v11.03h-6.17zM578.1 1411.8h6.17v11.03h-6.17zM584.0 1411.8h6.17v11.03h-6.17zM590.0 1411.8h6.17v11.03h-6.17zM690.6 1411.8h6.17v11.03h-6.17zM714.3 1411.8h6.17v11.03h-6.17zM720.2 1411.8h6.17v11.03h-6.17zM743.9 1411.8h6.17v11.03h-6.17zM299.8 1422.6h6.17v11.03h-6.17zM536.7 1422.6h6.17v11.03h-6.17zM590.0 1422.6h6.17v11.03h-6.17zM672.9 1422.6h6.17v11.03h-6.17zM299.8 1433.3h6.17v11.03h-6.17zM359.0 1433.3h6.17v11.03h-6.17zM406.4 1433.3h6.17v11.03h-6.17zM518.9 1433.3h6.17v11.03h-6.17zM607.7 1433.3h6.17v11.03h-6.17zM684.7 1433.3h6.17v11.03h-6.17zM743.9 1433.3h6.17v11.03h-6.17zM323.5 1444.1h6.17v11.03h-6.17zM412.3 1444.1h6.17v11.03h-6.17zM483.4 1444.1h6.17v11.03h-6.17zM489.3 1444.1h6.17v11.03h-6.17zM495.2 1444.1h6.17v11.03h-6.17zM649.2 1444.1h6.17v11.03h-6.17zM690.6 1444.1h6.17v11.03h-6.17zM222.8 1454.9h6.17v11.03h-6.17zM388.6 1454.9h6.17v11.03h-6.17zM477.5 1454.9h6.17v11.03h-6.17zM495.2 1454.9h6.17v11.03h-6.17zM530.7 1454.9h6.17v11.03h-6.17zM536.7 1454.9h6.17v11.03h-6.17zM708.4 1454.9h6.17v11.03h-6.17zM282.1 1465.7h6.17v11.03h-6.17zM311.7 1465.7h6.17v11.03h-6.17zM353.1 1465.7h6.17v11.03h-6.17zM365.0 1465.7h6.17v11.03h-6.17zM412.3 1465.7h6.17v11.03h-6.17zM489.3 1465.7h6.17v11.03h-6.17zM625.5 1465.7h6.17v11.03h-6.17zM684.7 1465.7h6.17v11.03h-6.17zM749.8 1465.7h6.17v11.03h-6.17zM282.1 1476.5h6.17v11.03h-6.17zM412.3 1476.5h6.17v11.03h-6.17zM441.9 1476.5h6.17v11.03h-6.17zM495.2 1476.5h6.17v11.03h-6.17zM643.3 1476.5h6.17v11.03h-6.17zM246.5 1487.3h6.17v11.03h-6.17zM305.7 1487.3h6.17v11.03h-6.17zM335.3 1487.3h6.17v11.03h-6.17zM406.4 1487.3h6.17v11.03h-6.17zM489.3 1487.3h6.17v11.03h-6.17zM590.0 1487.3h6.17v11.03h-6.17zM424.2 1498.0h6.17v11.03h-6.17zM453.8 1498.0h6.17v11.03h-6.17zM548.5 1498.0h6.17v11.03h-6.17zM566.3 1498.0h6.17v11.03h-6.17zM619.6 1498.0h6.17v11.03h-6.17zM649.2 1498.0h6.17v11.03h-6.17zM299.8 1508.8h6.17v11.03h-6.17zM353.1 1508.8h6.17v11.03h-6.17zM365.0 1508.8h6.17v11.03h-6.17zM441.9 1508.8h6.17v11.03h-6.17zM459.7 1508.8h6.17v11.03h-6.17zM471.5 1508.8h6.17v11.03h-6.17zM501.1 1508.8h6.17v11.03h-6.17zM518.9 1508.8h6.17v11.03h-6.17zM530.7 1508.8h6.17v11.03h-6.17zM578.1 1508.8h6.17v11.03h-6.17zM613.6 1508.8h6.17v11.03h-6.17zM666.9 1508.8h6.17v11.03h-6.17zM708.4 1508.8h6.17v11.03h-6.17zM755.8 1508.8h6.17v11.03h-6.17zM453.8 1519.6h6.17v11.03h-6.17zM501.1 1519.6h6.17v11.03h-6.17zM601.8 1519.6h6.17v11.03h-6.17zM743.9 1519.6h6.17v11.03h-6.17zM353.1 1530.4h6.17v11.03h-6.17zM566.3 1530.4h6.17v11.03h-6.17zM584.0 1530.4h6.17v11.03h-6.17zM590.0 1530.4h6.17v11.03h-6.17zM607.7 1530.4h6.17v11.03h-6.17zM643.3 1530.4h6.17v11.03h-6.17zM672.9 1530.4h6.17v11.03h-6.17zM702.5 1530.4h6.17v11.03h-6.17zM714.3 1530.4h6.17v11.03h-6.17zM726.2 1530.4h6.17v11.03h-6.17zM738.0 1530.4h6.17v11.03h-6.17zM755.8 1530.4h6.17v11.03h-6.17zM211.0 1541.2h6.17v11.03h-6.17zM293.9 1541.2h6.17v11.03h-6.17zM359.0 1541.2h6.17v11.03h-6.17zM394.6 1541.2h6.17v11.03h-6.17zM495.2 1541.2h6.17v11.03h-6.17zM501.1 1541.2h6.17v11.03h-6.17zM507.1 1541.2h6.17v11.03h-6.17zM743.9 1541.2h6.17v11.03h-6.17zM749.8 1541.2h6.17v11.03h-6.17zM246.5 1552.0h6.17v11.03h-6.17zM258.4 1552.0h6.17v11.03h-6.17zM370.9 1552.0h6.17v11.03h-6.17zM388.6 1552.0h6.17v11.03h-6.17zM412.3 1552.0h6.17v11.03h-6.17zM424.2 1552.0h6.17v11.03h-6.17zM453.8 1552.0h6.17v11.03h-6.17zM459.7 1552.0h6.17v11.03h-6.17zM489.3 1552.0h6.17v11.03h-6.17zM507.1 1552.0h6.17v11.03h-6.17zM595.9 1552.0h6.17v11.03h-6.17zM625.5 1552.0h6.17v11.03h-6.17zM708.4 1552.0h6.17v11.03h-6.17zM743.9 1552.0h6.17v11.03h-6.17zM311.7 1562.8h6.17v11.03h-6.17zM317.6 1562.8h6.17v11.03h-6.17zM400.5 1562.8h6.17v11.03h-6.17zM418.2 1562.8h6.17v11.03h-6.17zM436.0 1562.8h6.17v11.03h-6.17zM447.9 1562.8h6.17v11.03h-6.17zM501.1 1562.8h6.17v11.03h-6.17zM507.1 1562.8h6.17v11.03h-6.17zM530.7 1562.8h6.17v11.03h-6.17zM554.4 1562.8h6.17v11.03h-6.17zM732.1 1562.8h6.17v11.03h-6.17zM293.9 1573.5h6.17v11.03h-6.17zM335.3 1573.5h6.17v11.03h-6.17zM359.0 1573.5h6.17v11.03h-6.17zM501.1 1573.5h6.17v11.03h-6.17zM524.8 1573.5h6.17v11.03h-6.17zM216.9 1584.3h6.17v11.03h-6.17zM311.7 1584.3h6.17v11.03h-6.17zM441.9 1584.3h6.17v11.03h-6.17zM453.8 1584.3h6.17v11.03h-6.17zM566.3 1584.3h6.17v11.03h-6.17zM738.0 1584.3h6.17v11.03h-6.17z"/><path fill="#f9d6d4" d="M341.3 1206.9h6.17v11.03h-6.17zM542.6 1206.9h6.17v11.03h-6.17zM655.1 1206.9h6.17v11.03h-6.17zM666.9 1206.9h6.17v11.03h-6.17zM743.9 1206.9h6.17v11.03h-6.17zM578.1 1217.7h6.17v11.03h-6.17zM590.0 1217.7h6.17v11.03h-6.17zM548.5 1228.5h6.17v11.03h-6.17zM732.1 1228.5h6.17v11.03h-6.17zM317.6 1239.2h6.17v11.03h-6.17zM323.5 1239.2h6.17v11.03h-6.17zM347.2 1239.2h6.17v11.03h-6.17zM424.2 1239.2h6.17v11.03h-6.17zM542.6 1239.2h6.17v11.03h-6.17zM578.1 1239.2h6.17v11.03h-6.17zM613.6 1239.2h6.17v11.03h-6.17zM619.6 1239.2h6.17v11.03h-6.17zM720.2 1239.2h6.17v11.03h-6.17zM738.0 1239.2h6.17v11.03h-6.17zM246.5 1250.0h6.17v11.03h-6.17zM252.4 1250.0h6.17v11.03h-6.17zM264.3 1250.0h6.17v11.03h-6.17zM329.4 1250.0h6.17v11.03h-6.17zM424.2 1250.0h6.17v11.03h-6.17zM495.2 1250.0h6.17v11.03h-6.17zM554.4 1250.0h6.17v11.03h-6.17zM613.6 1250.0h6.17v11.03h-6.17zM678.8 1250.0h6.17v11.03h-6.17zM726.2 1250.0h6.17v11.03h-6.17zM732.1 1250.0h6.17v11.03h-6.17zM755.8 1250.0h6.17v11.03h-6.17zM347.2 1260.8h6.17v11.03h-6.17zM501.1 1260.8h6.17v11.03h-6.17zM584.0 1260.8h6.17v11.03h-6.17zM661.0 1260.8h6.17v11.03h-6.17zM252.4 1271.6h6.17v11.03h-6.17zM288.0 1271.6h6.17v11.03h-6.17zM365.0 1271.6h6.17v11.03h-6.17zM430.1 1271.6h6.17v11.03h-6.17zM453.8 1271.6h6.17v11.03h-6.17zM607.7 1271.6h6.17v11.03h-6.17zM246.5 1282.4h6.17v11.03h-6.17zM293.9 1282.4h6.17v11.03h-6.17zM489.3 1282.4h6.17v11.03h-6.17zM714.3 1282.4h6.17v11.03h-6.17zM761.7 1282.4h6.17v11.03h-6.17zM211.0 1293.2h6.17v11.03h-6.17zM270.2 1293.2h6.17v11.03h-6.17zM370.9 1293.2h6.17v11.03h-6.17zM406.4 1293.2h6.17v11.03h-6.17zM436.0 1293.2h6.17v11.03h-6.17zM495.2 1293.2h6.17v11.03h-6.17zM501.1 1293.2h6.17v11.03h-6.17zM288.0 1304.0h6.17v11.03h-6.17zM335.3 1304.0h6.17v11.03h-6.17zM447.9 1304.0h6.17v11.03h-6.17zM465.6 1304.0h6.17v11.03h-6.17zM471.5 1304.0h6.17v11.03h-6.17zM513.0 1304.0h6.17v11.03h-6.17zM714.3 1304.0h6.17v11.03h-6.17zM738.0 1304.0h6.17v11.03h-6.17zM749.8 1304.0h6.17v11.03h-6.17zM761.7 1304.0h6.17v11.03h-6.17zM365.0 1314.7h6.17v11.03h-6.17zM412.3 1314.7h6.17v11.03h-6.17zM483.4 1314.7h6.17v11.03h-6.17zM702.5 1314.7h6.17v11.03h-6.17zM749.8 1314.7h6.17v11.03h-6.17zM216.9 1325.5h6.17v11.03h-6.17zM240.6 1325.5h6.17v11.03h-6.17zM246.5 1325.5h6.17v11.03h-6.17zM299.8 1325.5h6.17v11.03h-6.17zM311.7 1325.5h6.17v11.03h-6.17zM335.3 1325.5h6.17v11.03h-6.17zM370.9 1325.5h6.17v11.03h-6.17zM678.8 1325.5h6.17v11.03h-6.17zM282.1 1336.3h6.17v11.03h-6.17zM347.2 1336.3h6.17v11.03h-6.17zM388.6 1336.3h6.17v11.03h-6.17zM394.6 1336.3h6.17v11.03h-6.17zM708.4 1336.3h6.17v11.03h-6.17zM761.7 1336.3h6.17v11.03h-6.17zM228.8 1347.1h6.17v11.03h-6.17zM240.6 1347.1h6.17v11.03h-6.17zM270.2 1347.1h6.17v11.03h-6.17zM311.7 1347.1h6.17v11.03h-6.17zM359.0 1347.1h6.17v11.03h-6.17zM489.3 1347.1h6.17v11.03h-6.17zM738.0 1347.1h6.17v11.03h-6.17zM755.8 1347.1h6.17v11.03h-6.17zM246.5 1357.9h6.17v11.03h-6.17zM329.4 1357.9h6.17v11.03h-6.17zM436.0 1357.9h6.17v11.03h-6.17zM477.5 1357.9h6.17v11.03h-6.17zM507.1 1357.9h6.17v11.03h-6.17zM649.2 1357.9h6.17v11.03h-6.17zM720.2 1357.9h6.17v11.03h-6.17zM738.0 1357.9h6.17v11.03h-6.17zM761.7 1357.9h6.17v11.03h-6.17zM276.1 1368.7h6.17v11.03h-6.17zM282.1 1368.7h6.17v11.03h-6.17zM317.6 1368.7h6.17v11.03h-6.17zM376.8 1368.7h6.17v11.03h-6.17zM489.3 1368.7h6.17v11.03h-6.17zM536.7 1368.7h6.17v11.03h-6.17zM240.6 1379.4h6.17v11.03h-6.17zM288.0 1379.4h6.17v11.03h-6.17zM430.1 1379.4h6.17v11.03h-6.17zM471.5 1379.4h6.17v11.03h-6.17zM507.1 1379.4h6.17v11.03h-6.17zM524.8 1379.4h6.17v11.03h-6.17zM465.6 1390.2h6.17v11.03h-6.17zM566.3 1390.2h6.17v11.03h-6.17zM678.8 1390.2h6.17v11.03h-6.17zM708.4 1390.2h6.17v11.03h-6.17zM222.8 1401.0h6.17v11.03h-6.17zM329.4 1401.0h6.17v11.03h-6.17zM394.6 1401.0h6.17v11.03h-6.17zM578.1 1401.0h6.17v11.03h-6.17zM601.8 1401.0h6.17v11.03h-6.17zM655.1 1401.0h6.17v11.03h-6.17zM708.4 1401.0h6.17v11.03h-6.17zM329.4 1411.8h6.17v11.03h-6.17zM430.1 1411.8h6.17v11.03h-6.17zM513.0 1411.8h6.17v11.03h-6.17zM548.5 1422.6h6.17v11.03h-6.17zM661.0 1422.6h6.17v11.03h-6.17zM335.3 1433.3h6.17v11.03h-6.17zM453.8 1433.3h6.17v11.03h-6.17zM578.1 1433.3h6.17v11.03h-6.17zM613.6 1433.3h6.17v11.03h-6.17zM625.5 1433.3h6.17v11.03h-6.17zM672.9 1433.3h6.17v11.03h-6.17zM696.5 1433.3h6.17v11.03h-6.17zM293.9 1444.1h6.17v11.03h-6.17zM578.1 1444.1h6.17v11.03h-6.17zM672.9 1444.1h6.17v11.03h-6.17zM394.6 1454.9h6.17v11.03h-6.17zM584.0 1454.9h6.17v11.03h-6.17zM359.0 1465.7h6.17v11.03h-6.17zM270.2 1476.5h6.17v11.03h-6.17zM513.0 1476.5h6.17v11.03h-6.17zM518.9 1476.5h6.17v11.03h-6.17zM536.7 1476.5h6.17v11.03h-6.17zM560.4 1476.5h6.17v11.03h-6.17zM619.6 1476.5h6.17v11.03h-6.17zM631.4 1476.5h6.17v11.03h-6.17zM684.7 1476.5h6.17v11.03h-6.17zM720.2 1476.5h6.17v11.03h-6.17zM282.1 1487.3h6.17v11.03h-6.17zM288.0 1487.3h6.17v11.03h-6.17zM341.3 1487.3h6.17v11.03h-6.17zM483.4 1487.3h6.17v11.03h-6.17zM495.2 1487.3h6.17v11.03h-6.17zM513.0 1487.3h6.17v11.03h-6.17zM536.7 1487.3h6.17v11.03h-6.17zM672.9 1487.3h6.17v11.03h-6.17zM720.2 1487.3h6.17v11.03h-6.17zM406.4 1508.8h6.17v11.03h-6.17zM536.7 1508.8h6.17v11.03h-6.17zM649.2 1508.8h6.17v11.03h-6.17zM678.8 1508.8h6.17v11.03h-6.17zM495.2 1519.6h6.17v11.03h-6.17zM590.0 1519.6h6.17v11.03h-6.17zM572.2 1530.4h6.17v11.03h-6.17zM666.9 1530.4h6.17v11.03h-6.17zM436.0 1541.2h6.17v11.03h-6.17zM441.9 1541.2h6.17v11.03h-6.17zM359.0 1552.0h6.17v11.03h-6.17zM518.9 1552.0h6.17v11.03h-6.17zM566.3 1552.0h6.17v11.03h-6.17zM637.3 1552.0h6.17v11.03h-6.17zM684.7 1552.0h6.17v11.03h-6.17zM376.8 1562.8h6.17v11.03h-6.17zM382.7 1562.8h6.17v11.03h-6.17zM471.5 1562.8h6.17v11.03h-6.17zM649.2 1562.8h6.17v11.03h-6.17zM690.6 1562.8h6.17v11.03h-6.17zM264.3 1573.5h6.17v11.03h-6.17zM276.1 1573.5h6.17v11.03h-6.17zM311.7 1573.5h6.17v11.03h-6.17zM353.1 1573.5h6.17v11.03h-6.17zM483.4 1573.5h6.17v11.03h-6.17zM211.0 1584.3h6.17v11.03h-6.17zM246.5 1584.3h6.17v11.03h-6.17zM282.1 1584.3h6.17v11.03h-6.17zM323.5 1584.3h6.17v11.03h-6.17zM353.1 1584.3h6.17v11.03h-6.17zM471.5 1584.3h6.17v11.03h-6.17zM518.9 1584.3h6.17v11.03h-6.17zM524.8 1584.3h6.17v11.03h-6.17zM590.0 1584.3h6.17v11.03h-6.17zM631.4 1584.3h6.17v11.03h-6.17zM666.9 1584.3h6.17v11.03h-6.17zM672.9 1584.3h6.17v11.03h-6.17zM702.5 1584.3h6.17v11.03h-6.17z"/><path fill="#aaaed9" d="M347.2 1206.9h6.17v11.03h-6.17zM732.1 1206.9h6.17v11.03h-6.17zM234.7 1217.7h6.17v11.03h-6.17zM453.8 1217.7h6.17v11.03h-6.17zM483.4 1217.7h6.17v11.03h-6.17zM507.1 1217.7h6.17v11.03h-6.17zM536.7 1217.7h6.17v11.03h-6.17zM625.5 1217.7h6.17v11.03h-6.17zM649.2 1217.7h6.17v11.03h-6.17zM690.6 1217.7h6.17v11.03h-6.17zM228.8 1228.5h6.17v11.03h-6.17zM240.6 1228.5h6.17v11.03h-6.17zM299.8 1228.5h6.17v11.03h-6.17zM323.5 1228.5h6.17v11.03h-6.17zM347.2 1228.5h6.17v11.03h-6.17zM365.0 1228.5h6.17v11.03h-6.17zM370.9 1228.5h6.17v11.03h-6.17zM643.3 1228.5h6.17v11.03h-6.17zM690.6 1228.5h6.17v11.03h-6.17zM388.6 1239.2h6.17v11.03h-6.17zM436.0 1239.2h6.17v11.03h-6.17zM382.7 1250.0h6.17v11.03h-6.17zM264.3 1260.8h6.17v11.03h-6.17zM299.8 1260.8h6.17v11.03h-6.17zM359.0 1260.8h6.17v11.03h-6.17zM394.6 1260.8h6.17v11.03h-6.17zM513.0 1260.8h6.17v11.03h-6.17zM542.6 1260.8h6.17v11.03h-6.17zM560.4 1260.8h6.17v11.03h-6.17zM595.9 1260.8h6.17v11.03h-6.17zM714.3 1260.8h6.17v11.03h-6.17zM755.8 1260.8h6.17v11.03h-6.17zM447.9 1271.6h6.17v11.03h-6.17zM483.4 1271.6h6.17v11.03h-6.17zM513.0 1271.6h6.17v11.03h-6.17zM666.9 1271.6h6.17v11.03h-6.17zM732.1 1271.6h6.17v11.03h-6.17zM501.1 1282.4h6.17v11.03h-6.17zM536.7 1282.4h6.17v11.03h-6.17zM566.3 1304.0h6.17v11.03h-6.17zM590.0 1304.0h6.17v11.03h-6.17zM613.6 1304.0h6.17v11.03h-6.17zM666.9 1304.0h6.17v11.03h-6.17zM554.4 1314.7h6.17v11.03h-6.17zM738.0 1314.7h6.17v11.03h-6.17zM507.1 1325.5h6.17v11.03h-6.17zM542.6 1325.5h6.17v11.03h-6.17zM666.9 1325.5h6.17v11.03h-6.17zM672.9 1325.5h6.17v11.03h-6.17zM714.3 1325.5h6.17v11.03h-6.17zM625.5 1336.3h6.17v11.03h-6.17zM637.3 1336.3h6.17v11.03h-6.17zM530.7 1347.1h6.17v11.03h-6.17zM566.3 1347.1h6.17v11.03h-6.17zM601.8 1347.1h6.17v11.03h-6.17zM619.6 1347.1h6.17v11.03h-6.17zM436.0 1368.7h6.17v11.03h-6.17zM637.3 1368.7h6.17v11.03h-6.17zM726.2 1379.4h6.17v11.03h-6.17zM240.6 1390.2h6.17v11.03h-6.17zM246.5 1390.2h6.17v11.03h-6.17zM666.9 1390.2h6.17v11.03h-6.17zM258.4 1401.0h6.17v11.03h-6.17zM436.0 1401.0h6.17v11.03h-6.17zM483.4 1401.0h6.17v11.03h-6.17zM536.7 1401.0h6.17v11.03h-6.17zM649.2 1401.0h6.17v11.03h-6.17zM661.0 1401.0h6.17v11.03h-6.17zM720.2 1401.0h6.17v11.03h-6.17zM726.2 1401.0h6.17v11.03h-6.17zM240.6 1411.8h6.17v11.03h-6.17zM311.7 1411.8h6.17v11.03h-6.17zM335.3 1411.8h6.17v11.03h-6.17zM347.2 1411.8h6.17v11.03h-6.17zM376.8 1411.8h6.17v11.03h-6.17zM436.0 1411.8h6.17v11.03h-6.17zM625.5 1411.8h6.17v11.03h-6.17zM666.9 1411.8h6.17v11.03h-6.17zM749.8 1411.8h6.17v11.03h-6.17zM246.5 1422.6h6.17v11.03h-6.17zM258.4 1422.6h6.17v11.03h-6.17zM288.0 1422.6h6.17v11.03h-6.17zM323.5 1422.6h6.17v11.03h-6.17zM353.1 1422.6h6.17v11.03h-6.17zM424.2 1422.6h6.17v11.03h-6.17zM471.5 1422.6h6.17v11.03h-6.17zM732.1 1422.6h6.17v11.03h-6.17zM743.9 1422.6h6.17v11.03h-6.17zM211.0 1433.3h6.17v11.03h-6.17zM234.7 1433.3h6.17v11.03h-6.17zM240.6 1433.3h6.17v11.03h-6.17zM382.7 1433.3h6.17v11.03h-6.17zM738.0 1433.3h6.17v11.03h-6.17zM234.7 1444.1h6.17v11.03h-6.17zM240.6 1444.1h6.17v11.03h-6.17zM270.2 1444.1h6.17v11.03h-6.17zM424.2 1454.9h6.17v11.03h-6.17zM578.1 1454.9h6.17v11.03h-6.17zM678.8 1454.9h6.17v11.03h-6.17zM684.7 1454.9h6.17v11.03h-6.17zM222.8 1465.7h6.17v11.03h-6.17zM228.8 1465.7h6.17v11.03h-6.17zM234.7 1465.7h6.17v11.03h-6.17zM335.3 1465.7h6.17v11.03h-6.17zM341.3 1465.7h6.17v11.03h-6.17zM453.8 1465.7h6.17v11.03h-6.17zM477.5 1465.7h6.17v11.03h-6.17zM566.3 1465.7h6.17v11.03h-6.17zM678.8 1465.7h6.17v11.03h-6.17zM738.0 1465.7h6.17v11.03h-6.17zM743.9 1465.7h6.17v11.03h-6.17zM755.8 1465.7h6.17v11.03h-6.17zM252.4 1476.5h6.17v11.03h-6.17zM388.6 1476.5h6.17v11.03h-6.17zM406.4 1476.5h6.17v11.03h-6.17zM465.6 1476.5h6.17v11.03h-6.17zM341.3 1498.0h6.17v11.03h-6.17zM418.2 1498.0h6.17v11.03h-6.17zM441.9 1498.0h6.17v11.03h-6.17zM311.7 1508.8h6.17v11.03h-6.17zM335.3 1508.8h6.17v11.03h-6.17zM376.8 1508.8h6.17v11.03h-6.17zM595.9 1508.8h6.17v11.03h-6.17zM637.3 1508.8h6.17v11.03h-6.17zM738.0 1508.8h6.17v11.03h-6.17zM749.8 1508.8h6.17v11.03h-6.17zM211.0 1519.6h6.17v11.03h-6.17zM234.7 1519.6h6.17v11.03h-6.17zM246.5 1519.6h6.17v11.03h-6.17zM282.1 1519.6h6.17v11.03h-6.17zM412.3 1519.6h6.17v11.03h-6.17zM714.3 1519.6h6.17v11.03h-6.17zM216.9 1530.4h6.17v11.03h-6.17zM258.4 1530.4h6.17v11.03h-6.17zM329.4 1530.4h6.17v11.03h-6.17zM406.4 1530.4h6.17v11.03h-6.17zM436.0 1530.4h6.17v11.03h-6.17zM228.8 1541.2h6.17v11.03h-6.17zM305.7 1541.2h6.17v11.03h-6.17zM228.8 1552.0h6.17v11.03h-6.17zM252.4 1552.0h6.17v11.03h-6.17zM270.2 1552.0h6.17v11.03h-6.17zM536.7 1552.0h6.17v11.03h-6.17zM649.2 1552.0h6.17v11.03h-6.17zM655.1 1552.0h6.17v11.03h-6.17zM690.6 1552.0h6.17v11.03h-6.17zM359.0 1562.8h6.17v11.03h-6.17zM714.3 1562.8h6.17v11.03h-6.17zM376.8 1573.5h6.17v11.03h-6.17zM388.6 1573.5h6.17v11.03h-6.17zM477.5 1573.5h6.17v11.03h-6.17zM418.2 1584.3h6.17v11.03h-6.17zM447.9 1584.3h6.17v11.03h-6.17zM761.7 1584.3h6.17v11.03h-6.17z"/><path fill="#ea7b73" d="M359.0 1206.9h6.17v11.03h-6.17zM453.8 1206.9h6.17v11.03h-6.17zM548.5 1206.9h6.17v11.03h-6.17zM258.4 1239.2h6.17v11.03h-6.17zM518.9 1239.2h6.17v11.03h-6.17zM222.8 1250.0h6.17v11.03h-6.17zM234.7 1250.0h6.17v11.03h-6.17zM376.8 1250.0h6.17v11.03h-6.17zM400.5 1250.0h6.17v11.03h-6.17zM406.4 1250.0h6.17v11.03h-6.17zM524.8 1250.0h6.17v11.03h-6.17zM637.3 1250.0h6.17v11.03h-6.17zM649.2 1250.0h6.17v11.03h-6.17zM655.1 1250.0h6.17v11.03h-6.17zM661.0 1250.0h6.17v11.03h-6.17zM228.8 1271.6h6.17v11.03h-6.17zM299.8 1271.6h6.17v11.03h-6.17zM228.8 1282.4h6.17v11.03h-6.17zM299.8 1282.4h6.17v11.03h-6.17zM365.0 1282.4h6.17v11.03h-6.17zM228.8 1293.2h6.17v11.03h-6.17zM282.1 1293.2h6.17v11.03h-6.17zM353.1 1293.2h6.17v11.03h-6.17zM424.2 1293.2h6.17v11.03h-6.17zM441.9 1293.2h6.17v11.03h-6.17zM211.0 1304.0h6.17v11.03h-6.17zM365.0 1304.0h6.17v11.03h-6.17zM376.8 1304.0h6.17v11.03h-6.17zM341.3 1314.7h6.17v11.03h-6.17zM666.9 1314.7h6.17v11.03h-6.17zM211.0 1325.5h6.17v11.03h-6.17zM329.4 1325.5h6.17v11.03h-6.17zM246.5 1336.3h6.17v11.03h-6.17zM359.0 1336.3h6.17v11.03h-6.17zM424.2 1336.3h6.17v11.03h-6.17zM471.5 1336.3h6.17v11.03h-6.17zM216.9 1347.1h6.17v11.03h-6.17zM453.8 1347.1h6.17v11.03h-6.17zM216.9 1357.9h6.17v11.03h-6.17zM323.5 1357.9h6.17v11.03h-6.17zM341.3 1357.9h6.17v11.03h-6.17zM347.2 1357.9h6.17v11.03h-6.17zM353.1 1357.9h6.17v11.03h-6.17zM424.2 1357.9h6.17v11.03h-6.17zM661.0 1357.9h6.17v11.03h-6.17zM359.0 1379.4h6.17v11.03h-6.17zM376.8 1379.4h6.17v11.03h-6.17zM507.1 1390.2h6.17v11.03h-6.17zM530.7 1390.2h6.17v11.03h-6.17zM530.7 1422.6h6.17v11.03h-6.17zM566.3 1433.3h6.17v11.03h-6.17zM524.8 1444.1h6.17v11.03h-6.17zM240.6 1487.3h6.17v11.03h-6.17zM418.2 1487.3h6.17v11.03h-6.17zM560.4 1573.5h6.17v11.03h-6.17zM649.2 1573.5h6.17v11.03h-6.17zM684.7 1573.5h6.17v11.03h-6.17zM761.7 1573.5h6.17v11.03h-6.17z"/><path fill="#f6c5c2" d="M365.0 1206.9h6.17v11.03h-6.17zM424.2 1206.9h6.17v11.03h-6.17zM441.9 1206.9h6.17v11.03h-6.17zM459.7 1206.9h6.17v11.03h-6.17zM477.5 1206.9h6.17v11.03h-6.17zM507.1 1206.9h6.17v11.03h-6.17zM288.0 1239.2h6.17v11.03h-6.17zM536.7 1239.2h6.17v11.03h-6.17zM554.4 1239.2h6.17v11.03h-6.17zM595.9 1239.2h6.17v11.03h-6.17zM631.4 1239.2h6.17v11.03h-6.17zM749.8 1239.2h6.17v11.03h-6.17zM761.7 1239.2h6.17v11.03h-6.17zM317.6 1250.0h6.17v11.03h-6.17zM388.6 1250.0h6.17v11.03h-6.17zM430.1 1250.0h6.17v11.03h-6.17zM441.9 1250.0h6.17v11.03h-6.17zM465.6 1250.0h6.17v11.03h-6.17zM471.5 1250.0h6.17v11.03h-6.17zM501.1 1250.0h6.17v11.03h-6.17zM536.7 1250.0h6.17v11.03h-6.17zM548.5 1250.0h6.17v11.03h-6.17zM578.1 1250.0h6.17v11.03h-6.17zM601.8 1250.0h6.17v11.03h-6.17zM619.6 1250.0h6.17v11.03h-6.17zM631.4 1250.0h6.17v11.03h-6.17zM696.5 1250.0h6.17v11.03h-6.17zM708.4 1250.0h6.17v11.03h-6.17zM714.3 1250.0h6.17v11.03h-6.17zM228.8 1260.8h6.17v11.03h-6.17zM382.7 1260.8h6.17v11.03h-6.17zM441.9 1260.8h6.17v11.03h-6.17zM548.5 1260.8h6.17v11.03h-6.17zM678.8 1260.8h6.17v11.03h-6.17zM702.5 1260.8h6.17v11.03h-6.17zM317.6 1271.6h6.17v11.03h-6.17zM353.1 1271.6h6.17v11.03h-6.17zM441.9 1271.6h6.17v11.03h-6.17zM471.5 1271.6h6.17v11.03h-6.17zM572.2 1271.6h6.17v11.03h-6.17zM584.0 1271.6h6.17v11.03h-6.17zM678.8 1271.6h6.17v11.03h-6.17zM720.2 1271.6h6.17v11.03h-6.17zM743.9 1271.6h6.17v11.03h-6.17zM216.9 1282.4h6.17v11.03h-6.17zM453.8 1282.4h6.17v11.03h-6.17zM631.4 1282.4h6.17v11.03h-6.17zM738.0 1282.4h6.17v11.03h-6.17zM394.6 1293.2h6.17v11.03h-6.17zM412.3 1293.2h6.17v11.03h-6.17zM447.9 1293.2h6.17v11.03h-6.17zM761.7 1293.2h6.17v11.03h-6.17zM282.1 1304.0h6.17v11.03h-6.17zM696.5 1304.0h6.17v11.03h-6.17zM726.2 1304.0h6.17v11.03h-6.17zM211.0 1314.7h6.17v11.03h-6.17zM240.6 1314.7h6.17v11.03h-6.17zM252.4 1314.7h6.17v11.03h-6.17zM276.1 1314.7h6.17v11.03h-6.17zM293.9 1314.7h6.17v11.03h-6.17zM388.6 1314.7h6.17v11.03h-6.17zM400.5 1314.7h6.17v11.03h-6.17zM436.0 1314.7h6.17v11.03h-6.17zM453.8 1314.7h6.17v11.03h-6.17zM489.3 1314.7h6.17v11.03h-6.17zM536.7 1314.7h6.17v11.03h-6.17zM690.6 1314.7h6.17v11.03h-6.17zM761.7 1314.7h6.17v11.03h-6.17zM234.7 1325.5h6.17v11.03h-6.17zM252.4 1325.5h6.17v11.03h-6.17zM264.3 1325.5h6.17v11.03h-6.17zM323.5 1325.5h6.17v11.03h-6.17zM406.4 1325.5h6.17v11.03h-6.17zM276.1 1336.3h6.17v11.03h-6.17zM299.8 1336.3h6.17v11.03h-6.17zM305.7 1336.3h6.17v11.03h-6.17zM317.6 1336.3h6.17v11.03h-6.17zM335.3 1336.3h6.17v11.03h-6.17zM412.3 1336.3h6.17v11.03h-6.17zM441.9 1336.3h6.17v11.03h-6.17zM661.0 1336.3h6.17v11.03h-6.17zM276.1 1347.1h6.17v11.03h-6.17zM329.4 1347.1h6.17v11.03h-6.17zM761.7 1347.1h6.17v11.03h-6.17zM211.0 1357.9h6.17v11.03h-6.17zM252.4 1357.9h6.17v11.03h-6.17zM258.4 1357.9h6.17v11.03h-6.17zM288.0 1357.9h6.17v11.03h-6.17zM483.4 1357.9h6.17v11.03h-6.17zM495.2 1357.9h6.17v11.03h-6.17zM501.1 1357.9h6.17v11.03h-6.17zM619.6 1357.9h6.17v11.03h-6.17zM631.4 1357.9h6.17v11.03h-6.17zM323.5 1368.7h6.17v11.03h-6.17zM359.0 1368.7h6.17v11.03h-6.17zM400.5 1368.7h6.17v11.03h-6.17zM430.1 1368.7h6.17v11.03h-6.17zM329.4 1379.4h6.17v11.03h-6.17zM335.3 1379.4h6.17v11.03h-6.17zM400.5 1379.4h6.17v11.03h-6.17zM436.0 1379.4h6.17v11.03h-6.17zM453.8 1379.4h6.17v11.03h-6.17zM489.3 1379.4h6.17v11.03h-6.17zM501.1 1379.4h6.17v11.03h-6.17zM536.7 1379.4h6.17v11.03h-6.17zM459.7 1390.2h6.17v11.03h-6.17zM702.5 1390.2h6.17v11.03h-6.17zM749.8 1390.2h6.17v11.03h-6.17zM216.9 1401.0h6.17v11.03h-6.17zM317.6 1401.0h6.17v11.03h-6.17zM524.8 1411.8h6.17v11.03h-6.17zM513.0 1422.6h6.17v11.03h-6.17zM542.6 1422.6h6.17v11.03h-6.17zM578.1 1422.6h6.17v11.03h-6.17zM684.7 1422.6h6.17v11.03h-6.17zM323.5 1433.3h6.17v11.03h-6.17zM495.2 1433.3h6.17v11.03h-6.17zM560.4 1433.3h6.17v11.03h-6.17zM572.2 1433.3h6.17v11.03h-6.17zM601.8 1433.3h6.17v11.03h-6.17zM702.5 1433.3h6.17v11.03h-6.17zM370.9 1444.1h6.17v11.03h-6.17zM394.6 1444.1h6.17v11.03h-6.17zM477.5 1444.1h6.17v11.03h-6.17zM607.7 1454.9h6.17v11.03h-6.17zM619.6 1465.7h6.17v11.03h-6.17zM477.5 1476.5h6.17v11.03h-6.17zM501.1 1476.5h6.17v11.03h-6.17zM507.1 1476.5h6.17v11.03h-6.17zM554.4 1476.5h6.17v11.03h-6.17zM578.1 1476.5h6.17v11.03h-6.17zM590.0 1476.5h6.17v11.03h-6.17zM607.7 1476.5h6.17v11.03h-6.17zM388.6 1487.3h6.17v11.03h-6.17zM530.7 1487.3h6.17v11.03h-6.17zM560.4 1487.3h6.17v11.03h-6.17zM637.3 1487.3h6.17v11.03h-6.17zM643.3 1487.3h6.17v11.03h-6.17zM726.2 1487.3h6.17v11.03h-6.17zM732.1 1487.3h6.17v11.03h-6.17zM222.8 1498.0h6.17v11.03h-6.17zM246.5 1498.0h6.17v11.03h-6.17zM430.1 1498.0h6.17v11.03h-6.17zM513.0 1498.0h6.17v11.03h-6.17zM530.7 1498.0h6.17v11.03h-6.17zM572.2 1498.0h6.17v11.03h-6.17zM755.8 1498.0h6.17v11.03h-6.17zM619.6 1508.8h6.17v11.03h-6.17zM661.0 1508.8h6.17v11.03h-6.17zM684.7 1508.8h6.17v11.03h-6.17zM507.1 1519.6h6.17v11.03h-6.17zM518.9 1519.6h6.17v11.03h-6.17zM720.2 1519.6h6.17v11.03h-6.17zM335.3 1530.4h6.17v11.03h-6.17zM489.3 1530.4h6.17v11.03h-6.17zM542.6 1530.4h6.17v11.03h-6.17zM560.4 1530.4h6.17v11.03h-6.17zM613.6 1530.4h6.17v11.03h-6.17zM625.5 1530.4h6.17v11.03h-6.17zM317.6 1541.2h6.17v11.03h-6.17zM447.9 1541.2h6.17v11.03h-6.17zM524.8 1541.2h6.17v11.03h-6.17zM584.0 1541.2h6.17v11.03h-6.17zM607.7 1541.2h6.17v11.03h-6.17zM400.5 1552.0h6.17v11.03h-6.17zM661.0 1552.0h6.17v11.03h-6.17zM542.6 1562.8h6.17v11.03h-6.17zM584.0 1562.8h6.17v11.03h-6.17zM637.3 1562.8h6.17v11.03h-6.17zM240.6 1573.5h6.17v11.03h-6.17zM246.5 1573.5h6.17v11.03h-6.17zM288.0 1573.5h6.17v11.03h-6.17zM518.9 1573.5h6.17v11.03h-6.17zM566.3 1573.5h6.17v11.03h-6.17zM607.7 1573.5h6.17v11.03h-6.17zM619.6 1573.5h6.17v11.03h-6.17zM625.5 1573.5h6.17v11.03h-6.17zM631.4 1573.5h6.17v11.03h-6.17zM720.2 1573.5h6.17v11.03h-6.17zM732.1 1573.5h6.17v11.03h-6.17zM258.4 1584.3h6.17v11.03h-6.17zM288.0 1584.3h6.17v11.03h-6.17zM341.3 1584.3h6.17v11.03h-6.17zM382.7 1584.3h6.17v11.03h-6.17zM495.2 1584.3h6.17v11.03h-6.17zM513.0 1584.3h6.17v11.03h-6.17zM696.5 1584.3h6.17v11.03h-6.17zM720.2 1584.3h6.17v11.03h-6.17z"/><path fill="#ed8e88" d="M388.6 1206.9h6.17v11.03h-6.17zM495.2 1239.2h6.17v11.03h-6.17zM672.9 1239.2h6.17v11.03h-6.17zM714.3 1239.2h6.17v11.03h-6.17zM293.9 1250.0h6.17v11.03h-6.17zM335.3 1250.0h6.17v11.03h-6.17zM459.7 1250.0h6.17v11.03h-6.17zM566.3 1250.0h6.17v11.03h-6.17zM590.0 1250.0h6.17v11.03h-6.17zM672.9 1260.8h6.17v11.03h-6.17zM240.6 1271.6h6.17v11.03h-6.17zM341.3 1271.6h6.17v11.03h-6.17zM234.7 1282.4h6.17v11.03h-6.17zM418.2 1282.4h6.17v11.03h-6.17zM216.9 1293.2h6.17v11.03h-6.17zM264.3 1293.2h6.17v11.03h-6.17zM311.7 1293.2h6.17v11.03h-6.17zM430.1 1293.2h6.17v11.03h-6.17zM459.7 1293.2h6.17v11.03h-6.17zM702.5 1293.2h6.17v11.03h-6.17zM755.8 1293.2h6.17v11.03h-6.17zM216.9 1304.0h6.17v11.03h-6.17zM222.8 1304.0h6.17v11.03h-6.17zM240.6 1304.0h6.17v11.03h-6.17zM341.3 1304.0h6.17v11.03h-6.17zM359.0 1304.0h6.17v11.03h-6.17zM216.9 1314.7h6.17v11.03h-6.17zM264.3 1314.7h6.17v11.03h-6.17zM418.2 1314.7h6.17v11.03h-6.17zM471.5 1314.7h6.17v11.03h-6.17zM743.9 1314.7h6.17v11.03h-6.17zM282.1 1325.5h6.17v11.03h-6.17zM347.2 1325.5h6.17v11.03h-6.17zM394.6 1325.5h6.17v11.03h-6.17zM477.5 1325.5h6.17v11.03h-6.17zM258.4 1347.1h6.17v11.03h-6.17zM264.3 1357.9h6.17v11.03h-6.17zM276.1 1357.9h6.17v11.03h-6.17zM590.0 1357.9h6.17v11.03h-6.17zM732.1 1357.9h6.17v11.03h-6.17zM211.0 1368.7h6.17v11.03h-6.17zM222.8 1368.7h6.17v11.03h-6.17zM252.4 1368.7h6.17v11.03h-6.17zM418.2 1368.7h6.17v11.03h-6.17zM270.2 1379.4h6.17v11.03h-6.17zM418.2 1379.4h6.17v11.03h-6.17zM560.4 1390.2h6.17v11.03h-6.17zM560.4 1422.6h6.17v11.03h-6.17zM524.8 1433.3h6.17v11.03h-6.17zM530.7 1444.1h6.17v11.03h-6.17zM542.6 1444.1h6.17v11.03h-6.17zM726.2 1444.1h6.17v11.03h-6.17zM613.6 1476.5h6.17v11.03h-6.17zM518.9 1487.3h6.17v11.03h-6.17zM584.0 1487.3h6.17v11.03h-6.17zM631.4 1541.2h6.17v11.03h-6.17zM430.1 1552.0h6.17v11.03h-6.17zM453.8 1562.8h6.17v11.03h-6.17zM666.9 1562.8h6.17v11.03h-6.17zM211.0 1573.5h6.17v11.03h-6.17zM282.1 1573.5h6.17v11.03h-6.17zM661.0 1573.5h6.17v11.03h-6.17zM749.8 1573.5h6.17v11.03h-6.17zM299.8 1584.3h6.17v11.03h-6.17zM305.7 1584.3h6.17v11.03h-6.17zM412.3 1584.3h6.17v11.03h-6.17zM560.4 1584.3h6.17v11.03h-6.17zM732.1 1584.3h6.17v11.03h-6.17z"/><path fill="#999dd1" d="M578.1 1206.9h6.17v11.03h-6.17zM601.8 1206.9h6.17v11.03h-6.17zM720.2 1206.9h6.17v11.03h-6.17zM749.8 1206.9h6.17v11.03h-6.17zM228.8 1217.7h6.17v11.03h-6.17zM370.9 1217.7h6.17v11.03h-6.17zM388.6 1217.7h6.17v11.03h-6.17zM447.9 1217.7h6.17v11.03h-6.17zM548.5 1217.7h6.17v11.03h-6.17zM696.5 1217.7h6.17v11.03h-6.17zM246.5 1228.5h6.17v11.03h-6.17zM359.0 1228.5h6.17v11.03h-6.17zM459.7 1228.5h6.17v11.03h-6.17zM471.5 1228.5h6.17v11.03h-6.17zM495.2 1228.5h6.17v11.03h-6.17zM554.4 1228.5h6.17v11.03h-6.17zM613.6 1228.5h6.17v11.03h-6.17zM637.3 1228.5h6.17v11.03h-6.17zM672.9 1228.5h6.17v11.03h-6.17zM761.7 1228.5h6.17v11.03h-6.17zM270.2 1260.8h6.17v11.03h-6.17zM471.5 1260.8h6.17v11.03h-6.17zM536.7 1260.8h6.17v11.03h-6.17zM643.3 1260.8h6.17v11.03h-6.17zM761.7 1260.8h6.17v11.03h-6.17zM507.1 1271.6h6.17v11.03h-6.17zM524.8 1271.6h6.17v11.03h-6.17zM536.7 1271.6h6.17v11.03h-6.17zM524.8 1282.4h6.17v11.03h-6.17zM560.4 1282.4h6.17v11.03h-6.17zM643.3 1293.2h6.17v11.03h-6.17zM643.3 1304.0h6.17v11.03h-6.17zM518.9 1325.5h6.17v11.03h-6.17zM572.2 1325.5h6.17v11.03h-6.17zM755.8 1325.5h6.17v11.03h-6.17zM625.5 1347.1h6.17v11.03h-6.17zM643.3 1347.1h6.17v11.03h-6.17zM524.8 1357.9h6.17v11.03h-6.17zM453.8 1368.7h6.17v11.03h-6.17zM613.6 1368.7h6.17v11.03h-6.17zM619.6 1379.4h6.17v11.03h-6.17zM341.3 1390.2h6.17v11.03h-6.17zM661.0 1390.2h6.17v11.03h-6.17zM222.8 1411.8h6.17v11.03h-6.17zM252.4 1411.8h6.17v11.03h-6.17zM270.2 1411.8h6.17v11.03h-6.17zM276.1 1411.8h6.17v11.03h-6.17zM282.1 1411.8h6.17v11.03h-6.17zM288.0 1411.8h6.17v11.03h-6.17zM341.3 1411.8h6.17v11.03h-6.17zM388.6 1411.8h6.17v11.03h-6.17zM483.4 1411.8h6.17v11.03h-6.17zM643.3 1411.8h6.17v11.03h-6.17zM678.8 1411.8h6.17v11.03h-6.17zM228.8 1422.6h6.17v11.03h-6.17zM264.3 1422.6h6.17v11.03h-6.17zM341.3 1422.6h6.17v11.03h-6.17zM412.3 1422.6h6.17v11.03h-6.17zM418.2 1422.6h6.17v11.03h-6.17zM441.9 1422.6h6.17v11.03h-6.17zM222.8 1433.3h6.17v11.03h-6.17zM447.9 1444.1h6.17v11.03h-6.17zM228.8 1454.9h6.17v11.03h-6.17zM299.8 1454.9h6.17v11.03h-6.17zM317.6 1454.9h6.17v11.03h-6.17zM400.5 1454.9h6.17v11.03h-6.17zM447.9 1454.9h6.17v11.03h-6.17zM459.7 1454.9h6.17v11.03h-6.17zM625.5 1454.9h6.17v11.03h-6.17zM643.3 1454.9h6.17v11.03h-6.17zM702.5 1454.9h6.17v11.03h-6.17zM738.0 1454.9h6.17v11.03h-6.17zM240.6 1465.7h6.17v11.03h-6.17zM436.0 1465.7h6.17v11.03h-6.17zM495.2 1465.7h6.17v11.03h-6.17zM720.2 1465.7h6.17v11.03h-6.17zM264.3 1476.5h6.17v11.03h-6.17zM353.1 1476.5h6.17v11.03h-6.17zM400.5 1476.5h6.17v11.03h-6.17zM447.9 1476.5h6.17v11.03h-6.17zM761.7 1476.5h6.17v11.03h-6.17zM406.4 1498.0h6.17v11.03h-6.17zM732.1 1498.0h6.17v11.03h-6.17zM246.5 1508.8h6.17v11.03h-6.17zM282.1 1508.8h6.17v11.03h-6.17zM288.0 1508.8h6.17v11.03h-6.17zM323.5 1508.8h6.17v11.03h-6.17zM388.6 1508.8h6.17v11.03h-6.17zM430.1 1508.8h6.17v11.03h-6.17zM453.8 1508.8h6.17v11.03h-6.17zM465.6 1508.8h6.17v11.03h-6.17zM743.9 1508.8h6.17v11.03h-6.17zM335.3 1519.6h6.17v11.03h-6.17zM353.1 1519.6h6.17v11.03h-6.17zM524.8 1519.6h6.17v11.03h-6.17zM536.7 1519.6h6.17v11.03h-6.17zM631.4 1519.6h6.17v11.03h-6.17zM690.6 1519.6h6.17v11.03h-6.17zM726.2 1519.6h6.17v11.03h-6.17zM732.1 1519.6h6.17v11.03h-6.17zM311.7 1530.4h6.17v11.03h-6.17zM347.2 1530.4h6.17v11.03h-6.17zM216.9 1541.2h6.17v11.03h-6.17zM222.8 1541.2h6.17v11.03h-6.17zM240.6 1541.2h6.17v11.03h-6.17zM276.1 1541.2h6.17v11.03h-6.17zM234.7 1552.0h6.17v11.03h-6.17zM288.0 1562.8h6.17v11.03h-6.17zM394.6 1562.8h6.17v11.03h-6.17zM465.6 1562.8h6.17v11.03h-6.17zM518.9 1562.8h6.17v11.03h-6.17zM524.8 1562.8h6.17v11.03h-6.17zM382.7 1573.5h6.17v11.03h-6.17zM400.5 1573.5h6.17v11.03h-6.17zM619.6 1584.3h6.17v11.03h-6.17z"/><path fill="#bbbee1" d="M590.0 1206.9h6.17v11.03h-6.17zM708.4 1206.9h6.17v11.03h-6.17zM246.5 1217.7h6.17v11.03h-6.17zM341.3 1217.7h6.17v11.03h-6.17zM347.2 1217.7h6.17v11.03h-6.17zM365.0 1217.7h6.17v11.03h-6.17zM501.1 1217.7h6.17v11.03h-6.17zM631.4 1217.7h6.17v11.03h-6.17zM661.0 1217.7h6.17v11.03h-6.17zM678.8 1217.7h6.17v11.03h-6.17zM761.7 1217.7h6.17v11.03h-6.17zM216.9 1228.5h6.17v11.03h-6.17zM258.4 1228.5h6.17v11.03h-6.17zM305.7 1228.5h6.17v11.03h-6.17zM424.2 1228.5h6.17v11.03h-6.17zM601.8 1228.5h6.17v11.03h-6.17zM619.6 1228.5h6.17v11.03h-6.17zM684.7 1228.5h6.17v11.03h-6.17zM234.7 1239.2h6.17v11.03h-6.17zM222.8 1260.8h6.17v11.03h-6.17zM240.6 1260.8h6.17v11.03h-6.17zM258.4 1260.8h6.17v11.03h-6.17zM317.6 1260.8h6.17v11.03h-6.17zM370.9 1260.8h6.17v11.03h-6.17zM459.7 1260.8h6.17v11.03h-6.17zM524.8 1260.8h6.17v11.03h-6.17zM607.7 1260.8h6.17v11.03h-6.17zM613.6 1260.8h6.17v11.03h-6.17zM631.4 1260.8h6.17v11.03h-6.17zM637.3 1260.8h6.17v11.03h-6.17zM743.9 1260.8h6.17v11.03h-6.17zM749.8 1260.8h6.17v11.03h-6.17zM518.9 1271.6h6.17v11.03h-6.17zM400.5 1282.4h6.17v11.03h-6.17zM513.0 1293.2h6.17v11.03h-6.17zM566.3 1293.2h6.17v11.03h-6.17zM613.6 1293.2h6.17v11.03h-6.17zM684.7 1293.2h6.17v11.03h-6.17zM661.0 1304.0h6.17v11.03h-6.17zM572.2 1314.7h6.17v11.03h-6.17zM584.0 1314.7h6.17v11.03h-6.17zM619.6 1314.7h6.17v11.03h-6.17zM530.7 1325.5h6.17v11.03h-6.17zM560.4 1325.5h6.17v11.03h-6.17zM601.8 1325.5h6.17v11.03h-6.17zM684.7 1325.5h6.17v11.03h-6.17zM743.9 1325.5h6.17v11.03h-6.17zM530.7 1336.3h6.17v11.03h-6.17zM714.3 1336.3h6.17v11.03h-6.17zM501.1 1347.1h6.17v11.03h-6.17zM542.6 1347.1h6.17v11.03h-6.17zM560.4 1347.1h6.17v11.03h-6.17zM584.0 1347.1h6.17v11.03h-6.17zM447.9 1368.7h6.17v11.03h-6.17zM560.4 1368.7h6.17v11.03h-6.17zM590.0 1368.7h6.17v11.03h-6.17zM631.4 1368.7h6.17v11.03h-6.17zM696.5 1368.7h6.17v11.03h-6.17zM738.0 1368.7h6.17v11.03h-6.17zM749.8 1368.7h6.17v11.03h-6.17zM513.0 1379.4h6.17v11.03h-6.17zM637.3 1379.4h6.17v11.03h-6.17zM708.4 1379.4h6.17v11.03h-6.17zM234.7 1390.2h6.17v11.03h-6.17zM323.5 1390.2h6.17v11.03h-6.17zM412.3 1390.2h6.17v11.03h-6.17zM631.4 1390.2h6.17v11.03h-6.17zM282.1 1401.0h6.17v11.03h-6.17zM507.1 1401.0h6.17v11.03h-6.17zM530.7 1401.0h6.17v11.03h-6.17zM554.4 1401.0h6.17v11.03h-6.17zM572.2 1401.0h6.17v11.03h-6.17zM584.0 1401.0h6.17v11.03h-6.17zM637.3 1401.0h6.17v11.03h-6.17zM672.9 1401.0h6.17v11.03h-6.17zM684.7 1401.0h6.17v11.03h-6.17zM732.1 1401.0h6.17v11.03h-6.17zM234.7 1411.8h6.17v11.03h-6.17zM365.0 1411.8h6.17v11.03h-6.17zM394.6 1411.8h6.17v11.03h-6.17zM400.5 1411.8h6.17v11.03h-6.17zM453.8 1411.8h6.17v11.03h-6.17zM601.8 1411.8h6.17v11.03h-6.17zM619.6 1411.8h6.17v11.03h-6.17zM234.7 1422.6h6.17v11.03h-6.17zM311.7 1422.6h6.17v11.03h-6.17zM329.4 1422.6h6.17v11.03h-6.17zM359.0 1422.6h6.17v11.03h-6.17zM430.1 1422.6h6.17v11.03h-6.17zM459.7 1422.6h6.17v11.03h-6.17zM489.3 1422.6h6.17v11.03h-6.17zM714.3 1422.6h6.17v11.03h-6.17zM282.1 1433.3h6.17v11.03h-6.17zM353.1 1433.3h6.17v11.03h-6.17zM726.2 1433.3h6.17v11.03h-6.17zM264.3 1444.1h6.17v11.03h-6.17zM311.7 1444.1h6.17v11.03h-6.17zM335.3 1444.1h6.17v11.03h-6.17zM359.0 1444.1h6.17v11.03h-6.17zM424.2 1444.1h6.17v11.03h-6.17zM459.7 1444.1h6.17v11.03h-6.17zM471.5 1444.1h6.17v11.03h-6.17zM625.5 1444.1h6.17v11.03h-6.17zM743.9 1444.1h6.17v11.03h-6.17zM211.0 1454.9h6.17v11.03h-6.17zM264.3 1454.9h6.17v11.03h-6.17zM293.9 1454.9h6.17v11.03h-6.17zM335.3 1454.9h6.17v11.03h-6.17zM412.3 1454.9h6.17v11.03h-6.17zM418.2 1454.9h6.17v11.03h-6.17zM572.2 1454.9h6.17v11.03h-6.17zM601.8 1454.9h6.17v11.03h-6.17zM637.3 1454.9h6.17v11.03h-6.17zM743.9 1454.9h6.17v11.03h-6.17zM755.8 1454.9h6.17v11.03h-6.17zM216.9 1465.7h6.17v11.03h-6.17zM252.4 1465.7h6.17v11.03h-6.17zM270.2 1465.7h6.17v11.03h-6.17zM305.7 1465.7h6.17v11.03h-6.17zM382.7 1465.7h6.17v11.03h-6.17zM394.6 1465.7h6.17v11.03h-6.17zM406.4 1465.7h6.17v11.03h-6.17zM424.2 1465.7h6.17v11.03h-6.17zM441.9 1465.7h6.17v11.03h-6.17zM447.9 1465.7h6.17v11.03h-6.17zM661.0 1465.7h6.17v11.03h-6.17zM696.5 1465.7h6.17v11.03h-6.17zM714.3 1465.7h6.17v11.03h-6.17zM293.9 1476.5h6.17v11.03h-6.17zM530.7 1476.5h6.17v11.03h-6.17zM755.8 1476.5h6.17v11.03h-6.17zM436.0 1487.3h6.17v11.03h-6.17zM252.4 1498.0h6.17v11.03h-6.17zM412.3 1498.0h6.17v11.03h-6.17zM477.5 1498.0h6.17v11.03h-6.17zM518.9 1498.0h6.17v11.03h-6.17zM714.3 1498.0h6.17v11.03h-6.17zM211.0 1508.8h6.17v11.03h-6.17zM270.2 1508.8h6.17v11.03h-6.17zM418.2 1508.8h6.17v11.03h-6.17zM424.2 1508.8h6.17v11.03h-6.17zM690.6 1508.8h6.17v11.03h-6.17zM720.2 1508.8h6.17v11.03h-6.17zM240.6 1519.6h6.17v11.03h-6.17zM270.2 1519.6h6.17v11.03h-6.17zM317.6 1519.6h6.17v11.03h-6.17zM376.8 1519.6h6.17v11.03h-6.17zM424.2 1519.6h6.17v11.03h-6.17zM459.7 1519.6h6.17v11.03h-6.17zM465.6 1519.6h6.17v11.03h-6.17zM554.4 1519.6h6.17v11.03h-6.17zM666.9 1519.6h6.17v11.03h-6.17zM672.9 1519.6h6.17v11.03h-6.17zM755.8 1519.6h6.17v11.03h-6.17zM211.0 1530.4h6.17v11.03h-6.17zM276.1 1530.4h6.17v11.03h-6.17zM365.0 1530.4h6.17v11.03h-6.17zM471.5 1530.4h6.17v11.03h-6.17zM483.4 1530.4h6.17v11.03h-6.17zM661.0 1541.2h6.17v11.03h-6.17zM726.2 1541.2h6.17v11.03h-6.17zM276.1 1552.0h6.17v11.03h-6.17zM305.7 1552.0h6.17v11.03h-6.17zM353.1 1552.0h6.17v11.03h-6.17zM578.1 1552.0h6.17v11.03h-6.17zM293.9 1562.8h6.17v11.03h-6.17zM335.3 1562.8h6.17v11.03h-6.17zM394.6 1573.5h6.17v11.03h-6.17zM424.2 1573.5h6.17v11.03h-6.17zM436.0 1573.5h6.17v11.03h-6.17zM441.9 1573.5h6.17v11.03h-6.17zM590.0 1573.5h6.17v11.03h-6.17zM394.6 1584.3h6.17v11.03h-6.17zM678.8 1584.3h6.17v11.03h-6.17z"/><path fill="#4f57b1" d="M222.8 1217.7h6.17v11.03h-6.17zM270.2 1217.7h6.17v11.03h-6.17zM359.0 1217.7h6.17v11.03h-6.17zM376.8 1217.7h6.17v11.03h-6.17zM382.7 1217.7h6.17v11.03h-6.17zM424.2 1217.7h6.17v11.03h-6.17zM513.0 1217.7h6.17v11.03h-6.17zM560.4 1217.7h6.17v11.03h-6.17zM666.9 1217.7h6.17v11.03h-6.17zM353.1 1228.5h6.17v11.03h-6.17zM530.7 1228.5h6.17v11.03h-6.17zM418.2 1239.2h6.17v11.03h-6.17zM276.1 1260.8h6.17v11.03h-6.17zM518.9 1260.8h6.17v11.03h-6.17zM572.2 1260.8h6.17v11.03h-6.17zM726.2 1260.8h6.17v11.03h-6.17zM282.1 1271.6h6.17v11.03h-6.17zM542.6 1271.6h6.17v11.03h-6.17zM595.9 1271.6h6.17v11.03h-6.17zM696.5 1271.6h6.17v11.03h-6.17zM282.1 1282.4h6.17v11.03h-6.17zM376.8 1282.4h6.17v11.03h-6.17zM288.0 1293.2h6.17v11.03h-6.17zM696.5 1293.2h6.17v11.03h-6.17zM412.3 1304.0h6.17v11.03h-6.17zM518.9 1304.0h6.17v11.03h-6.17zM530.7 1304.0h6.17v11.03h-6.17zM228.8 1314.7h6.17v11.03h-6.17zM335.3 1314.7h6.17v11.03h-6.17zM441.9 1314.7h6.17v11.03h-6.17zM601.8 1336.3h6.17v11.03h-6.17zM672.9 1336.3h6.17v11.03h-6.17zM483.4 1347.1h6.17v11.03h-6.17zM655.1 1347.1h6.17v11.03h-6.17zM518.9 1368.7h6.17v11.03h-6.17zM708.4 1368.7h6.17v11.03h-6.17zM613.6 1379.4h6.17v11.03h-6.17zM625.5 1379.4h6.17v11.03h-6.17zM388.6 1390.2h6.17v11.03h-6.17zM572.2 1390.2h6.17v11.03h-6.17zM465.6 1401.0h6.17v11.03h-6.17zM548.5 1401.0h6.17v11.03h-6.17zM560.4 1401.0h6.17v11.03h-6.17zM590.0 1401.0h6.17v11.03h-6.17zM643.3 1401.0h6.17v11.03h-6.17zM246.5 1411.8h6.17v11.03h-6.17zM264.3 1411.8h6.17v11.03h-6.17zM370.9 1411.8h6.17v11.03h-6.17zM649.2 1411.8h6.17v11.03h-6.17zM240.6 1422.6h6.17v11.03h-6.17zM293.9 1422.6h6.17v11.03h-6.17zM305.7 1422.6h6.17v11.03h-6.17zM436.0 1422.6h6.17v11.03h-6.17zM477.5 1422.6h6.17v11.03h-6.17zM441.9 1433.3h6.17v11.03h-6.17zM252.4 1444.1h6.17v11.03h-6.17zM276.1 1444.1h6.17v11.03h-6.17zM661.0 1444.1h6.17v11.03h-6.17zM696.5 1444.1h6.17v11.03h-6.17zM258.4 1454.9h6.17v11.03h-6.17zM323.5 1454.9h6.17v11.03h-6.17zM341.3 1454.9h6.17v11.03h-6.17zM376.8 1454.9h6.17v11.03h-6.17zM465.6 1454.9h6.17v11.03h-6.17zM524.8 1454.9h6.17v11.03h-6.17zM613.6 1454.9h6.17v11.03h-6.17zM690.6 1454.9h6.17v11.03h-6.17zM696.5 1454.9h6.17v11.03h-6.17zM761.7 1454.9h6.17v11.03h-6.17zM264.3 1465.7h6.17v11.03h-6.17zM317.6 1465.7h6.17v11.03h-6.17zM507.1 1465.7h6.17v11.03h-6.17zM590.0 1465.7h6.17v11.03h-6.17zM702.5 1465.7h6.17v11.03h-6.17zM749.8 1476.5h6.17v11.03h-6.17zM554.4 1487.3h6.17v11.03h-6.17zM678.8 1487.3h6.17v11.03h-6.17zM264.3 1498.0h6.17v11.03h-6.17zM288.0 1498.0h6.17v11.03h-6.17zM311.7 1498.0h6.17v11.03h-6.17zM323.5 1498.0h6.17v11.03h-6.17zM388.6 1498.0h6.17v11.03h-6.17zM465.6 1498.0h6.17v11.03h-6.17zM489.3 1498.0h6.17v11.03h-6.17zM714.3 1508.8h6.17v11.03h-6.17zM216.9 1519.6h6.17v11.03h-6.17zM252.4 1519.6h6.17v11.03h-6.17zM323.5 1519.6h6.17v11.03h-6.17zM394.6 1519.6h6.17v11.03h-6.17zM607.7 1519.6h6.17v11.03h-6.17zM222.8 1530.4h6.17v11.03h-6.17zM447.9 1530.4h6.17v11.03h-6.17zM595.9 1530.4h6.17v11.03h-6.17zM246.5 1541.2h6.17v11.03h-6.17zM453.8 1541.2h6.17v11.03h-6.17zM341.3 1552.0h6.17v11.03h-6.17zM477.5 1552.0h6.17v11.03h-6.17zM501.1 1552.0h6.17v11.03h-6.17zM495.2 1562.8h6.17v11.03h-6.17zM560.4 1562.8h6.17v11.03h-6.17zM317.6 1573.5h6.17v11.03h-6.17zM418.2 1573.5h6.17v11.03h-6.17zM483.4 1584.3h6.17v11.03h-6.17z"/><path fill="#757bc1" d="M323.5 1217.7h6.17v11.03h-6.17zM412.3 1217.7h6.17v11.03h-6.17zM554.4 1217.7h6.17v11.03h-6.17zM655.1 1217.7h6.17v11.03h-6.17zM726.2 1217.7h6.17v11.03h-6.17zM282.1 1228.5h6.17v11.03h-6.17zM376.8 1228.5h6.17v11.03h-6.17zM400.5 1239.2h6.17v11.03h-6.17zM288.0 1260.8h6.17v11.03h-6.17zM323.5 1260.8h6.17v11.03h-6.17zM548.5 1282.4h6.17v11.03h-6.17zM755.8 1282.4h6.17v11.03h-6.17zM554.4 1325.5h6.17v11.03h-6.17zM566.3 1325.5h6.17v11.03h-6.17zM607.7 1325.5h6.17v11.03h-6.17zM631.4 1325.5h6.17v11.03h-6.17zM590.0 1336.3h6.17v11.03h-6.17zM595.9 1336.3h6.17v11.03h-6.17zM613.6 1336.3h6.17v11.03h-6.17zM643.3 1336.3h6.17v11.03h-6.17zM554.4 1368.7h6.17v11.03h-6.17zM572.2 1368.7h6.17v11.03h-6.17zM607.7 1368.7h6.17v11.03h-6.17zM702.5 1368.7h6.17v11.03h-6.17zM305.7 1401.0h6.17v11.03h-6.17zM317.6 1411.8h6.17v11.03h-6.17zM353.1 1411.8h6.17v11.03h-6.17zM359.0 1411.8h6.17v11.03h-6.17zM702.5 1411.8h6.17v11.03h-6.17zM211.0 1422.6h6.17v11.03h-6.17zM453.8 1422.6h6.17v11.03h-6.17zM465.6 1422.6h6.17v11.03h-6.17zM655.1 1422.6h6.17v11.03h-6.17zM720.2 1422.6h6.17v11.03h-6.17zM755.8 1422.6h6.17v11.03h-6.17zM270.2 1454.9h6.17v11.03h-6.17zM282.1 1454.9h6.17v11.03h-6.17zM305.7 1454.9h6.17v11.03h-6.17zM359.0 1454.9h6.17v11.03h-6.17zM382.7 1454.9h6.17v11.03h-6.17zM441.9 1454.9h6.17v11.03h-6.17zM732.1 1454.9h6.17v11.03h-6.17zM666.9 1465.7h6.17v11.03h-6.17zM246.5 1476.5h6.17v11.03h-6.17zM382.7 1476.5h6.17v11.03h-6.17zM394.6 1476.5h6.17v11.03h-6.17zM282.1 1498.0h6.17v11.03h-6.17zM299.8 1498.0h6.17v11.03h-6.17zM222.8 1508.8h6.17v11.03h-6.17zM258.4 1508.8h6.17v11.03h-6.17zM222.8 1519.6h6.17v11.03h-6.17zM365.0 1519.6h6.17v11.03h-6.17zM382.7 1519.6h6.17v11.03h-6.17zM406.4 1519.6h6.17v11.03h-6.17zM619.6 1530.4h6.17v11.03h-6.17zM370.9 1573.5h6.17v11.03h-6.17zM447.9 1573.5h6.17v11.03h-6.17z"/><path fill="#6269b9" d="M530.7 1217.7h6.17v11.03h-6.17zM234.7 1228.5h6.17v11.03h-6.17zM501.1 1228.5h6.17v11.03h-6.17zM518.9 1228.5h6.17v11.03h-6.17zM370.9 1239.2h6.17v11.03h-6.17zM341.3 1260.8h6.17v11.03h-6.17zM619.6 1293.2h6.17v11.03h-6.17zM536.7 1325.5h6.17v11.03h-6.17zM619.6 1325.5h6.17v11.03h-6.17zM619.6 1336.3h6.17v11.03h-6.17zM524.8 1347.1h6.17v11.03h-6.17zM536.7 1347.1h6.17v11.03h-6.17zM743.9 1368.7h6.17v11.03h-6.17zM299.8 1390.2h6.17v11.03h-6.17zM424.2 1411.8h6.17v11.03h-6.17zM684.7 1411.8h6.17v11.03h-6.17zM222.8 1422.6h6.17v11.03h-6.17zM347.2 1422.6h6.17v11.03h-6.17zM595.9 1422.6h6.17v11.03h-6.17zM424.2 1433.3h6.17v11.03h-6.17zM453.8 1454.9h6.17v11.03h-6.17zM471.5 1498.0h6.17v11.03h-6.17zM228.8 1508.8h6.17v11.03h-6.17zM370.9 1508.8h6.17v11.03h-6.17zM240.6 1552.0h6.17v11.03h-6.17zM761.7 1552.0h6.17v11.03h-6.17z"/><path fill="#3c44a8" d="M264.3 1228.5h6.17v11.03h-6.17zM276.1 1228.5h6.17v11.03h-6.17zM394.6 1228.5h6.17v11.03h-6.17zM477.5 1228.5h6.17v11.03h-6.17zM406.4 1239.2h6.17v11.03h-6.17zM578.1 1325.5h6.17v11.03h-6.17zM590.0 1325.5h6.17v11.03h-6.17zM595.9 1325.5h6.17v11.03h-6.17zM572.2 1347.1h6.17v11.03h-6.17zM613.6 1347.1h6.17v11.03h-6.17zM216.9 1411.8h6.17v11.03h-6.17zM252.4 1422.6h6.17v11.03h-6.17zM406.4 1422.6h6.17v11.03h-6.17zM276.1 1465.7h6.17v11.03h-6.17zM483.4 1465.7h6.17v11.03h-6.17zM211.0 1476.5h6.17v11.03h-6.17zM228.8 1476.5h6.17v11.03h-6.17zM323.5 1476.5h6.17v11.03h-6.17zM365.0 1498.0h6.17v11.03h-6.17zM282.1 1530.4h6.17v11.03h-6.17z"/><path fill="#f0a19c" d="M270.2 1239.2h6.17v11.03h-6.17zM276.1 1239.2h6.17v11.03h-6.17zM341.3 1239.2h6.17v11.03h-6.17zM678.8 1239.2h6.17v11.03h-6.17zM216.9 1250.0h6.17v11.03h-6.17zM228.8 1250.0h6.17v11.03h-6.17zM240.6 1250.0h6.17v11.03h-6.17zM258.4 1250.0h6.17v11.03h-6.17zM282.1 1250.0h6.17v11.03h-6.17zM359.0 1250.0h6.17v11.03h-6.17zM412.3 1250.0h6.17v11.03h-6.17zM436.0 1250.0h6.17v11.03h-6.17zM518.9 1250.0h6.17v11.03h-6.17zM542.6 1250.0h6.17v11.03h-6.17zM643.3 1250.0h6.17v11.03h-6.17zM258.4 1271.6h6.17v11.03h-6.17zM270.2 1271.6h6.17v11.03h-6.17zM276.1 1271.6h6.17v11.03h-6.17zM590.0 1271.6h6.17v11.03h-6.17zM211.0 1282.4h6.17v11.03h-6.17zM222.8 1282.4h6.17v11.03h-6.17zM258.4 1282.4h6.17v11.03h-6.17zM270.2 1282.4h6.17v11.03h-6.17zM441.9 1282.4h6.17v11.03h-6.17zM341.3 1293.2h6.17v11.03h-6.17zM572.2 1293.2h6.17v11.03h-6.17zM714.3 1293.2h6.17v11.03h-6.17zM732.1 1293.2h6.17v11.03h-6.17zM743.9 1293.2h6.17v11.03h-6.17zM258.4 1304.0h6.17v11.03h-6.17zM317.6 1304.0h6.17v11.03h-6.17zM477.5 1314.7h6.17v11.03h-6.17zM365.0 1325.5h6.17v11.03h-6.17zM447.9 1325.5h6.17v11.03h-6.17zM252.4 1336.3h6.17v11.03h-6.17zM288.0 1336.3h6.17v11.03h-6.17zM370.9 1336.3h6.17v11.03h-6.17zM382.7 1336.3h6.17v11.03h-6.17zM406.4 1336.3h6.17v11.03h-6.17zM418.2 1336.3h6.17v11.03h-6.17zM738.0 1336.3h6.17v11.03h-6.17zM743.9 1336.3h6.17v11.03h-6.17zM365.0 1347.1h6.17v11.03h-6.17zM477.5 1347.1h6.17v11.03h-6.17zM702.5 1347.1h6.17v11.03h-6.17zM240.6 1357.9h6.17v11.03h-6.17zM388.6 1357.9h6.17v11.03h-6.17zM459.7 1357.9h6.17v11.03h-6.17zM637.3 1357.9h6.17v11.03h-6.17zM643.3 1357.9h6.17v11.03h-6.17zM370.9 1368.7h6.17v11.03h-6.17zM252.4 1379.4h6.17v11.03h-6.17zM305.7 1379.4h6.17v11.03h-6.17zM382.7 1379.4h6.17v11.03h-6.17zM406.4 1379.4h6.17v11.03h-6.17zM459.7 1379.4h6.17v11.03h-6.17zM465.6 1379.4h6.17v11.03h-6.17zM643.3 1379.4h6.17v11.03h-6.17zM672.9 1379.4h6.17v11.03h-6.17zM270.2 1390.2h6.17v11.03h-6.17zM489.3 1390.2h6.17v11.03h-6.17zM726.2 1390.2h6.17v11.03h-6.17zM376.8 1401.0h6.17v11.03h-6.17zM418.2 1401.0h6.17v11.03h-6.17zM518.9 1422.6h6.17v11.03h-6.17zM524.8 1422.6h6.17v11.03h-6.17zM252.4 1433.3h6.17v11.03h-6.17zM311.7 1433.3h6.17v11.03h-6.17zM370.9 1433.3h6.17v11.03h-6.17zM471.5 1433.3h6.17v11.03h-6.17zM507.1 1433.3h6.17v11.03h-6.17zM619.6 1433.3h6.17v11.03h-6.17zM513.0 1444.1h6.17v11.03h-6.17zM595.9 1444.1h6.17v11.03h-6.17zM601.8 1465.7h6.17v11.03h-6.17zM542.6 1476.5h6.17v11.03h-6.17zM696.5 1476.5h6.17v11.03h-6.17zM329.4 1487.3h6.17v11.03h-6.17zM382.7 1487.3h6.17v11.03h-6.17zM394.6 1487.3h6.17v11.03h-6.17zM566.3 1487.3h6.17v11.03h-6.17zM666.9 1487.3h6.17v11.03h-6.17zM643.3 1498.0h6.17v11.03h-6.17zM501.1 1530.4h6.17v11.03h-6.17zM353.1 1541.2h6.17v11.03h-6.17zM376.8 1541.2h6.17v11.03h-6.17zM430.1 1541.2h6.17v11.03h-6.17zM566.3 1562.8h6.17v11.03h-6.17zM601.8 1562.8h6.17v11.03h-6.17zM708.4 1562.8h6.17v11.03h-6.17zM761.7 1562.8h6.17v11.03h-6.17zM258.4 1573.5h6.17v11.03h-6.17zM595.9 1573.5h6.17v11.03h-6.17zM637.3 1573.5h6.17v11.03h-6.17zM643.3 1573.5h6.17v11.03h-6.17zM655.1 1573.5h6.17v11.03h-6.17zM672.9 1573.5h6.17v11.03h-6.17zM702.5 1573.5h6.17v11.03h-6.17zM293.9 1584.3h6.17v11.03h-6.17zM317.6 1584.3h6.17v11.03h-6.17zM743.9 1584.3h6.17v11.03h-6.17z"/><path fill="#e7675e" d="M270.2 1250.0h6.17v11.03h-6.17zM299.8 1250.0h6.17v11.03h-6.17zM513.0 1250.0h6.17v11.03h-6.17zM672.9 1250.0h6.17v11.03h-6.17zM684.7 1250.0h6.17v11.03h-6.17zM738.0 1250.0h6.17v11.03h-6.17zM252.4 1282.4h6.17v11.03h-6.17zM317.6 1282.4h6.17v11.03h-6.17zM252.4 1293.2h6.17v11.03h-6.17zM258.4 1293.2h6.17v11.03h-6.17zM329.4 1293.2h6.17v11.03h-6.17zM388.6 1293.2h6.17v11.03h-6.17zM738.0 1293.2h6.17v11.03h-6.17zM228.8 1304.0h6.17v11.03h-6.17zM234.7 1304.0h6.17v11.03h-6.17zM299.8 1314.7h6.17v11.03h-6.17zM270.2 1325.5h6.17v11.03h-6.17zM228.8 1336.3h6.17v11.03h-6.17zM264.3 1336.3h6.17v11.03h-6.17zM353.1 1336.3h6.17v11.03h-6.17zM282.1 1347.1h6.17v11.03h-6.17zM341.3 1347.1h6.17v11.03h-6.17zM234.7 1357.9h6.17v11.03h-6.17zM696.5 1357.9h6.17v11.03h-6.17zM412.3 1368.7h6.17v11.03h-6.17zM234.7 1379.4h6.17v11.03h-6.17zM246.5 1379.4h6.17v11.03h-6.17zM370.9 1379.4h6.17v11.03h-6.17zM447.9 1390.2h6.17v11.03h-6.17zM513.0 1433.3h6.17v11.03h-6.17zM542.6 1487.3h6.17v11.03h-6.17zM572.2 1487.3h6.17v11.03h-6.17zM578.1 1487.3h6.17v11.03h-6.17zM631.4 1487.3h6.17v11.03h-6.17zM655.1 1487.3h6.17v11.03h-6.17zM637.3 1498.0h6.17v11.03h-6.17zM228.8 1573.5h6.17v11.03h-6.17zM234.7 1573.5h6.17v11.03h-6.17zM666.9 1573.5h6.17v11.03h-6.17zM696.5 1573.5h6.17v11.03h-6.17zM584.0 1584.3h6.17v11.03h-6.17z"/><path fill="#e45249" d="M530.7 1250.0h6.17v11.03h-6.17zM625.5 1250.0h6.17v11.03h-6.17zM690.6 1250.0h6.17v11.03h-6.17zM743.9 1250.0h6.17v11.03h-6.17zM234.7 1271.6h6.17v11.03h-6.17zM264.3 1271.6h6.17v11.03h-6.17zM288.0 1282.4h6.17v11.03h-6.17zM335.3 1293.2h6.17v11.03h-6.17zM436.0 1304.0h6.17v11.03h-6.17zM222.8 1314.7h6.17v11.03h-6.17zM282.1 1314.7h6.17v11.03h-6.17zM353.1 1325.5h6.17v11.03h-6.17zM234.7 1336.3h6.17v11.03h-6.17zM240.6 1336.3h6.17v11.03h-6.17zM376.8 1336.3h6.17v11.03h-6.17zM211.0 1347.1h6.17v11.03h-6.17zM335.3 1347.1h6.17v11.03h-6.17zM365.0 1357.9h6.17v11.03h-6.17zM216.9 1368.7h6.17v11.03h-6.17zM258.4 1379.4h6.17v11.03h-6.17zM276.1 1379.4h6.17v11.03h-6.17zM282.1 1379.4h6.17v11.03h-6.17zM471.5 1390.2h6.17v11.03h-6.17zM738.0 1390.2h6.17v11.03h-6.17zM643.3 1433.3h6.17v11.03h-6.17zM548.5 1508.8h6.17v11.03h-6.17zM678.8 1573.5h6.17v11.03h-6.17z"/></g>
<rect x="146.6" y="1209.1" width="51.1" height="392.6" fill="#da281b"/>
<rect x="211" y="1620.7" width="326" height="47.1" fill="#3a2a95"/>
<rect x="537" y="1620.7" width="231.5" height="47.1" fill="#da2a1b"/>
<text transform="translate(125.20,1605.20) rotate(-90)" x="-1.51" y="0" font-size="33.00" textLength="374.50" lengthAdjust="spacingAndGlyphs" fill="#000">optimal NK8 surrogates</text>
<text x="352.16" y="1712.90" font-size="30.09" textLength="53.02" lengthAdjust="spacingAndGlyphs" fill="#3b7fc4">NK8</text>
<text x="404.92" y="1702.58" font-size="12.80" textLength="14.78" lengthAdjust="spacingAndGlyphs" fill="#3b7fc4">lo</text>
<text x="624.45" y="1712.90" font-size="30.09" textLength="53.45" lengthAdjust="spacingAndGlyphs" fill="#e0261b">NK8</text>
<text x="677.53" y="1702.70" font-size="17.53" textLength="15.41" lengthAdjust="spacingAndGlyphs" fill="#e0261b">hi</text>
<text x="0.42" y="1767.30" font-size="37.94" textLength="23.78" lengthAdjust="spacingAndGlyphs" fill="#000" font-weight="bold">E</text>
<g stroke="#000" fill="none">
<line x1="233.2" y1="1820.5" x2="233.2" y2="2086" stroke-width="4.7"/>
<line x1="235.3" y1="2091" x2="235.3" y2="2349.6" stroke-width="4.5"/>
<line x1="224.6" y1="2083.6" x2="709.8" y2="2083.6" stroke-width="4.5"/>
<line x1="224.6" y1="1822.6" x2="233" y2="1822.6" stroke-width="4"/>
<line x1="224.6" y1="1887.8" x2="233" y2="1887.8" stroke-width="4"/>
<line x1="224.6" y1="1953" x2="233" y2="1953" stroke-width="4"/>
<line x1="224.6" y1="2017.6" x2="233" y2="2017.6" stroke-width="4"/>
<line x1="226.4" y1="2138" x2="235" y2="2138" stroke-width="4"/>
<line x1="226.4" y1="2207.4" x2="235" y2="2207.4" stroke-width="4"/>
<line x1="226.4" y1="2277.3" x2="235" y2="2277.3" stroke-width="4"/>
<line x1="226.4" y1="2346.6" x2="235" y2="2346.6" stroke-width="4"/>
<line x1="327.8" y1="2084" x2="327.8" y2="2090.4" stroke-width="5.5"/>
<line x1="422.8" y1="2084" x2="422.8" y2="2090.4" stroke-width="5.5"/>
<line x1="517.2" y1="2084" x2="517.2" y2="2090.4" stroke-width="5.5"/>
<line x1="612.2" y1="2084" x2="612.2" y2="2090.4" stroke-width="5.5"/>
<line x1="706.8" y1="2084" x2="706.8" y2="2090.4" stroke-width="5.5"/>
</g>
<ellipse cx="347" cy="1994.9" rx="6" ry="4.6" fill="#e2331c"/>
<ellipse cx="347" cy="2001.3" rx="6" ry="4.6" fill="#e2331c"/>
<ellipse cx="410.7" cy="1958.4" rx="6" ry="4.6" fill="#e2331c"/>
<ellipse cx="449.2" cy="1929.3" rx="6" ry="4.6" fill="#e2331c"/>
<ellipse cx="488.6" cy="1903.1" rx="6" ry="4.6" fill="#e2331c"/>
<ellipse cx="507.4" cy="1896.7" rx="6" ry="4.6" fill="#e2331c"/>
<ellipse cx="508.4" cy="1905.6" rx="6" ry="4.6" fill="#e2331c"/>
<ellipse cx="509.4" cy="1914.5" rx="6" ry="4.6" fill="#e2331c"/>
<ellipse cx="533.1" cy="1905.6" rx="6" ry="4.6" fill="#e2331c"/>
<ellipse cx="544.9" cy="1908.5" rx="6" ry="4.6" fill="#e2331c"/>
<ellipse cx="550.8" cy="1916.4" rx="6" ry="4.6" fill="#e2331c"/>
<ellipse cx="558.7" cy="1923.8" rx="6" ry="4.6" fill="#e2331c"/>
<ellipse cx="565.1" cy="1933.7" rx="6" ry="4.6" fill="#e2331c"/>
<ellipse cx="622.9" cy="1903.6" rx="6" ry="4.6" fill="#e2331c"/>
<ellipse cx="634.3" cy="1916.4" rx="6" ry="4.6" fill="#e2331c"/>
<ellipse cx="641.7" cy="1934.2" rx="6" ry="4.6" fill="#e2331c"/>
<ellipse cx="644.1" cy="1959.4" rx="6" ry="4.6" fill="#e2331c"/>
<ellipse cx="654" cy="1979.6" rx="6" ry="4.6" fill="#e2331c"/>
<circle cx="245.8" cy="2099.1" r="5.6" fill="#4b55b6"/>
<circle cx="249.3" cy="2129.7" r="5.6" fill="#4b55b6"/>
<circle cx="255.2" cy="2154.8" r="5.6" fill="#4b55b6"/>
<circle cx="256.7" cy="2180.5" r="5.6" fill="#4b55b6"/>
<circle cx="259.1" cy="2205.2" r="5.6" fill="#4b55b6"/>
<circle cx="260.1" cy="2228.4" r="5.6" fill="#4b55b6"/>
<circle cx="267" cy="2247.6" r="5.6" fill="#4b55b6"/>
<circle cx="275.4" cy="2263" r="5.6" fill="#4b55b6"/>
<circle cx="292.2" cy="2268.4" r="5.6" fill="#4b55b6"/>
<circle cx="309.5" cy="2270.3" r="5.6" fill="#4b55b6"/>
<circle cx="310.5" cy="2281.7" r="5.6" fill="#4b55b6"/>
<circle cx="330.2" cy="2277.7" r="5.6" fill="#4b55b6"/>
<circle cx="365.3" cy="2258" r="5.6" fill="#4b55b6"/>
<circle cx="456.6" cy="2186.4" r="5.6" fill="#4b55b6"/>
<circle cx="487.7" cy="2165.7" r="5.6" fill="#4b55b6"/>
<circle cx="544.4" cy="2126.2" r="5.6" fill="#4b55b6"/>
<text x="164.99" y="1836.06" font-size="34.75" textLength="46.67" lengthAdjust="spacingAndGlyphs" fill="#000">0.8</text>
<text x="165.01" y="1968.16" font-size="34.89" textLength="45.75" lengthAdjust="spacingAndGlyphs" fill="#000">0.4</text>
<text x="193.86" y="2092.06" font-size="34.75" textLength="20.48" lengthAdjust="spacingAndGlyphs" fill="#000">0</text>
<text x="146.64" y="2214.26" font-size="34.32" textLength="65.83" lengthAdjust="spacingAndGlyphs" fill="#000">- 0.4</text>
<text x="146.63" y="2356.66" font-size="34.32" textLength="66.31" lengthAdjust="spacingAndGlyphs" fill="#000">- 0.8</text>
<text transform="translate(130.40,2317.50) rotate(-90)" x="-2.86" y="0" font-size="33.00" textLength="462.40" lengthAdjust="spacingAndGlyphs" fill="#000">Normalised Enrichment Score</text>
<text x="650.14" y="1846.90" font-size="30.23" textLength="72.88" lengthAdjust="spacingAndGlyphs" fill="#e0261b">NK8+</text>
<text x="638.40" y="1882.90" font-size="29.00" textLength="135.13" lengthAdjust="spacingAndGlyphs" fill="#e0261b">surrogates</text>
<text x="255.28" y="2334.50" font-size="29.00" textLength="64.37" lengthAdjust="spacingAndGlyphs" fill="#3b7fc4">NK8-</text>
<text x="250.90" y="2372.50" font-size="29.00" textLength="136.14" lengthAdjust="spacingAndGlyphs" fill="#3b7fc4">surrogates</text>
<text x="575.42" y="2360.20" font-size="30.23" textLength="200.31" lengthAdjust="spacingAndGlyphs" fill="#000" font-weight="bold">GSEAp &lt; 0.05</text>
<line x1="466.4" y1="2419.4" x2="280" y2="2419.4" stroke="#3a7fc4" stroke-width="3.5"/>
<polygon points="250.7,2419.4 284,2410.8 284,2428" fill="#3a7fc4"/>
<line x1="539" y1="2419.4" x2="725" y2="2419.4" stroke="#e02a1b" stroke-width="3.5"/>
<polygon points="755.2,2419.4 721.6,2410.8 721.6,2428" fill="#e02a1b"/>
<text x="315.36" y="2477.00" font-size="34.88" textLength="94.29" lengthAdjust="spacingAndGlyphs" fill="#3b7fc4">NK8lo</text>
<text x="598.34" y="2477.00" font-size="34.88" textLength="95.01" lengthAdjust="spacingAndGlyphs" fill="#e0261b">NK8hi</text>
<text x="981.69" y="1338.00" font-size="37.79" textLength="22.03" lengthAdjust="spacingAndGlyphs" fill="#000" font-weight="bold">F</text>
<g stroke="#000" fill="none">
<line x1="1132.5" y1="1383.7" x2="1132.5" y2="1791.5" stroke-width="6.4"/>
<line x1="1118.2" y1="1788.3" x2="1676.8" y2="1788.3" stroke-width="6.6"/>
<line x1="1118.3" y1="1419.7" x2="1133" y2="1419.7" stroke-width="6"/>
<line x1="1118.3" y1="1604.1" x2="1133" y2="1604.1" stroke-width="6"/>
<line x1="1131.8" y1="1788" x2="1131.8" y2="1804.5" stroke-width="6"/>
<line x1="1313.2" y1="1788" x2="1313.2" y2="1804.5" stroke-width="6"/>
<line x1="1493.1" y1="1788" x2="1493.1" y2="1804.5" stroke-width="6"/>
<line x1="1673.8" y1="1788" x2="1673.8" y2="1804.5" stroke-width="6"/>
</g>
<polyline points="1131.10,1420.00 1151.46,1420.00 1151.46,1430.54 1156.09,1430.54 1156.09,1439.79 1159.79,1439.79 1159.79,1448.12 1164.42,1448.12 1164.42,1462.00 1175.52,1462.00 1175.52,1474.03 1179.23,1474.03 1179.23,1482.36 1183.85,1482.36 1183.85,1496.24 1197.73,1496.24 1197.73,1517.53 1209.76,1517.53 1209.76,1530.48 1214.39,1530.48 1214.39,1538.81 1218.09,1538.81 1218.09,1545.29 1229.20,1545.29 1229.20,1551.77 1246.78,1551.77 1246.78,1566.02 1261.59,1566.02 1261.59,1593.04 1282.87,1593.04 1282.87,1600.81 1287.50,1600.81 1287.50,1614.70 1295.83,1614.70 1295.83,1622.10 1302.31,1622.10 1302.31,1628.02 1330.07,1628.02 1330.07,1635.05 1336.10,1635.05 1336.10,1642.30 1359.20,1642.30 1359.20,1649.40 1368.90,1649.40 1368.90,1656.80 1376.30,1656.80 1376.30,1663.20 1382.40,1663.20 1382.40,1670.60 1390.70,1670.60 1390.70,1678.00 1393.50,1678.00 1393.50,1691.50 1436.00,1691.50 1436.00,1698.80 1459.20,1698.80 1459.20,1705.40 1476.80,1705.40 1476.80,1712.80 1521.20,1712.80 1521.20,1719.70 1590.60,1719.70" fill="none" stroke="#4a53b1" stroke-width="6.5" stroke-linejoin="miter"/>
<polyline points="1131.10,1420.00 1148.70,1420.00 1148.70,1428.70 1162.60,1428.70 1162.60,1437.90 1172.70,1437.90 1172.70,1447.20 1181.10,1447.20 1181.10,1455.50 1198.70,1455.50 1198.70,1464.80 1212.50,1464.80 1212.50,1473.50 1229.60,1473.50 1229.60,1482.40 1243.10,1482.40 1243.10,1491.20 1261.60,1491.20 1261.60,1500.50 1296.20,1500.50 1296.20,1509.60 1328.20,1509.60 1328.20,1518.50 1331.70,1518.50 1331.70,1527.80 1441.60,1527.80 1441.60,1536.40 1470.30,1536.40 1470.30,1545.70 1480.50,1545.70 1480.50,1554.60 1519.30,1554.60 1519.30,1563.80 1540.60,1563.80 1540.60,1573.10 1563.70,1573.10 1563.70,1581.80 1580.40,1581.80 1580.40,1590.50 1586.90,1590.50 1586.90,1598.50 1588.70,1598.50 1588.70,1607.00" fill="none" stroke="#e0311a" stroke-width="6.5" stroke-linejoin="miter"/>
<rect x="1585.5" y="1601" width="7" height="8" fill="#000"/>
<rect x="1585.5" y="1711.5" width="7" height="8" fill="#000"/>
<text x="1031.00" y="1430.70" font-size="40.96" textLength="67.89" lengthAdjust="spacingAndGlyphs" fill="#000">100</text>
<text x="1054.15" y="1608.10" font-size="41.10" textLength="45.75" lengthAdjust="spacingAndGlyphs" fill="#000">50</text>
<text x="1072.64" y="1789.40" font-size="40.96" textLength="22.22" lengthAdjust="spacingAndGlyphs" fill="#000">0</text>
<text x="1125.30" y="1854.89" font-size="41.52" textLength="22.80" lengthAdjust="spacingAndGlyphs" fill="#000">0</text>
<text x="1279.56" y="1854.89" font-size="41.52" textLength="68.44" lengthAdjust="spacingAndGlyphs" fill="#000">500</text>
<text x="1438.07" y="1854.89" font-size="41.52" textLength="91.33" lengthAdjust="spacingAndGlyphs" fill="#000">1000</text>
<text x="1619.47" y="1854.89" font-size="41.52" textLength="91.33" lengthAdjust="spacingAndGlyphs" fill="#000">1500</text>
<text x="1325.78" y="1922.30" font-size="41.00" textLength="186.50" lengthAdjust="spacingAndGlyphs" fill="#000">time, days</text>
<text transform="translate(1003.10,1820.90) rotate(-90)" x="-2.75" y="0" font-size="42.50" textLength="442.13" lengthAdjust="spacingAndGlyphs" fill="#000">relapse free survival / %</text>
<text x="1310.37" y="1449.10" font-size="43.75" textLength="191.56" lengthAdjust="spacingAndGlyphs" fill="#000">P = 0.0003</text>
<text x="1532.04" y="1541.70" font-size="43.46" textLength="77.29" lengthAdjust="spacingAndGlyphs" fill="#e0261b">NK8</text>
<text x="1608.40" y="1527.30" font-size="25.53" textLength="21.35" lengthAdjust="spacingAndGlyphs" fill="#e0261b">hi</text>
<text x="1570.30" y="1761.60" font-size="44.48" textLength="76.00" lengthAdjust="spacingAndGlyphs" fill="#3b7fc4">NK8</text>
<text x="1646.98" y="1745.47" font-size="23.97" textLength="19.90" lengthAdjust="spacingAndGlyphs" fill="#3b7fc4">lo</text>
</svg></body></html>
